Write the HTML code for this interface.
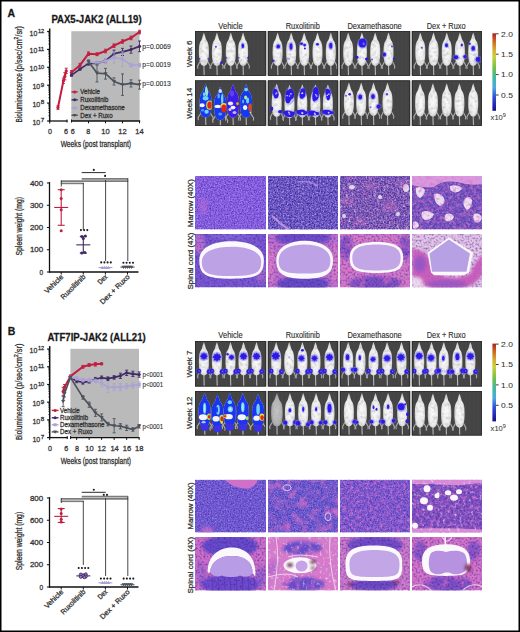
<!DOCTYPE html>
<html><head><meta charset="utf-8"><style>
html,body{margin:0;padding:0;background:#fff;}
svg{display:block;}
text{font-family:"Liberation Sans",sans-serif;stroke:#333;stroke-width:0.28px;}
</style></head><body>
<svg xmlns="http://www.w3.org/2000/svg" width="520" height="632" viewBox="0 0 520 632">
<defs><linearGradient id="cbar" x1="0" y1="0" x2="0" y2="1"><stop offset="0" stop-color="#a82020"/><stop offset="0.08" stop-color="#c85a20"/><stop offset="0.22" stop-color="#d8b030"/><stop offset="0.3" stop-color="#c8d038"/><stop offset="0.45" stop-color="#70c048"/><stop offset="0.58" stop-color="#40b8a8"/><stop offset="0.7" stop-color="#50a8e0"/><stop offset="0.82" stop-color="#3050d8"/><stop offset="1" stop-color="#180c90"/></linearGradient>
<radialGradient id="mg" cx="0.5" cy="0.55" r="0.62"><stop offset="0" stop-color="#fbfbfb"/><stop offset="0.6" stop-color="#ececec"/><stop offset="1" stop-color="#b4b4b4"/></radialGradient>
<radialGradient id="mg2" cx="0.5" cy="0.55" r="0.6"><stop offset="0" stop-color="#c4c4c4"/><stop offset="0.6" stop-color="#b4b4b4"/><stop offset="1" stop-color="#888"/></radialGradient>
<linearGradient id="vstripe" x1="0" y1="0" x2="4" y2="0" spreadMethod="repeat" gradientUnits="userSpaceOnUse"><stop offset="0" stop-color="#3c3c3c"/><stop offset="0.5" stop-color="#4c4c4c"/><stop offset="1" stop-color="#3c3c3c"/></linearGradient>
<filter id="mtex" x="-20%" y="-10%" width="140%" height="120%" color-interpolation-filters="sRGB"><feTurbulence type="fractalNoise" baseFrequency="0.3" numOctaves="2" seed="5" result="n"/><feColorMatrix in="n" type="matrix" values="0 0 0 0 0.66  0 0 0 0 0.66  0 0 0 0 0.67  1.3 0 0 0 -0.6" result="dn"/><feComposite in="dn" in2="SourceGraphic" operator="in" result="dm"/><feMerge result="m"><feMergeNode in="SourceGraphic"/><feMergeNode in="dm"/></feMerge><feGaussianBlur in="m" stdDeviation="0.35"/></filter>
<filter id="bl" x="-50%" y="-50%" width="200%" height="200%"><feGaussianBlur stdDeviation="0.45"/></filter>
<filter id="bl1" x="-20%" y="-20%" width="140%" height="140%"><feGaussianBlur stdDeviation="0.5"/></filter>
<filter id="bl2" x="-50%" y="-50%" width="200%" height="200%"><feGaussianBlur stdDeviation="1.5"/></filter>
<filter id="dk1" x="0" y="0" width="1" height="1" filterUnits="objectBoundingBox" color-interpolation-filters="sRGB"><feTurbulence type="fractalNoise" baseFrequency="0.7" numOctaves="2" seed="3"/><feColorMatrix type="matrix" values="0 0 0 0 0.227 0 0 0 0 0.133 0 0 0 0 0.565 1.5 0 0 0 -0.55"/></filter><filter id="lt1" x="0" y="0" width="1" height="1" filterUnits="objectBoundingBox" color-interpolation-filters="sRGB"><feTurbulence type="fractalNoise" baseFrequency="0.65" numOctaves="2" seed="11"/><feColorMatrix type="matrix" values="0 0 0 0 0.847 0 0 0 0 0.800 0 0 0 0 1.000 1.4 0 0 0 -0.8"/></filter><filter id="dk2" x="0" y="0" width="1" height="1" filterUnits="objectBoundingBox" color-interpolation-filters="sRGB"><feTurbulence type="fractalNoise" baseFrequency="0.65" numOctaves="2" seed="5"/><feColorMatrix type="matrix" values="0 0 0 0 0.173 0 0 0 0 0.094 0 0 0 0 0.471 1.7 0 0 0 -0.55"/></filter><filter id="lt2" x="0" y="0" width="1" height="1" filterUnits="objectBoundingBox" color-interpolation-filters="sRGB"><feTurbulence type="fractalNoise" baseFrequency="0.6" numOctaves="2" seed="17"/><feColorMatrix type="matrix" values="0 0 0 0 0.863 0 0 0 0 0.816 0 0 0 0 1.000 1.7 0 0 0 -0.9"/></filter><filter id="pk1" x="0" y="0" width="1" height="1" filterUnits="objectBoundingBox" color-interpolation-filters="sRGB"><feTurbulence type="fractalNoise" baseFrequency="0.3" numOctaves="2" seed="21"/><feColorMatrix type="matrix" values="0 0 0 0 0.878 0 0 0 0 0.439 0 0 0 0 0.784 2.0 0 0 0 -0.9"/></filter><filter id="pk2" x="0" y="0" width="1" height="1" filterUnits="objectBoundingBox" color-interpolation-filters="sRGB"><feTurbulence type="fractalNoise" baseFrequency="0.12" numOctaves="2" seed="29"/><feColorMatrix type="matrix" values="0 0 0 0 0.878 0 0 0 0 0.439 0 0 0 0 0.784 2.0 0 0 0 -0.9"/></filter><filter id="dk3" x="0" y="0" width="1" height="1" filterUnits="objectBoundingBox" color-interpolation-filters="sRGB"><feTurbulence type="fractalNoise" baseFrequency="0.5" numOctaves="2" seed="37"/><feColorMatrix type="matrix" values="0 0 0 0 0.227 0 0 0 0 0.125 0 0 0 0 0.533 1.4 0 0 0 -0.6"/></filter><filter id="lt3" x="0" y="0" width="1" height="1" filterUnits="objectBoundingBox" color-interpolation-filters="sRGB"><feTurbulence type="fractalNoise" baseFrequency="0.35" numOctaves="2" seed="41"/><feColorMatrix type="matrix" values="0 0 0 0 1.000 0 0 0 0 1.000 0 0 0 0 1.000 1.8 0 0 0 -1.05"/></filter></defs>
<rect x="0" y="0" width="520" height="632" fill="#fff"/>
<text x="7.40" y="16.80" font-size="10.5" text-anchor="start" font-weight="bold" fill="#111" >A</text>
<text x="7.80" y="334.80" font-size="10.5" text-anchor="start" font-weight="bold" fill="#111" >B</text>
<text x="51.40" y="22.90" font-size="10.1" text-anchor="start" font-weight="bold" fill="#111" textLength="90.2" lengthAdjust="spacingAndGlyphs" >PAX5-JAK2 (ALL19)</text>
<text x="47.40" y="341.00" font-size="10.1" text-anchor="start" font-weight="bold" fill="#111" textLength="98.3" lengthAdjust="spacingAndGlyphs" >ATF7IP-JAK2 (ALL21)</text>
<rect x="71.3" y="31.20" width="68.30" height="89.80" fill="#bababa"/>
<line x1="49.7" y1="28.50" x2="49.7" y2="121.70" stroke="#111" stroke-width="1.5"/>
<line x1="47.1" y1="121.00" x2="49.7" y2="121.00" stroke="#111" stroke-width="1.2"/>
<line x1="48.2" y1="115.61" x2="49.7" y2="115.61" stroke="#111" stroke-width="0.55"/>
<line x1="48.2" y1="112.46" x2="49.7" y2="112.46" stroke="#111" stroke-width="0.55"/>
<line x1="48.2" y1="110.22" x2="49.7" y2="110.22" stroke="#111" stroke-width="0.55"/>
<line x1="48.2" y1="108.49" x2="49.7" y2="108.49" stroke="#111" stroke-width="0.55"/>
<line x1="48.2" y1="107.07" x2="49.7" y2="107.07" stroke="#111" stroke-width="0.55"/>
<line x1="48.2" y1="105.87" x2="49.7" y2="105.87" stroke="#111" stroke-width="0.55"/>
<line x1="48.2" y1="104.83" x2="49.7" y2="104.83" stroke="#111" stroke-width="0.55"/>
<line x1="48.2" y1="103.92" x2="49.7" y2="103.92" stroke="#111" stroke-width="0.55"/>
<text x="40.70" y="122.30" font-size="5.6" text-anchor="start" font-weight="normal" fill="#3a3a3a" textLength="3.5" lengthAdjust="spacingAndGlyphs" >7</text>
<text x="40.20" y="125.00" font-size="7.6" text-anchor="end" font-weight="normal" fill="#3a3a3a" textLength="7.8" lengthAdjust="spacingAndGlyphs" >10</text>
<line x1="47.1" y1="103.10" x2="49.7" y2="103.10" stroke="#111" stroke-width="1.2"/>
<line x1="48.2" y1="97.71" x2="49.7" y2="97.71" stroke="#111" stroke-width="0.55"/>
<line x1="48.2" y1="94.56" x2="49.7" y2="94.56" stroke="#111" stroke-width="0.55"/>
<line x1="48.2" y1="92.32" x2="49.7" y2="92.32" stroke="#111" stroke-width="0.55"/>
<line x1="48.2" y1="90.59" x2="49.7" y2="90.59" stroke="#111" stroke-width="0.55"/>
<line x1="48.2" y1="89.17" x2="49.7" y2="89.17" stroke="#111" stroke-width="0.55"/>
<line x1="48.2" y1="87.97" x2="49.7" y2="87.97" stroke="#111" stroke-width="0.55"/>
<line x1="48.2" y1="86.93" x2="49.7" y2="86.93" stroke="#111" stroke-width="0.55"/>
<line x1="48.2" y1="86.02" x2="49.7" y2="86.02" stroke="#111" stroke-width="0.55"/>
<text x="40.70" y="104.40" font-size="5.6" text-anchor="start" font-weight="normal" fill="#3a3a3a" textLength="3.5" lengthAdjust="spacingAndGlyphs" >8</text>
<text x="40.20" y="107.10" font-size="7.6" text-anchor="end" font-weight="normal" fill="#3a3a3a" textLength="7.8" lengthAdjust="spacingAndGlyphs" >10</text>
<line x1="47.1" y1="85.20" x2="49.7" y2="85.20" stroke="#111" stroke-width="1.2"/>
<line x1="48.2" y1="79.81" x2="49.7" y2="79.81" stroke="#111" stroke-width="0.55"/>
<line x1="48.2" y1="76.66" x2="49.7" y2="76.66" stroke="#111" stroke-width="0.55"/>
<line x1="48.2" y1="74.42" x2="49.7" y2="74.42" stroke="#111" stroke-width="0.55"/>
<line x1="48.2" y1="72.69" x2="49.7" y2="72.69" stroke="#111" stroke-width="0.55"/>
<line x1="48.2" y1="71.27" x2="49.7" y2="71.27" stroke="#111" stroke-width="0.55"/>
<line x1="48.2" y1="70.07" x2="49.7" y2="70.07" stroke="#111" stroke-width="0.55"/>
<line x1="48.2" y1="69.03" x2="49.7" y2="69.03" stroke="#111" stroke-width="0.55"/>
<line x1="48.2" y1="68.12" x2="49.7" y2="68.12" stroke="#111" stroke-width="0.55"/>
<text x="40.70" y="86.50" font-size="5.6" text-anchor="start" font-weight="normal" fill="#3a3a3a" textLength="3.5" lengthAdjust="spacingAndGlyphs" >9</text>
<text x="40.20" y="89.20" font-size="7.6" text-anchor="end" font-weight="normal" fill="#3a3a3a" textLength="7.8" lengthAdjust="spacingAndGlyphs" >10</text>
<line x1="47.1" y1="67.30" x2="49.7" y2="67.30" stroke="#111" stroke-width="1.2"/>
<line x1="48.2" y1="61.91" x2="49.7" y2="61.91" stroke="#111" stroke-width="0.55"/>
<line x1="48.2" y1="58.76" x2="49.7" y2="58.76" stroke="#111" stroke-width="0.55"/>
<line x1="48.2" y1="56.52" x2="49.7" y2="56.52" stroke="#111" stroke-width="0.55"/>
<line x1="48.2" y1="54.79" x2="49.7" y2="54.79" stroke="#111" stroke-width="0.55"/>
<line x1="48.2" y1="53.37" x2="49.7" y2="53.37" stroke="#111" stroke-width="0.55"/>
<line x1="48.2" y1="52.17" x2="49.7" y2="52.17" stroke="#111" stroke-width="0.55"/>
<line x1="48.2" y1="51.13" x2="49.7" y2="51.13" stroke="#111" stroke-width="0.55"/>
<line x1="48.2" y1="50.22" x2="49.7" y2="50.22" stroke="#111" stroke-width="0.55"/>
<text x="37.90" y="68.60" font-size="5.6" text-anchor="start" font-weight="normal" fill="#3a3a3a" textLength="6.3" lengthAdjust="spacingAndGlyphs" >10</text>
<text x="37.40" y="71.30" font-size="7.6" text-anchor="end" font-weight="normal" fill="#3a3a3a" textLength="7.8" lengthAdjust="spacingAndGlyphs" >10</text>
<line x1="47.1" y1="49.40" x2="49.7" y2="49.40" stroke="#111" stroke-width="1.2"/>
<line x1="48.2" y1="44.01" x2="49.7" y2="44.01" stroke="#111" stroke-width="0.55"/>
<line x1="48.2" y1="40.86" x2="49.7" y2="40.86" stroke="#111" stroke-width="0.55"/>
<line x1="48.2" y1="38.62" x2="49.7" y2="38.62" stroke="#111" stroke-width="0.55"/>
<line x1="48.2" y1="36.89" x2="49.7" y2="36.89" stroke="#111" stroke-width="0.55"/>
<line x1="48.2" y1="35.47" x2="49.7" y2="35.47" stroke="#111" stroke-width="0.55"/>
<line x1="48.2" y1="34.27" x2="49.7" y2="34.27" stroke="#111" stroke-width="0.55"/>
<line x1="48.2" y1="33.23" x2="49.7" y2="33.23" stroke="#111" stroke-width="0.55"/>
<line x1="48.2" y1="32.32" x2="49.7" y2="32.32" stroke="#111" stroke-width="0.55"/>
<text x="37.90" y="50.70" font-size="5.6" text-anchor="start" font-weight="normal" fill="#3a3a3a" textLength="6.3" lengthAdjust="spacingAndGlyphs" >11</text>
<text x="37.40" y="53.40" font-size="7.6" text-anchor="end" font-weight="normal" fill="#3a3a3a" textLength="7.8" lengthAdjust="spacingAndGlyphs" >10</text>
<line x1="47.1" y1="31.50" x2="49.7" y2="31.50" stroke="#111" stroke-width="1.2"/>
<text x="37.90" y="32.80" font-size="5.6" text-anchor="start" font-weight="normal" fill="#3a3a3a" textLength="6.3" lengthAdjust="spacingAndGlyphs" >12</text>
<text x="37.40" y="35.50" font-size="7.6" text-anchor="end" font-weight="normal" fill="#3a3a3a" textLength="7.8" lengthAdjust="spacingAndGlyphs" >10</text>
<line x1="49.0" y1="121.00" x2="67.5" y2="121.00" stroke="#111" stroke-width="1.3"/>
<line x1="71.1" y1="121.00" x2="140.2" y2="121.00" stroke="#111" stroke-width="1.3"/>
<line x1="49.7" y1="121.00" x2="49.7" y2="123.50" stroke="#111" stroke-width="1"/>
<line x1="67" y1="119.50" x2="67" y2="122.50" stroke="#111" stroke-width="1"/>
<line x1="71.5" y1="119.50" x2="71.5" y2="122.50" stroke="#111" stroke-width="1"/>
<line x1="88.50" y1="121.00" x2="88.50" y2="123.30" stroke="#111" stroke-width="1"/>
<line x1="105.50" y1="121.00" x2="105.50" y2="123.30" stroke="#111" stroke-width="1"/>
<line x1="122.50" y1="121.00" x2="122.50" y2="123.30" stroke="#111" stroke-width="1"/>
<line x1="139.50" y1="121.00" x2="139.50" y2="123.30" stroke="#111" stroke-width="1"/>
<text x="49.90" y="134.10" font-size="7.6" text-anchor="middle" font-weight="normal" fill="#3a3a3a" textLength="4.0" lengthAdjust="spacingAndGlyphs" >0</text>
<text x="66.10" y="134.10" font-size="7.6" text-anchor="middle" font-weight="normal" fill="#3a3a3a" textLength="4.0" lengthAdjust="spacingAndGlyphs" >6</text>
<text x="72.80" y="134.10" font-size="7.6" text-anchor="middle" font-weight="normal" fill="#3a3a3a" textLength="4.0" lengthAdjust="spacingAndGlyphs" >6</text>
<text x="88.30" y="134.10" font-size="7.6" text-anchor="middle" font-weight="normal" fill="#3a3a3a" textLength="4.0" lengthAdjust="spacingAndGlyphs" >8</text>
<text x="105.50" y="134.10" font-size="7.6" text-anchor="middle" font-weight="normal" fill="#3a3a3a" textLength="8.4" lengthAdjust="spacingAndGlyphs" >10</text>
<text x="122.50" y="134.10" font-size="7.6" text-anchor="middle" font-weight="normal" fill="#3a3a3a" textLength="8.4" lengthAdjust="spacingAndGlyphs" >12</text>
<text x="139.40" y="134.10" font-size="7.6" text-anchor="middle" font-weight="normal" fill="#3a3a3a" textLength="8.4" lengthAdjust="spacingAndGlyphs" >14</text>
<text x="95.90" y="146.90" font-size="8.9" text-anchor="middle" font-weight="normal" fill="#2a2a2a" textLength="70.4" lengthAdjust="spacingAndGlyphs" >Weeks (post transplant)</text>
<text x="0" y="0" font-size="8.4" text-anchor="start" fill="#2a2a2a" textLength="49.5" lengthAdjust="spacingAndGlyphs" transform="translate(21.60,122.50) rotate(-90)">Bioluminescence</text>
<text x="0" y="0" font-size="8.4" text-anchor="start" fill="#2a2a2a" textLength="45.8" lengthAdjust="spacingAndGlyphs" transform="translate(21.60,71.70) rotate(-90)">(p/sec/cm<tspan font-size="5.5" dy="-3.2">2</tspan><tspan dy="3.2">/sr)</tspan></text>
<polyline points="57.95,107.57 63.45,80.72 64.83,76.25 66.20,70.88" fill="none" stroke="#c21f40" stroke-width="2.0" stroke-linejoin="round"/>
<polyline points="71.51,72.31 80.00,65.15 88.50,53.70 97.00,54.23 105.50,51.01 114.00,45.64 122.50,41.52 131.00,37.94 139.50,32.04" fill="none" stroke="#c21f40" stroke-width="2.0" stroke-linejoin="round"/>
<line x1="57.95" y1="105.78" x2="57.95" y2="109.36" stroke="#c21f40" stroke-width="0.9"/>
<line x1="56.45" y1="105.78" x2="59.45" y2="105.78" stroke="#c21f40" stroke-width="0.9"/>
<line x1="56.45" y1="109.36" x2="59.45" y2="109.36" stroke="#c21f40" stroke-width="0.9"/>
<circle cx="57.95" cy="107.57" r="1.6" fill="#c21f40"/>
<line x1="63.45" y1="78.04" x2="63.45" y2="83.41" stroke="#c21f40" stroke-width="0.9"/>
<line x1="61.95" y1="78.04" x2="64.95" y2="78.04" stroke="#c21f40" stroke-width="0.9"/>
<line x1="61.95" y1="83.41" x2="64.95" y2="83.41" stroke="#c21f40" stroke-width="0.9"/>
<circle cx="63.45" cy="80.72" r="1.6" fill="#c21f40"/>
<line x1="64.83" y1="72.67" x2="64.83" y2="79.83" stroke="#c21f40" stroke-width="0.9"/>
<line x1="63.33" y1="72.67" x2="66.33" y2="72.67" stroke="#c21f40" stroke-width="0.9"/>
<line x1="63.33" y1="79.83" x2="66.33" y2="79.83" stroke="#c21f40" stroke-width="0.9"/>
<circle cx="64.83" cy="76.25" r="1.6" fill="#c21f40"/>
<line x1="66.20" y1="68.19" x2="66.20" y2="73.56" stroke="#c21f40" stroke-width="0.9"/>
<line x1="64.70" y1="68.19" x2="67.70" y2="68.19" stroke="#c21f40" stroke-width="0.9"/>
<line x1="64.70" y1="73.56" x2="67.70" y2="73.56" stroke="#c21f40" stroke-width="0.9"/>
<circle cx="66.20" cy="70.88" r="1.6" fill="#c21f40"/>
<line x1="71.51" y1="70.52" x2="71.51" y2="74.10" stroke="#c21f40" stroke-width="0.9"/>
<line x1="70.01" y1="70.52" x2="73.01" y2="70.52" stroke="#c21f40" stroke-width="0.9"/>
<line x1="70.01" y1="74.10" x2="73.01" y2="74.10" stroke="#c21f40" stroke-width="0.9"/>
<circle cx="71.51" cy="72.31" r="1.6" fill="#c21f40"/>
<line x1="80.00" y1="63.36" x2="80.00" y2="66.94" stroke="#c21f40" stroke-width="0.9"/>
<line x1="78.50" y1="63.36" x2="81.50" y2="63.36" stroke="#c21f40" stroke-width="0.9"/>
<line x1="78.50" y1="66.94" x2="81.50" y2="66.94" stroke="#c21f40" stroke-width="0.9"/>
<circle cx="80.00" cy="65.15" r="1.6" fill="#c21f40"/>
<line x1="88.50" y1="51.91" x2="88.50" y2="55.49" stroke="#c21f40" stroke-width="0.9"/>
<line x1="87.00" y1="51.91" x2="90.00" y2="51.91" stroke="#c21f40" stroke-width="0.9"/>
<line x1="87.00" y1="55.49" x2="90.00" y2="55.49" stroke="#c21f40" stroke-width="0.9"/>
<circle cx="88.50" cy="53.70" r="1.6" fill="#c21f40"/>
<line x1="97.00" y1="52.80" x2="97.00" y2="55.66" stroke="#c21f40" stroke-width="0.9"/>
<line x1="95.50" y1="52.80" x2="98.50" y2="52.80" stroke="#c21f40" stroke-width="0.9"/>
<line x1="95.50" y1="55.66" x2="98.50" y2="55.66" stroke="#c21f40" stroke-width="0.9"/>
<circle cx="97.00" cy="54.23" r="1.6" fill="#c21f40"/>
<line x1="105.50" y1="49.22" x2="105.50" y2="52.80" stroke="#c21f40" stroke-width="0.9"/>
<line x1="104.00" y1="49.22" x2="107.00" y2="49.22" stroke="#c21f40" stroke-width="0.9"/>
<line x1="104.00" y1="52.80" x2="107.00" y2="52.80" stroke="#c21f40" stroke-width="0.9"/>
<circle cx="105.50" cy="51.01" r="1.6" fill="#c21f40"/>
<line x1="114.00" y1="43.85" x2="114.00" y2="47.43" stroke="#c21f40" stroke-width="0.9"/>
<line x1="112.50" y1="43.85" x2="115.50" y2="43.85" stroke="#c21f40" stroke-width="0.9"/>
<line x1="112.50" y1="47.43" x2="115.50" y2="47.43" stroke="#c21f40" stroke-width="0.9"/>
<circle cx="114.00" cy="45.64" r="1.6" fill="#c21f40"/>
<line x1="122.50" y1="39.73" x2="122.50" y2="43.31" stroke="#c21f40" stroke-width="0.9"/>
<line x1="121.00" y1="39.73" x2="124.00" y2="39.73" stroke="#c21f40" stroke-width="0.9"/>
<line x1="121.00" y1="43.31" x2="124.00" y2="43.31" stroke="#c21f40" stroke-width="0.9"/>
<circle cx="122.50" cy="41.52" r="1.6" fill="#c21f40"/>
<line x1="131.00" y1="36.15" x2="131.00" y2="39.73" stroke="#c21f40" stroke-width="0.9"/>
<line x1="129.50" y1="36.15" x2="132.50" y2="36.15" stroke="#c21f40" stroke-width="0.9"/>
<line x1="129.50" y1="39.73" x2="132.50" y2="39.73" stroke="#c21f40" stroke-width="0.9"/>
<circle cx="131.00" cy="37.94" r="1.6" fill="#c21f40"/>
<line x1="139.50" y1="30.25" x2="139.50" y2="33.83" stroke="#c21f40" stroke-width="0.9"/>
<line x1="138.00" y1="30.25" x2="141.00" y2="30.25" stroke="#c21f40" stroke-width="0.9"/>
<line x1="138.00" y1="33.83" x2="141.00" y2="33.83" stroke="#c21f40" stroke-width="0.9"/>
<circle cx="139.50" cy="32.04" r="1.6" fill="#c21f40"/>
<polyline points="71.51,75.18 80.00,69.09 88.50,63.36 97.00,63.36 105.50,60.86 114.00,53.70 122.50,51.91 131.00,49.58 139.50,46.36" fill="none" stroke="#3f2a66" stroke-width="1.7" stroke-linejoin="round"/>
<line x1="71.51" y1="74.28" x2="71.51" y2="76.07" stroke="#3f2a66" stroke-width="0.9"/>
<line x1="70.01" y1="74.28" x2="73.01" y2="74.28" stroke="#3f2a66" stroke-width="0.9"/>
<line x1="70.01" y1="76.07" x2="73.01" y2="76.07" stroke="#3f2a66" stroke-width="0.9"/>
<circle cx="71.51" cy="75.18" r="1.6" fill="#3f2a66"/>
<line x1="80.00" y1="68.19" x2="80.00" y2="69.98" stroke="#3f2a66" stroke-width="0.9"/>
<line x1="78.50" y1="68.19" x2="81.50" y2="68.19" stroke="#3f2a66" stroke-width="0.9"/>
<line x1="78.50" y1="69.98" x2="81.50" y2="69.98" stroke="#3f2a66" stroke-width="0.9"/>
<circle cx="80.00" cy="69.09" r="1.6" fill="#3f2a66"/>
<line x1="88.50" y1="61.57" x2="88.50" y2="65.15" stroke="#3f2a66" stroke-width="0.9"/>
<line x1="87.00" y1="61.57" x2="90.00" y2="61.57" stroke="#3f2a66" stroke-width="0.9"/>
<line x1="87.00" y1="65.15" x2="90.00" y2="65.15" stroke="#3f2a66" stroke-width="0.9"/>
<circle cx="88.50" cy="63.36" r="1.6" fill="#3f2a66"/>
<line x1="97.00" y1="61.57" x2="97.00" y2="65.15" stroke="#3f2a66" stroke-width="0.9"/>
<line x1="95.50" y1="61.57" x2="98.50" y2="61.57" stroke="#3f2a66" stroke-width="0.9"/>
<line x1="95.50" y1="65.15" x2="98.50" y2="65.15" stroke="#3f2a66" stroke-width="0.9"/>
<circle cx="97.00" cy="63.36" r="1.6" fill="#3f2a66"/>
<line x1="105.50" y1="59.07" x2="105.50" y2="62.65" stroke="#3f2a66" stroke-width="0.9"/>
<line x1="104.00" y1="59.07" x2="107.00" y2="59.07" stroke="#3f2a66" stroke-width="0.9"/>
<line x1="104.00" y1="62.65" x2="107.00" y2="62.65" stroke="#3f2a66" stroke-width="0.9"/>
<circle cx="105.50" cy="60.86" r="1.6" fill="#3f2a66"/>
<line x1="114.00" y1="50.12" x2="114.00" y2="57.28" stroke="#3f2a66" stroke-width="0.9"/>
<line x1="112.50" y1="50.12" x2="115.50" y2="50.12" stroke="#3f2a66" stroke-width="0.9"/>
<line x1="112.50" y1="57.28" x2="115.50" y2="57.28" stroke="#3f2a66" stroke-width="0.9"/>
<circle cx="114.00" cy="53.70" r="1.6" fill="#3f2a66"/>
<line x1="122.50" y1="48.33" x2="122.50" y2="55.49" stroke="#3f2a66" stroke-width="0.9"/>
<line x1="121.00" y1="48.33" x2="124.00" y2="48.33" stroke="#3f2a66" stroke-width="0.9"/>
<line x1="121.00" y1="55.49" x2="124.00" y2="55.49" stroke="#3f2a66" stroke-width="0.9"/>
<circle cx="122.50" cy="51.91" r="1.6" fill="#3f2a66"/>
<line x1="131.00" y1="46.00" x2="131.00" y2="53.16" stroke="#3f2a66" stroke-width="0.9"/>
<line x1="129.50" y1="46.00" x2="132.50" y2="46.00" stroke="#3f2a66" stroke-width="0.9"/>
<line x1="129.50" y1="53.16" x2="132.50" y2="53.16" stroke="#3f2a66" stroke-width="0.9"/>
<circle cx="131.00" cy="49.58" r="1.6" fill="#3f2a66"/>
<line x1="139.50" y1="40.99" x2="139.50" y2="51.73" stroke="#3f2a66" stroke-width="0.9"/>
<line x1="138.00" y1="40.99" x2="141.00" y2="40.99" stroke="#3f2a66" stroke-width="0.9"/>
<line x1="138.00" y1="51.73" x2="141.00" y2="51.73" stroke="#3f2a66" stroke-width="0.9"/>
<circle cx="139.50" cy="46.36" r="1.6" fill="#3f2a66"/>
<polyline points="88.50,61.75 97.00,63.18 105.50,61.04 114.00,57.63 122.50,59.07 131.00,65.15 139.50,65.15" fill="none" stroke="#aaa3d4" stroke-width="1.7" stroke-linejoin="round"/>
<line x1="88.50" y1="59.96" x2="88.50" y2="63.54" stroke="#aaa3d4" stroke-width="0.9"/>
<line x1="87.00" y1="59.96" x2="90.00" y2="59.96" stroke="#aaa3d4" stroke-width="0.9"/>
<line x1="87.00" y1="63.54" x2="90.00" y2="63.54" stroke="#aaa3d4" stroke-width="0.9"/>
<rect x="86.90" y="60.15" width="3.2" height="3.2" fill="#aaa3d4"/>
<line x1="97.00" y1="61.39" x2="97.00" y2="64.97" stroke="#aaa3d4" stroke-width="0.9"/>
<line x1="95.50" y1="61.39" x2="98.50" y2="61.39" stroke="#aaa3d4" stroke-width="0.9"/>
<line x1="95.50" y1="64.97" x2="98.50" y2="64.97" stroke="#aaa3d4" stroke-width="0.9"/>
<rect x="95.40" y="61.58" width="3.2" height="3.2" fill="#aaa3d4"/>
<line x1="105.50" y1="58.35" x2="105.50" y2="63.72" stroke="#aaa3d4" stroke-width="0.9"/>
<line x1="104.00" y1="58.35" x2="107.00" y2="58.35" stroke="#aaa3d4" stroke-width="0.9"/>
<line x1="104.00" y1="63.72" x2="107.00" y2="63.72" stroke="#aaa3d4" stroke-width="0.9"/>
<rect x="103.90" y="59.44" width="3.2" height="3.2" fill="#aaa3d4"/>
<line x1="114.00" y1="52.26" x2="114.00" y2="63.00" stroke="#aaa3d4" stroke-width="0.9"/>
<line x1="112.50" y1="52.26" x2="115.50" y2="52.26" stroke="#aaa3d4" stroke-width="0.9"/>
<line x1="112.50" y1="63.00" x2="115.50" y2="63.00" stroke="#aaa3d4" stroke-width="0.9"/>
<rect x="112.40" y="56.03" width="3.2" height="3.2" fill="#aaa3d4"/>
<line x1="122.50" y1="51.91" x2="122.50" y2="66.23" stroke="#aaa3d4" stroke-width="0.9"/>
<line x1="121.00" y1="51.91" x2="124.00" y2="51.91" stroke="#aaa3d4" stroke-width="0.9"/>
<line x1="121.00" y1="66.23" x2="124.00" y2="66.23" stroke="#aaa3d4" stroke-width="0.9"/>
<rect x="120.90" y="57.47" width="3.2" height="3.2" fill="#aaa3d4"/>
<line x1="131.00" y1="63.36" x2="131.00" y2="66.94" stroke="#aaa3d4" stroke-width="0.9"/>
<line x1="129.50" y1="63.36" x2="132.50" y2="63.36" stroke="#aaa3d4" stroke-width="0.9"/>
<line x1="129.50" y1="66.94" x2="132.50" y2="66.94" stroke="#aaa3d4" stroke-width="0.9"/>
<rect x="129.40" y="63.55" width="3.2" height="3.2" fill="#aaa3d4"/>
<line x1="139.50" y1="63.36" x2="139.50" y2="66.94" stroke="#aaa3d4" stroke-width="0.9"/>
<line x1="138.00" y1="63.36" x2="141.00" y2="63.36" stroke="#aaa3d4" stroke-width="0.9"/>
<line x1="138.00" y1="66.94" x2="141.00" y2="66.94" stroke="#aaa3d4" stroke-width="0.9"/>
<rect x="137.90" y="63.55" width="3.2" height="3.2" fill="#aaa3d4"/>
<polyline points="88.50,61.75 97.00,73.03 105.50,73.74 114.00,81.44 122.50,84.66 131.00,83.41 139.50,84.66" fill="none" stroke="#4d535c" stroke-width="1.7" stroke-linejoin="round"/>
<line x1="88.50" y1="59.96" x2="88.50" y2="63.54" stroke="#4d535c" stroke-width="0.9"/>
<line x1="87.00" y1="59.96" x2="90.00" y2="59.96" stroke="#4d535c" stroke-width="0.9"/>
<line x1="87.00" y1="63.54" x2="90.00" y2="63.54" stroke="#4d535c" stroke-width="0.9"/>
<polygon points="86.42,60.31 90.58,60.31 88.50,63.67" fill="#4d535c"/>
<line x1="97.00" y1="64.08" x2="97.00" y2="81.98" stroke="#4d535c" stroke-width="0.9"/>
<line x1="95.50" y1="64.08" x2="98.50" y2="64.08" stroke="#4d535c" stroke-width="0.9"/>
<line x1="95.50" y1="81.98" x2="98.50" y2="81.98" stroke="#4d535c" stroke-width="0.9"/>
<polygon points="94.92,71.59 99.08,71.59 97.00,74.95" fill="#4d535c"/>
<line x1="105.50" y1="68.37" x2="105.50" y2="79.11" stroke="#4d535c" stroke-width="0.9"/>
<line x1="104.00" y1="68.37" x2="107.00" y2="68.37" stroke="#4d535c" stroke-width="0.9"/>
<line x1="104.00" y1="79.11" x2="107.00" y2="79.11" stroke="#4d535c" stroke-width="0.9"/>
<polygon points="103.42,72.30 107.58,72.30 105.50,75.66" fill="#4d535c"/>
<line x1="114.00" y1="77.86" x2="114.00" y2="85.02" stroke="#4d535c" stroke-width="0.9"/>
<line x1="112.50" y1="77.86" x2="115.50" y2="77.86" stroke="#4d535c" stroke-width="0.9"/>
<line x1="112.50" y1="85.02" x2="115.50" y2="85.02" stroke="#4d535c" stroke-width="0.9"/>
<polygon points="111.92,80.00 116.08,80.00 114.00,83.36" fill="#4d535c"/>
<line x1="122.50" y1="73.92" x2="122.50" y2="95.40" stroke="#4d535c" stroke-width="0.9"/>
<line x1="121.00" y1="73.92" x2="124.00" y2="73.92" stroke="#4d535c" stroke-width="0.9"/>
<line x1="121.00" y1="95.40" x2="124.00" y2="95.40" stroke="#4d535c" stroke-width="0.9"/>
<polygon points="120.42,83.22 124.58,83.22 122.50,86.58" fill="#4d535c"/>
<line x1="131.00" y1="79.83" x2="131.00" y2="86.99" stroke="#4d535c" stroke-width="0.9"/>
<line x1="129.50" y1="79.83" x2="132.50" y2="79.83" stroke="#4d535c" stroke-width="0.9"/>
<line x1="129.50" y1="86.99" x2="132.50" y2="86.99" stroke="#4d535c" stroke-width="0.9"/>
<polygon points="128.92,81.97 133.08,81.97 131.00,85.33" fill="#4d535c"/>
<line x1="139.50" y1="80.19" x2="139.50" y2="89.14" stroke="#4d535c" stroke-width="0.9"/>
<line x1="138.00" y1="80.19" x2="141.00" y2="80.19" stroke="#4d535c" stroke-width="0.9"/>
<line x1="138.00" y1="89.14" x2="141.00" y2="89.14" stroke="#4d535c" stroke-width="0.9"/>
<polygon points="137.42,83.22 141.58,83.22 139.50,86.58" fill="#4d535c"/>
<line x1="71.5" y1="91.90" x2="77.7" y2="91.90" stroke="#c21f40" stroke-width="1.4"/>
<circle cx="74.60" cy="91.90" r="1.5" fill="#c21f40"/>
<text x="80.30" y="94.30" font-size="6.7" text-anchor="start" font-weight="normal" fill="#2a2a2a" textLength="19.6" lengthAdjust="spacingAndGlyphs" >Vehicle</text>
<line x1="71.5" y1="99.80" x2="77.7" y2="99.80" stroke="#3f2a66" stroke-width="1.4"/>
<circle cx="74.60" cy="99.80" r="1.5" fill="#3f2a66"/>
<text x="80.30" y="102.20" font-size="6.7" text-anchor="start" font-weight="normal" fill="#2a2a2a" textLength="28" lengthAdjust="spacingAndGlyphs" >Ruxolitinib</text>
<line x1="71.5" y1="107.90" x2="77.7" y2="107.90" stroke="#aaa3d4" stroke-width="1.4"/>
<rect x="73.10" y="106.40" width="3.0" height="3.0" fill="#aaa3d4"/>
<text x="80.30" y="110.30" font-size="6.7" text-anchor="start" font-weight="normal" fill="#2a2a2a" textLength="44.4" lengthAdjust="spacingAndGlyphs" >Dexamethasone</text>
<line x1="71.5" y1="115.30" x2="77.7" y2="115.30" stroke="#4d535c" stroke-width="1.4"/>
<polygon points="72.65,113.95 76.55,113.95 74.60,117.10" fill="#4d535c"/>
<text x="80.30" y="117.70" font-size="6.7" text-anchor="start" font-weight="normal" fill="#2a2a2a" textLength="32.3" lengthAdjust="spacingAndGlyphs" >Dex + Ruxo</text>
<text x="142.30" y="48.70" font-size="6.9" text-anchor="start" font-weight="normal" fill="#2a2a2a" textLength="28.5" lengthAdjust="spacingAndGlyphs" style="stroke-width:0.1px">p=0.0069</text>
<text x="142.30" y="67.30" font-size="6.9" text-anchor="start" font-weight="normal" fill="#2a2a2a" textLength="28.5" lengthAdjust="spacingAndGlyphs" style="stroke-width:0.1px">p=0.0019</text>
<text x="142.30" y="86.20" font-size="6.9" text-anchor="start" font-weight="normal" fill="#2a2a2a" textLength="28.5" lengthAdjust="spacingAndGlyphs" style="stroke-width:0.1px">p=0.0013</text>
<rect x="70.4" y="348.80" width="68.60" height="88.80" fill="#bababa"/>
<line x1="49.7" y1="346.10" x2="49.7" y2="438.30" stroke="#111" stroke-width="1.5"/>
<line x1="47.1" y1="437.60" x2="49.7" y2="437.60" stroke="#111" stroke-width="1.2"/>
<line x1="48.2" y1="432.27" x2="49.7" y2="432.27" stroke="#111" stroke-width="0.55"/>
<line x1="48.2" y1="429.15" x2="49.7" y2="429.15" stroke="#111" stroke-width="0.55"/>
<line x1="48.2" y1="426.94" x2="49.7" y2="426.94" stroke="#111" stroke-width="0.55"/>
<line x1="48.2" y1="425.23" x2="49.7" y2="425.23" stroke="#111" stroke-width="0.55"/>
<line x1="48.2" y1="423.83" x2="49.7" y2="423.83" stroke="#111" stroke-width="0.55"/>
<line x1="48.2" y1="422.64" x2="49.7" y2="422.64" stroke="#111" stroke-width="0.55"/>
<line x1="48.2" y1="421.62" x2="49.7" y2="421.62" stroke="#111" stroke-width="0.55"/>
<line x1="48.2" y1="420.71" x2="49.7" y2="420.71" stroke="#111" stroke-width="0.55"/>
<text x="40.70" y="438.90" font-size="5.6" text-anchor="start" font-weight="normal" fill="#3a3a3a" textLength="3.5" lengthAdjust="spacingAndGlyphs" >7</text>
<text x="40.20" y="441.60" font-size="7.6" text-anchor="end" font-weight="normal" fill="#3a3a3a" textLength="7.8" lengthAdjust="spacingAndGlyphs" >10</text>
<line x1="47.1" y1="419.90" x2="49.7" y2="419.90" stroke="#111" stroke-width="1.2"/>
<line x1="48.2" y1="414.57" x2="49.7" y2="414.57" stroke="#111" stroke-width="0.55"/>
<line x1="48.2" y1="411.45" x2="49.7" y2="411.45" stroke="#111" stroke-width="0.55"/>
<line x1="48.2" y1="409.24" x2="49.7" y2="409.24" stroke="#111" stroke-width="0.55"/>
<line x1="48.2" y1="407.53" x2="49.7" y2="407.53" stroke="#111" stroke-width="0.55"/>
<line x1="48.2" y1="406.13" x2="49.7" y2="406.13" stroke="#111" stroke-width="0.55"/>
<line x1="48.2" y1="404.94" x2="49.7" y2="404.94" stroke="#111" stroke-width="0.55"/>
<line x1="48.2" y1="403.92" x2="49.7" y2="403.92" stroke="#111" stroke-width="0.55"/>
<line x1="48.2" y1="403.01" x2="49.7" y2="403.01" stroke="#111" stroke-width="0.55"/>
<text x="40.70" y="421.20" font-size="5.6" text-anchor="start" font-weight="normal" fill="#3a3a3a" textLength="3.5" lengthAdjust="spacingAndGlyphs" >8</text>
<text x="40.20" y="423.90" font-size="7.6" text-anchor="end" font-weight="normal" fill="#3a3a3a" textLength="7.8" lengthAdjust="spacingAndGlyphs" >10</text>
<line x1="47.1" y1="402.20" x2="49.7" y2="402.20" stroke="#111" stroke-width="1.2"/>
<line x1="48.2" y1="396.87" x2="49.7" y2="396.87" stroke="#111" stroke-width="0.55"/>
<line x1="48.2" y1="393.75" x2="49.7" y2="393.75" stroke="#111" stroke-width="0.55"/>
<line x1="48.2" y1="391.54" x2="49.7" y2="391.54" stroke="#111" stroke-width="0.55"/>
<line x1="48.2" y1="389.83" x2="49.7" y2="389.83" stroke="#111" stroke-width="0.55"/>
<line x1="48.2" y1="388.43" x2="49.7" y2="388.43" stroke="#111" stroke-width="0.55"/>
<line x1="48.2" y1="387.24" x2="49.7" y2="387.24" stroke="#111" stroke-width="0.55"/>
<line x1="48.2" y1="386.22" x2="49.7" y2="386.22" stroke="#111" stroke-width="0.55"/>
<line x1="48.2" y1="385.31" x2="49.7" y2="385.31" stroke="#111" stroke-width="0.55"/>
<text x="40.70" y="403.50" font-size="5.6" text-anchor="start" font-weight="normal" fill="#3a3a3a" textLength="3.5" lengthAdjust="spacingAndGlyphs" >9</text>
<text x="40.20" y="406.20" font-size="7.6" text-anchor="end" font-weight="normal" fill="#3a3a3a" textLength="7.8" lengthAdjust="spacingAndGlyphs" >10</text>
<line x1="47.1" y1="384.50" x2="49.7" y2="384.50" stroke="#111" stroke-width="1.2"/>
<line x1="48.2" y1="379.17" x2="49.7" y2="379.17" stroke="#111" stroke-width="0.55"/>
<line x1="48.2" y1="376.05" x2="49.7" y2="376.05" stroke="#111" stroke-width="0.55"/>
<line x1="48.2" y1="373.84" x2="49.7" y2="373.84" stroke="#111" stroke-width="0.55"/>
<line x1="48.2" y1="372.13" x2="49.7" y2="372.13" stroke="#111" stroke-width="0.55"/>
<line x1="48.2" y1="370.73" x2="49.7" y2="370.73" stroke="#111" stroke-width="0.55"/>
<line x1="48.2" y1="369.54" x2="49.7" y2="369.54" stroke="#111" stroke-width="0.55"/>
<line x1="48.2" y1="368.52" x2="49.7" y2="368.52" stroke="#111" stroke-width="0.55"/>
<line x1="48.2" y1="367.61" x2="49.7" y2="367.61" stroke="#111" stroke-width="0.55"/>
<text x="37.90" y="385.80" font-size="5.6" text-anchor="start" font-weight="normal" fill="#3a3a3a" textLength="6.3" lengthAdjust="spacingAndGlyphs" >10</text>
<text x="37.40" y="388.50" font-size="7.6" text-anchor="end" font-weight="normal" fill="#3a3a3a" textLength="7.8" lengthAdjust="spacingAndGlyphs" >10</text>
<line x1="47.1" y1="366.80" x2="49.7" y2="366.80" stroke="#111" stroke-width="1.2"/>
<line x1="48.2" y1="361.47" x2="49.7" y2="361.47" stroke="#111" stroke-width="0.55"/>
<line x1="48.2" y1="358.35" x2="49.7" y2="358.35" stroke="#111" stroke-width="0.55"/>
<line x1="48.2" y1="356.14" x2="49.7" y2="356.14" stroke="#111" stroke-width="0.55"/>
<line x1="48.2" y1="354.43" x2="49.7" y2="354.43" stroke="#111" stroke-width="0.55"/>
<line x1="48.2" y1="353.03" x2="49.7" y2="353.03" stroke="#111" stroke-width="0.55"/>
<line x1="48.2" y1="351.84" x2="49.7" y2="351.84" stroke="#111" stroke-width="0.55"/>
<line x1="48.2" y1="350.82" x2="49.7" y2="350.82" stroke="#111" stroke-width="0.55"/>
<line x1="48.2" y1="349.91" x2="49.7" y2="349.91" stroke="#111" stroke-width="0.55"/>
<text x="37.90" y="368.10" font-size="5.6" text-anchor="start" font-weight="normal" fill="#3a3a3a" textLength="6.3" lengthAdjust="spacingAndGlyphs" >11</text>
<text x="37.40" y="370.80" font-size="7.6" text-anchor="end" font-weight="normal" fill="#3a3a3a" textLength="7.8" lengthAdjust="spacingAndGlyphs" >10</text>
<line x1="47.1" y1="349.10" x2="49.7" y2="349.10" stroke="#111" stroke-width="1.2"/>
<text x="37.90" y="350.40" font-size="5.6" text-anchor="start" font-weight="normal" fill="#3a3a3a" textLength="6.3" lengthAdjust="spacingAndGlyphs" >12</text>
<text x="37.40" y="353.10" font-size="7.6" text-anchor="end" font-weight="normal" fill="#3a3a3a" textLength="7.8" lengthAdjust="spacingAndGlyphs" >10</text>
<line x1="49.0" y1="437.60" x2="67.7" y2="437.60" stroke="#111" stroke-width="1.3"/>
<line x1="70.2" y1="437.60" x2="139.6" y2="437.60" stroke="#111" stroke-width="1.3"/>
<line x1="49.7" y1="437.60" x2="49.7" y2="440.10" stroke="#111" stroke-width="1"/>
<line x1="67.2" y1="436.10" x2="67.2" y2="439.10" stroke="#111" stroke-width="1"/>
<line x1="70.60000000000001" y1="436.10" x2="70.60000000000001" y2="439.10" stroke="#111" stroke-width="1"/>
<line x1="76.65" y1="437.60" x2="76.65" y2="439.90" stroke="#111" stroke-width="1"/>
<line x1="89.15" y1="437.60" x2="89.15" y2="439.90" stroke="#111" stroke-width="1"/>
<line x1="101.65" y1="437.60" x2="101.65" y2="439.90" stroke="#111" stroke-width="1"/>
<line x1="114.15" y1="437.60" x2="114.15" y2="439.90" stroke="#111" stroke-width="1"/>
<line x1="126.65" y1="437.60" x2="126.65" y2="439.90" stroke="#111" stroke-width="1"/>
<line x1="139.15" y1="437.60" x2="139.15" y2="439.90" stroke="#111" stroke-width="1"/>
<text x="50.10" y="450.70" font-size="7.6" text-anchor="middle" font-weight="normal" fill="#3a3a3a" textLength="4.0" lengthAdjust="spacingAndGlyphs" >0</text>
<text x="66.30" y="450.70" font-size="7.6" text-anchor="middle" font-weight="normal" fill="#3a3a3a" textLength="4.0" lengthAdjust="spacingAndGlyphs" >6</text>
<text x="76.90" y="450.70" font-size="7.6" text-anchor="middle" font-weight="normal" fill="#3a3a3a" textLength="4.0" lengthAdjust="spacingAndGlyphs" >8</text>
<text x="89.40" y="450.70" font-size="7.6" text-anchor="middle" font-weight="normal" fill="#3a3a3a" textLength="8.4" lengthAdjust="spacingAndGlyphs" >10</text>
<text x="101.80" y="450.70" font-size="7.6" text-anchor="middle" font-weight="normal" fill="#3a3a3a" textLength="8.4" lengthAdjust="spacingAndGlyphs" >12</text>
<text x="114.60" y="450.70" font-size="7.6" text-anchor="middle" font-weight="normal" fill="#3a3a3a" textLength="8.4" lengthAdjust="spacingAndGlyphs" >14</text>
<text x="127.00" y="450.70" font-size="7.6" text-anchor="middle" font-weight="normal" fill="#3a3a3a" textLength="8.4" lengthAdjust="spacingAndGlyphs" >16</text>
<text x="139.30" y="450.70" font-size="7.6" text-anchor="middle" font-weight="normal" fill="#3a3a3a" textLength="8.4" lengthAdjust="spacingAndGlyphs" >18</text>
<text x="95.90" y="463.50" font-size="8.9" text-anchor="middle" font-weight="normal" fill="#2a2a2a" textLength="70.4" lengthAdjust="spacingAndGlyphs" >Weeks (post transplant)</text>
<text x="0" y="0" font-size="8.4" text-anchor="start" fill="#2a2a2a" textLength="49.5" lengthAdjust="spacingAndGlyphs" transform="translate(21.60,440.10) rotate(-90)">Bioluminescence</text>
<text x="0" y="0" font-size="8.4" text-anchor="start" fill="#2a2a2a" textLength="45.8" lengthAdjust="spacingAndGlyphs" transform="translate(21.60,389.30) rotate(-90)">(p/sec/cm<tspan font-size="5.5" dy="-3.2">2</tspan><tspan dy="3.2">/sr)</tspan></text>
<polyline points="63.14,391.58 64.54,387.16 70.40,376.36 82.90,366.80 89.15,365.03 95.40,364.32 101.65,363.79" fill="none" stroke="#c21f40" stroke-width="2.0" stroke-linejoin="round"/>
<line x1="63.14" y1="387.16" x2="63.14" y2="396.01" stroke="#c21f40" stroke-width="0.9"/>
<line x1="61.64" y1="387.16" x2="64.64" y2="387.16" stroke="#c21f40" stroke-width="0.9"/>
<line x1="61.64" y1="396.01" x2="64.64" y2="396.01" stroke="#c21f40" stroke-width="0.9"/>
<circle cx="63.14" cy="391.58" r="1.6" fill="#c21f40"/>
<line x1="64.54" y1="384.50" x2="64.54" y2="389.81" stroke="#c21f40" stroke-width="0.9"/>
<line x1="63.04" y1="384.50" x2="66.04" y2="384.50" stroke="#c21f40" stroke-width="0.9"/>
<line x1="63.04" y1="389.81" x2="66.04" y2="389.81" stroke="#c21f40" stroke-width="0.9"/>
<circle cx="64.54" cy="387.16" r="1.6" fill="#c21f40"/>
<line x1="70.40" y1="374.94" x2="70.40" y2="377.77" stroke="#c21f40" stroke-width="0.9"/>
<line x1="68.90" y1="374.94" x2="71.90" y2="374.94" stroke="#c21f40" stroke-width="0.9"/>
<line x1="68.90" y1="377.77" x2="71.90" y2="377.77" stroke="#c21f40" stroke-width="0.9"/>
<circle cx="70.40" cy="376.36" r="1.6" fill="#c21f40"/>
<line x1="82.90" y1="365.38" x2="82.90" y2="368.22" stroke="#c21f40" stroke-width="0.9"/>
<line x1="81.40" y1="365.38" x2="84.40" y2="365.38" stroke="#c21f40" stroke-width="0.9"/>
<line x1="81.40" y1="368.22" x2="84.40" y2="368.22" stroke="#c21f40" stroke-width="0.9"/>
<circle cx="82.90" cy="366.80" r="1.6" fill="#c21f40"/>
<line x1="89.15" y1="363.61" x2="89.15" y2="366.45" stroke="#c21f40" stroke-width="0.9"/>
<line x1="87.65" y1="363.61" x2="90.65" y2="363.61" stroke="#c21f40" stroke-width="0.9"/>
<line x1="87.65" y1="366.45" x2="90.65" y2="366.45" stroke="#c21f40" stroke-width="0.9"/>
<circle cx="89.15" cy="365.03" r="1.6" fill="#c21f40"/>
<line x1="95.40" y1="362.55" x2="95.40" y2="366.09" stroke="#c21f40" stroke-width="0.9"/>
<line x1="93.90" y1="362.55" x2="96.90" y2="362.55" stroke="#c21f40" stroke-width="0.9"/>
<line x1="93.90" y1="366.09" x2="96.90" y2="366.09" stroke="#c21f40" stroke-width="0.9"/>
<circle cx="95.40" cy="364.32" r="1.6" fill="#c21f40"/>
<line x1="101.65" y1="362.91" x2="101.65" y2="364.68" stroke="#c21f40" stroke-width="0.9"/>
<line x1="100.15" y1="362.91" x2="103.15" y2="362.91" stroke="#c21f40" stroke-width="0.9"/>
<line x1="100.15" y1="364.68" x2="103.15" y2="364.68" stroke="#c21f40" stroke-width="0.9"/>
<circle cx="101.65" cy="363.79" r="1.6" fill="#c21f40"/>
<polyline points="70.40,377.42 76.65,380.96 82.90,382.38 89.15,381.31 95.40,379.19 101.65,377.77 107.90,378.66 114.15,377.42 120.40,375.83 126.65,372.82 132.90,373.88 139.15,374.59" fill="none" stroke="#3f2a66" stroke-width="1.7" stroke-linejoin="round"/>
<line x1="70.40" y1="376.54" x2="70.40" y2="378.31" stroke="#3f2a66" stroke-width="0.9"/>
<line x1="68.90" y1="376.54" x2="71.90" y2="376.54" stroke="#3f2a66" stroke-width="0.9"/>
<line x1="68.90" y1="378.31" x2="71.90" y2="378.31" stroke="#3f2a66" stroke-width="0.9"/>
<circle cx="70.40" cy="377.42" r="1.6" fill="#3f2a66"/>
<line x1="76.65" y1="379.19" x2="76.65" y2="382.73" stroke="#3f2a66" stroke-width="0.9"/>
<line x1="75.15" y1="379.19" x2="78.15" y2="379.19" stroke="#3f2a66" stroke-width="0.9"/>
<line x1="75.15" y1="382.73" x2="78.15" y2="382.73" stroke="#3f2a66" stroke-width="0.9"/>
<circle cx="76.65" cy="380.96" r="1.6" fill="#3f2a66"/>
<line x1="82.90" y1="380.61" x2="82.90" y2="384.15" stroke="#3f2a66" stroke-width="0.9"/>
<line x1="81.40" y1="380.61" x2="84.40" y2="380.61" stroke="#3f2a66" stroke-width="0.9"/>
<line x1="81.40" y1="384.15" x2="84.40" y2="384.15" stroke="#3f2a66" stroke-width="0.9"/>
<circle cx="82.90" cy="382.38" r="1.6" fill="#3f2a66"/>
<line x1="89.15" y1="379.54" x2="89.15" y2="383.08" stroke="#3f2a66" stroke-width="0.9"/>
<line x1="87.65" y1="379.54" x2="90.65" y2="379.54" stroke="#3f2a66" stroke-width="0.9"/>
<line x1="87.65" y1="383.08" x2="90.65" y2="383.08" stroke="#3f2a66" stroke-width="0.9"/>
<circle cx="89.15" cy="381.31" r="1.6" fill="#3f2a66"/>
<line x1="95.40" y1="377.42" x2="95.40" y2="380.96" stroke="#3f2a66" stroke-width="0.9"/>
<line x1="93.90" y1="377.42" x2="96.90" y2="377.42" stroke="#3f2a66" stroke-width="0.9"/>
<line x1="93.90" y1="380.96" x2="96.90" y2="380.96" stroke="#3f2a66" stroke-width="0.9"/>
<circle cx="95.40" cy="379.19" r="1.6" fill="#3f2a66"/>
<line x1="101.65" y1="376.00" x2="101.65" y2="379.54" stroke="#3f2a66" stroke-width="0.9"/>
<line x1="100.15" y1="376.00" x2="103.15" y2="376.00" stroke="#3f2a66" stroke-width="0.9"/>
<line x1="100.15" y1="379.54" x2="103.15" y2="379.54" stroke="#3f2a66" stroke-width="0.9"/>
<circle cx="101.65" cy="377.77" r="1.6" fill="#3f2a66"/>
<line x1="107.90" y1="376.89" x2="107.90" y2="380.43" stroke="#3f2a66" stroke-width="0.9"/>
<line x1="106.40" y1="376.89" x2="109.40" y2="376.89" stroke="#3f2a66" stroke-width="0.9"/>
<line x1="106.40" y1="380.43" x2="109.40" y2="380.43" stroke="#3f2a66" stroke-width="0.9"/>
<circle cx="107.90" cy="378.66" r="1.6" fill="#3f2a66"/>
<line x1="114.15" y1="375.65" x2="114.15" y2="379.19" stroke="#3f2a66" stroke-width="0.9"/>
<line x1="112.65" y1="375.65" x2="115.65" y2="375.65" stroke="#3f2a66" stroke-width="0.9"/>
<line x1="112.65" y1="379.19" x2="115.65" y2="379.19" stroke="#3f2a66" stroke-width="0.9"/>
<circle cx="114.15" cy="377.42" r="1.6" fill="#3f2a66"/>
<line x1="120.40" y1="373.17" x2="120.40" y2="378.48" stroke="#3f2a66" stroke-width="0.9"/>
<line x1="118.90" y1="373.17" x2="121.90" y2="373.17" stroke="#3f2a66" stroke-width="0.9"/>
<line x1="118.90" y1="378.48" x2="121.90" y2="378.48" stroke="#3f2a66" stroke-width="0.9"/>
<circle cx="120.40" cy="375.83" r="1.6" fill="#3f2a66"/>
<line x1="126.65" y1="370.16" x2="126.65" y2="375.47" stroke="#3f2a66" stroke-width="0.9"/>
<line x1="125.15" y1="370.16" x2="128.15" y2="370.16" stroke="#3f2a66" stroke-width="0.9"/>
<line x1="125.15" y1="375.47" x2="128.15" y2="375.47" stroke="#3f2a66" stroke-width="0.9"/>
<circle cx="126.65" cy="372.82" r="1.6" fill="#3f2a66"/>
<line x1="132.90" y1="371.23" x2="132.90" y2="376.54" stroke="#3f2a66" stroke-width="0.9"/>
<line x1="131.40" y1="371.23" x2="134.40" y2="371.23" stroke="#3f2a66" stroke-width="0.9"/>
<line x1="131.40" y1="376.54" x2="134.40" y2="376.54" stroke="#3f2a66" stroke-width="0.9"/>
<circle cx="132.90" cy="373.88" r="1.6" fill="#3f2a66"/>
<line x1="139.15" y1="371.93" x2="139.15" y2="377.24" stroke="#3f2a66" stroke-width="0.9"/>
<line x1="137.65" y1="371.93" x2="140.65" y2="371.93" stroke="#3f2a66" stroke-width="0.9"/>
<line x1="137.65" y1="377.24" x2="140.65" y2="377.24" stroke="#3f2a66" stroke-width="0.9"/>
<circle cx="139.15" cy="374.59" r="1.6" fill="#3f2a66"/>
<polyline points="70.40,377.42 76.65,378.31 82.90,380.08 89.15,380.08 95.40,380.96 101.65,383.08 107.90,387.16 114.15,387.16 120.40,387.16 126.65,386.27 132.90,385.39 139.15,384.50" fill="none" stroke="#aaa3d4" stroke-width="1.7" stroke-linejoin="round"/>
<line x1="70.40" y1="376.54" x2="70.40" y2="378.31" stroke="#aaa3d4" stroke-width="0.9"/>
<line x1="68.90" y1="376.54" x2="71.90" y2="376.54" stroke="#aaa3d4" stroke-width="0.9"/>
<line x1="68.90" y1="378.31" x2="71.90" y2="378.31" stroke="#aaa3d4" stroke-width="0.9"/>
<rect x="68.80" y="375.82" width="3.2" height="3.2" fill="#aaa3d4"/>
<line x1="76.65" y1="376.54" x2="76.65" y2="380.07" stroke="#aaa3d4" stroke-width="0.9"/>
<line x1="75.15" y1="376.54" x2="78.15" y2="376.54" stroke="#aaa3d4" stroke-width="0.9"/>
<line x1="75.15" y1="380.07" x2="78.15" y2="380.07" stroke="#aaa3d4" stroke-width="0.9"/>
<rect x="75.05" y="376.70" width="3.2" height="3.2" fill="#aaa3d4"/>
<line x1="82.90" y1="378.31" x2="82.90" y2="381.85" stroke="#aaa3d4" stroke-width="0.9"/>
<line x1="81.40" y1="378.31" x2="84.40" y2="378.31" stroke="#aaa3d4" stroke-width="0.9"/>
<line x1="81.40" y1="381.85" x2="84.40" y2="381.85" stroke="#aaa3d4" stroke-width="0.9"/>
<rect x="81.30" y="378.48" width="3.2" height="3.2" fill="#aaa3d4"/>
<line x1="89.15" y1="378.31" x2="89.15" y2="381.85" stroke="#aaa3d4" stroke-width="0.9"/>
<line x1="87.65" y1="378.31" x2="90.65" y2="378.31" stroke="#aaa3d4" stroke-width="0.9"/>
<line x1="87.65" y1="381.85" x2="90.65" y2="381.85" stroke="#aaa3d4" stroke-width="0.9"/>
<rect x="87.55" y="378.48" width="3.2" height="3.2" fill="#aaa3d4"/>
<line x1="95.40" y1="379.19" x2="95.40" y2="382.73" stroke="#aaa3d4" stroke-width="0.9"/>
<line x1="93.90" y1="379.19" x2="96.90" y2="379.19" stroke="#aaa3d4" stroke-width="0.9"/>
<line x1="93.90" y1="382.73" x2="96.90" y2="382.73" stroke="#aaa3d4" stroke-width="0.9"/>
<rect x="93.80" y="379.36" width="3.2" height="3.2" fill="#aaa3d4"/>
<line x1="101.65" y1="379.54" x2="101.65" y2="386.62" stroke="#aaa3d4" stroke-width="0.9"/>
<line x1="100.15" y1="379.54" x2="103.15" y2="379.54" stroke="#aaa3d4" stroke-width="0.9"/>
<line x1="100.15" y1="386.62" x2="103.15" y2="386.62" stroke="#aaa3d4" stroke-width="0.9"/>
<rect x="100.05" y="381.48" width="3.2" height="3.2" fill="#aaa3d4"/>
<line x1="107.90" y1="381.85" x2="107.90" y2="392.47" stroke="#aaa3d4" stroke-width="0.9"/>
<line x1="106.40" y1="381.85" x2="109.40" y2="381.85" stroke="#aaa3d4" stroke-width="0.9"/>
<line x1="106.40" y1="392.47" x2="109.40" y2="392.47" stroke="#aaa3d4" stroke-width="0.9"/>
<rect x="106.30" y="385.56" width="3.2" height="3.2" fill="#aaa3d4"/>
<line x1="114.15" y1="383.62" x2="114.15" y2="390.70" stroke="#aaa3d4" stroke-width="0.9"/>
<line x1="112.65" y1="383.62" x2="115.65" y2="383.62" stroke="#aaa3d4" stroke-width="0.9"/>
<line x1="112.65" y1="390.70" x2="115.65" y2="390.70" stroke="#aaa3d4" stroke-width="0.9"/>
<rect x="112.55" y="385.56" width="3.2" height="3.2" fill="#aaa3d4"/>
<line x1="120.40" y1="383.62" x2="120.40" y2="390.70" stroke="#aaa3d4" stroke-width="0.9"/>
<line x1="118.90" y1="383.62" x2="121.90" y2="383.62" stroke="#aaa3d4" stroke-width="0.9"/>
<line x1="118.90" y1="390.70" x2="121.90" y2="390.70" stroke="#aaa3d4" stroke-width="0.9"/>
<rect x="118.80" y="385.56" width="3.2" height="3.2" fill="#aaa3d4"/>
<line x1="126.65" y1="383.62" x2="126.65" y2="388.93" stroke="#aaa3d4" stroke-width="0.9"/>
<line x1="125.15" y1="383.62" x2="128.15" y2="383.62" stroke="#aaa3d4" stroke-width="0.9"/>
<line x1="125.15" y1="388.93" x2="128.15" y2="388.93" stroke="#aaa3d4" stroke-width="0.9"/>
<rect x="125.05" y="384.67" width="3.2" height="3.2" fill="#aaa3d4"/>
<line x1="132.90" y1="382.73" x2="132.90" y2="388.04" stroke="#aaa3d4" stroke-width="0.9"/>
<line x1="131.40" y1="382.73" x2="134.40" y2="382.73" stroke="#aaa3d4" stroke-width="0.9"/>
<line x1="131.40" y1="388.04" x2="134.40" y2="388.04" stroke="#aaa3d4" stroke-width="0.9"/>
<rect x="131.30" y="383.79" width="3.2" height="3.2" fill="#aaa3d4"/>
<line x1="139.15" y1="381.85" x2="139.15" y2="387.15" stroke="#aaa3d4" stroke-width="0.9"/>
<line x1="137.65" y1="381.85" x2="140.65" y2="381.85" stroke="#aaa3d4" stroke-width="0.9"/>
<line x1="137.65" y1="387.15" x2="140.65" y2="387.15" stroke="#aaa3d4" stroke-width="0.9"/>
<rect x="137.55" y="382.90" width="3.2" height="3.2" fill="#aaa3d4"/>
<polyline points="63.14,401.31 64.54,393.35 70.40,377.42 82.90,397.42 89.15,404.68 95.40,412.82 101.65,417.42 107.90,424.15 114.15,425.74 120.40,426.27 126.65,427.87 132.90,429.46 139.15,426.27" fill="none" stroke="#4d535c" stroke-width="1.7" stroke-linejoin="round"/>
<line x1="63.14" y1="396.00" x2="63.14" y2="406.62" stroke="#4d535c" stroke-width="0.9"/>
<line x1="61.64" y1="396.00" x2="64.64" y2="396.00" stroke="#4d535c" stroke-width="0.9"/>
<line x1="61.64" y1="406.62" x2="64.64" y2="406.62" stroke="#4d535c" stroke-width="0.9"/>
<polygon points="61.06,399.88 65.22,399.88 63.14,403.24" fill="#4d535c"/>
<line x1="64.54" y1="389.81" x2="64.54" y2="396.89" stroke="#4d535c" stroke-width="0.9"/>
<line x1="63.04" y1="389.81" x2="66.04" y2="389.81" stroke="#4d535c" stroke-width="0.9"/>
<line x1="63.04" y1="396.89" x2="66.04" y2="396.89" stroke="#4d535c" stroke-width="0.9"/>
<polygon points="62.46,391.91 66.62,391.91 64.54,395.27" fill="#4d535c"/>
<line x1="70.40" y1="376.54" x2="70.40" y2="378.31" stroke="#4d535c" stroke-width="0.9"/>
<line x1="68.90" y1="376.54" x2="71.90" y2="376.54" stroke="#4d535c" stroke-width="0.9"/>
<line x1="68.90" y1="378.31" x2="71.90" y2="378.31" stroke="#4d535c" stroke-width="0.9"/>
<polygon points="68.32,375.98 72.48,375.98 70.40,379.34" fill="#4d535c"/>
<line x1="82.90" y1="395.65" x2="82.90" y2="399.19" stroke="#4d535c" stroke-width="0.9"/>
<line x1="81.40" y1="395.65" x2="84.40" y2="395.65" stroke="#4d535c" stroke-width="0.9"/>
<line x1="81.40" y1="399.19" x2="84.40" y2="399.19" stroke="#4d535c" stroke-width="0.9"/>
<polygon points="80.82,395.98 84.98,395.98 82.90,399.34" fill="#4d535c"/>
<line x1="89.15" y1="402.02" x2="89.15" y2="407.33" stroke="#4d535c" stroke-width="0.9"/>
<line x1="87.65" y1="402.02" x2="90.65" y2="402.02" stroke="#4d535c" stroke-width="0.9"/>
<line x1="87.65" y1="407.33" x2="90.65" y2="407.33" stroke="#4d535c" stroke-width="0.9"/>
<polygon points="87.07,403.24 91.23,403.24 89.15,406.60" fill="#4d535c"/>
<line x1="95.40" y1="409.28" x2="95.40" y2="416.36" stroke="#4d535c" stroke-width="0.9"/>
<line x1="93.90" y1="409.28" x2="96.90" y2="409.28" stroke="#4d535c" stroke-width="0.9"/>
<line x1="93.90" y1="416.36" x2="96.90" y2="416.36" stroke="#4d535c" stroke-width="0.9"/>
<polygon points="93.32,411.38 97.48,411.38 95.40,414.74" fill="#4d535c"/>
<line x1="101.65" y1="413.88" x2="101.65" y2="420.96" stroke="#4d535c" stroke-width="0.9"/>
<line x1="100.15" y1="413.88" x2="103.15" y2="413.88" stroke="#4d535c" stroke-width="0.9"/>
<line x1="100.15" y1="420.96" x2="103.15" y2="420.96" stroke="#4d535c" stroke-width="0.9"/>
<polygon points="99.57,415.98 103.73,415.98 101.65,419.34" fill="#4d535c"/>
<line x1="107.90" y1="422.38" x2="107.90" y2="425.92" stroke="#4d535c" stroke-width="0.9"/>
<line x1="106.40" y1="422.38" x2="109.40" y2="422.38" stroke="#4d535c" stroke-width="0.9"/>
<line x1="106.40" y1="425.92" x2="109.40" y2="425.92" stroke="#4d535c" stroke-width="0.9"/>
<polygon points="105.82,422.71 109.98,422.71 107.90,426.07" fill="#4d535c"/>
<line x1="114.15" y1="418.66" x2="114.15" y2="432.82" stroke="#4d535c" stroke-width="0.9"/>
<line x1="112.65" y1="418.66" x2="115.65" y2="418.66" stroke="#4d535c" stroke-width="0.9"/>
<line x1="112.65" y1="432.82" x2="115.65" y2="432.82" stroke="#4d535c" stroke-width="0.9"/>
<polygon points="112.07,424.30 116.23,424.30 114.15,427.66" fill="#4d535c"/>
<line x1="120.40" y1="423.62" x2="120.40" y2="428.93" stroke="#4d535c" stroke-width="0.9"/>
<line x1="118.90" y1="423.62" x2="121.90" y2="423.62" stroke="#4d535c" stroke-width="0.9"/>
<line x1="118.90" y1="428.93" x2="121.90" y2="428.93" stroke="#4d535c" stroke-width="0.9"/>
<polygon points="118.32,424.83 122.48,424.83 120.40,428.19" fill="#4d535c"/>
<line x1="126.65" y1="425.21" x2="126.65" y2="430.52" stroke="#4d535c" stroke-width="0.9"/>
<line x1="125.15" y1="425.21" x2="128.15" y2="425.21" stroke="#4d535c" stroke-width="0.9"/>
<line x1="125.15" y1="430.52" x2="128.15" y2="430.52" stroke="#4d535c" stroke-width="0.9"/>
<polygon points="124.57,426.43 128.73,426.43 126.65,429.79" fill="#4d535c"/>
<line x1="132.90" y1="427.69" x2="132.90" y2="431.23" stroke="#4d535c" stroke-width="0.9"/>
<line x1="131.40" y1="427.69" x2="134.40" y2="427.69" stroke="#4d535c" stroke-width="0.9"/>
<line x1="131.40" y1="431.23" x2="134.40" y2="431.23" stroke="#4d535c" stroke-width="0.9"/>
<polygon points="130.82,428.02 134.98,428.02 132.90,431.38" fill="#4d535c"/>
<line x1="139.15" y1="424.50" x2="139.15" y2="428.04" stroke="#4d535c" stroke-width="0.9"/>
<line x1="137.65" y1="424.50" x2="140.65" y2="424.50" stroke="#4d535c" stroke-width="0.9"/>
<line x1="137.65" y1="428.04" x2="140.65" y2="428.04" stroke="#4d535c" stroke-width="0.9"/>
<polygon points="137.07,424.83 141.23,424.83 139.15,428.19" fill="#4d535c"/>
<line x1="51.7" y1="410.40" x2="58.5" y2="410.40" stroke="#c21f40" stroke-width="1.4"/>
<circle cx="55.10" cy="410.40" r="1.5" fill="#c21f40"/>
<text x="60.10" y="412.80" font-size="6.7" text-anchor="start" font-weight="normal" fill="#2a2a2a" textLength="19.6" lengthAdjust="spacingAndGlyphs" >Vehicle</text>
<line x1="51.7" y1="417.80" x2="58.5" y2="417.80" stroke="#3f2a66" stroke-width="1.4"/>
<circle cx="55.10" cy="417.80" r="1.5" fill="#3f2a66"/>
<text x="60.10" y="420.20" font-size="6.7" text-anchor="start" font-weight="normal" fill="#2a2a2a" textLength="28" lengthAdjust="spacingAndGlyphs" >Ruxolitinib</text>
<line x1="51.7" y1="424.80" x2="58.5" y2="424.80" stroke="#aaa3d4" stroke-width="1.4"/>
<rect x="53.60" y="423.30" width="3.0" height="3.0" fill="#aaa3d4"/>
<text x="60.10" y="427.20" font-size="6.7" text-anchor="start" font-weight="normal" fill="#2a2a2a" textLength="44.4" lengthAdjust="spacingAndGlyphs" >Dexamethasone</text>
<line x1="51.7" y1="431.90" x2="58.5" y2="431.90" stroke="#4d535c" stroke-width="1.4"/>
<polygon points="53.15,430.55 57.05,430.55 55.10,433.70" fill="#4d535c"/>
<text x="60.10" y="434.30" font-size="6.7" text-anchor="start" font-weight="normal" fill="#2a2a2a" textLength="32.3" lengthAdjust="spacingAndGlyphs" >Dex + Ruxo</text>
<text x="142.60" y="376.60" font-size="6.9" text-anchor="start" font-weight="normal" fill="#2a2a2a" textLength="20.5" lengthAdjust="spacingAndGlyphs" style="stroke-width:0.1px">p&lt;0001</text>
<text x="142.60" y="386.60" font-size="6.9" text-anchor="start" font-weight="normal" fill="#2a2a2a" textLength="20.5" lengthAdjust="spacingAndGlyphs" style="stroke-width:0.1px">p&lt;0001</text>
<text x="142.60" y="428.70" font-size="6.9" text-anchor="start" font-weight="normal" fill="#2a2a2a" textLength="20.5" lengthAdjust="spacingAndGlyphs" style="stroke-width:0.1px">p&lt;0001</text>
<line x1="49.5" y1="182.00" x2="49.5" y2="272.60" stroke="#111" stroke-width="1.3"/>
<line x1="48.9" y1="272.00" x2="138.5" y2="272.00" stroke="#111" stroke-width="1.3"/>
<line x1="46.9" y1="272.00" x2="49.5" y2="272.00" stroke="#111" stroke-width="1"/>
<text x="43.20" y="274.50" font-size="7.4" text-anchor="end" font-weight="normal" fill="#3a3a3a" textLength="3.6" lengthAdjust="spacingAndGlyphs" >0</text>
<line x1="46.9" y1="249.75" x2="49.5" y2="249.75" stroke="#111" stroke-width="1"/>
<text x="43.20" y="252.25" font-size="7.4" text-anchor="end" font-weight="normal" fill="#3a3a3a" textLength="13.3" lengthAdjust="spacingAndGlyphs" >100</text>
<line x1="46.9" y1="227.50" x2="49.5" y2="227.50" stroke="#111" stroke-width="1"/>
<text x="43.20" y="230.00" font-size="7.4" text-anchor="end" font-weight="normal" fill="#3a3a3a" textLength="13.3" lengthAdjust="spacingAndGlyphs" >200</text>
<line x1="46.9" y1="205.25" x2="49.5" y2="205.25" stroke="#111" stroke-width="1"/>
<text x="43.20" y="207.75" font-size="7.4" text-anchor="end" font-weight="normal" fill="#3a3a3a" textLength="13.3" lengthAdjust="spacingAndGlyphs" >300</text>
<line x1="46.9" y1="183.00" x2="49.5" y2="183.00" stroke="#111" stroke-width="1"/>
<text x="43.20" y="185.50" font-size="7.4" text-anchor="end" font-weight="normal" fill="#3a3a3a" textLength="13.3" lengthAdjust="spacingAndGlyphs" >400</text>
<text x="0" y="0" font-size="8.2" text-anchor="middle" fill="#2a2a2a" textLength="58.5" lengthAdjust="spacingAndGlyphs" transform="translate(22.40,226.20) rotate(-90)">Spleen weight (mg)</text>
<line x1="61.2" y1="272.00" x2="61.2" y2="274.50" stroke="#111" stroke-width="1"/>
<text x="0" y="0" font-size="7.2" text-anchor="end" fill="#2a2a2a" textLength="23.5" lengthAdjust="spacingAndGlyphs" transform="translate(63.80,277.40) rotate(-45)">Vehicle</text>
<line x1="83.3" y1="272.00" x2="83.3" y2="274.50" stroke="#111" stroke-width="1"/>
<text x="0" y="0" font-size="7.2" text-anchor="end" fill="#2a2a2a" textLength="31.8" lengthAdjust="spacingAndGlyphs" transform="translate(85.90,277.40) rotate(-45)">Ruxolitinib</text>
<line x1="105.4" y1="272.00" x2="105.4" y2="274.50" stroke="#111" stroke-width="1"/>
<text x="0" y="0" font-size="7.2" text-anchor="end" fill="#2a2a2a" textLength="10.5" lengthAdjust="spacingAndGlyphs" transform="translate(108.00,277.40) rotate(-45)">Dex</text>
<line x1="127.5" y1="272.00" x2="127.5" y2="274.50" stroke="#111" stroke-width="1"/>
<text x="0" y="0" font-size="7.2" text-anchor="end" fill="#2a2a2a" textLength="38.6" lengthAdjust="spacingAndGlyphs" transform="translate(130.10,277.40) rotate(-45)">Dex + Ruxo</text>
<line x1="61.2" y1="189.68" x2="61.2" y2="225.28" stroke="#c21f40" stroke-width="1.1"/>
<line x1="57.7" y1="225.28" x2="64.7" y2="225.28" stroke="#c21f40" stroke-width="1.1"/>
<line x1="57.7" y1="189.68" x2="64.7" y2="189.68" stroke="#c21f40" stroke-width="1.1"/>
<line x1="54.2" y1="207.47" x2="68.2" y2="207.47" stroke="#c21f40" stroke-width="1.1"/>
<circle cx="61.20" cy="189.68" r="1.5" fill="#c21f40"/>
<circle cx="61.20" cy="198.57" r="1.5" fill="#c21f40"/>
<circle cx="61.20" cy="209.70" r="1.5" fill="#c21f40"/>
<circle cx="61.20" cy="230.84" r="1.5" fill="#c21f40"/>
<line x1="83.3" y1="236.40" x2="83.3" y2="253.09" stroke="#3f2a66" stroke-width="1.1"/>
<line x1="79.8" y1="253.09" x2="86.8" y2="253.09" stroke="#3f2a66" stroke-width="1.1"/>
<line x1="79.8" y1="236.40" x2="86.8" y2="236.40" stroke="#3f2a66" stroke-width="1.1"/>
<line x1="76.3" y1="244.85" x2="90.3" y2="244.85" stroke="#3f2a66" stroke-width="1.1"/>
<circle cx="81.80" cy="236.40" r="1.5" fill="#3f2a66"/>
<circle cx="85.30" cy="235.95" r="1.5" fill="#3f2a66"/>
<circle cx="83.30" cy="238.62" r="1.5" fill="#3f2a66"/>
<circle cx="81.80" cy="253.09" r="1.5" fill="#3f2a66"/>
<circle cx="84.80" cy="252.42" r="1.5" fill="#3f2a66"/>
<line x1="98.4" y1="267.55" x2="112.4" y2="267.55" stroke="#aaa3d4" stroke-width="1.1"/>
<polygon points="100.45,268.90 104.35,268.90 102.40,265.75" fill="#aaa3d4"/>
<polygon points="102.45,268.90 106.35,268.90 104.40,265.75" fill="#aaa3d4"/>
<polygon points="104.45,268.90 108.35,268.90 106.40,265.75" fill="#aaa3d4"/>
<polygon points="106.45,268.90 110.35,268.90 108.40,265.75" fill="#aaa3d4"/>
<line x1="120.5" y1="267.11" x2="134.5" y2="267.11" stroke="#4d535c" stroke-width="1.1"/>
<polygon points="121.55,265.75 125.45,265.75 123.50,268.91" fill="#4d535c"/>
<polygon points="123.55,265.75 127.45,265.75 125.50,268.91" fill="#4d535c"/>
<polygon points="125.55,265.75 129.45,265.75 127.50,268.91" fill="#4d535c"/>
<polygon points="127.55,265.75 131.45,265.75 129.50,268.91" fill="#4d535c"/>
<polygon points="129.55,265.75 133.45,265.75 131.50,268.91" fill="#4d535c"/>
<circle cx="80.90" cy="230.10" r="1.05" fill="#1a1a1a"/>
<circle cx="84.10" cy="230.10" r="1.05" fill="#1a1a1a"/>
<circle cx="87.30" cy="230.10" r="1.05" fill="#1a1a1a"/>
<circle cx="101.20" cy="262.40" r="1.05" fill="#1a1a1a"/>
<circle cx="104.40" cy="262.40" r="1.05" fill="#1a1a1a"/>
<circle cx="107.60" cy="262.40" r="1.05" fill="#1a1a1a"/>
<circle cx="110.80" cy="262.40" r="1.05" fill="#1a1a1a"/>
<circle cx="123.40" cy="262.80" r="1.05" fill="#1a1a1a"/>
<circle cx="126.60" cy="262.80" r="1.05" fill="#1a1a1a"/>
<circle cx="129.80" cy="262.80" r="1.05" fill="#1a1a1a"/>
<circle cx="133.00" cy="262.80" r="1.05" fill="#1a1a1a"/>
<circle cx="93.80" cy="169.90" r="1.05" fill="#1a1a1a"/>
<circle cx="105.10" cy="175.90" r="1.05" fill="#1a1a1a"/>
<line x1="81.7" y1="172.6" x2="105.7" y2="172.6" stroke="#2a2a2a" stroke-width="1"/>
<line x1="81.7" y1="178.9" x2="128.2" y2="178.9" stroke="#7c7c7c" stroke-width="1.8"/>
<line x1="60.8" y1="181.1" x2="128.2" y2="181.1" stroke="#7c7c7c" stroke-width="1.8"/>
<line x1="60.8" y1="183.4" x2="83.8" y2="183.4" stroke="#7c7c7c" stroke-width="1.6"/>
<line x1="61.3" y1="180.5" x2="61.3" y2="186.5" stroke="#333" stroke-width="0.9"/>
<line x1="83.3" y1="183" x2="83.3" y2="230" stroke="#333" stroke-width="0.9"/>
<line x1="105.6" y1="180" x2="105.6" y2="261" stroke="#333" stroke-width="0.9"/>
<line x1="127.8" y1="178.5" x2="127.8" y2="261" stroke="#333" stroke-width="0.9"/>
<line x1="49.5" y1="497.00" x2="49.5" y2="587.60" stroke="#111" stroke-width="1.3"/>
<line x1="48.9" y1="587.00" x2="138.5" y2="587.00" stroke="#111" stroke-width="1.3"/>
<line x1="46.9" y1="587.00" x2="49.5" y2="587.00" stroke="#111" stroke-width="1"/>
<text x="43.20" y="589.50" font-size="7.4" text-anchor="end" font-weight="normal" fill="#3a3a3a" textLength="3.6" lengthAdjust="spacingAndGlyphs" >0</text>
<line x1="46.9" y1="564.75" x2="49.5" y2="564.75" stroke="#111" stroke-width="1"/>
<text x="43.20" y="567.25" font-size="7.4" text-anchor="end" font-weight="normal" fill="#3a3a3a" textLength="13.3" lengthAdjust="spacingAndGlyphs" >200</text>
<line x1="46.9" y1="542.50" x2="49.5" y2="542.50" stroke="#111" stroke-width="1"/>
<text x="43.20" y="545.00" font-size="7.4" text-anchor="end" font-weight="normal" fill="#3a3a3a" textLength="13.3" lengthAdjust="spacingAndGlyphs" >400</text>
<line x1="46.9" y1="520.25" x2="49.5" y2="520.25" stroke="#111" stroke-width="1"/>
<text x="43.20" y="522.75" font-size="7.4" text-anchor="end" font-weight="normal" fill="#3a3a3a" textLength="13.3" lengthAdjust="spacingAndGlyphs" >600</text>
<line x1="46.9" y1="498.00" x2="49.5" y2="498.00" stroke="#111" stroke-width="1"/>
<text x="43.20" y="500.50" font-size="7.4" text-anchor="end" font-weight="normal" fill="#3a3a3a" textLength="13.3" lengthAdjust="spacingAndGlyphs" >800</text>
<text x="0" y="0" font-size="8.2" text-anchor="middle" fill="#2a2a2a" textLength="58.5" lengthAdjust="spacingAndGlyphs" transform="translate(22.40,541.10) rotate(-90)">Spleen weight (mg)</text>
<line x1="61.2" y1="587.00" x2="61.2" y2="589.50" stroke="#111" stroke-width="1"/>
<text x="0" y="0" font-size="7.2" text-anchor="end" fill="#2a2a2a" textLength="23.5" lengthAdjust="spacingAndGlyphs" transform="translate(63.80,592.40) rotate(-45)">Vehicle</text>
<line x1="83.3" y1="587.00" x2="83.3" y2="589.50" stroke="#111" stroke-width="1"/>
<text x="0" y="0" font-size="7.2" text-anchor="end" fill="#2a2a2a" textLength="31.8" lengthAdjust="spacingAndGlyphs" transform="translate(85.90,592.40) rotate(-45)">Ruxolitinib</text>
<line x1="105.4" y1="587.00" x2="105.4" y2="589.50" stroke="#111" stroke-width="1"/>
<text x="0" y="0" font-size="7.2" text-anchor="end" fill="#2a2a2a" textLength="10.5" lengthAdjust="spacingAndGlyphs" transform="translate(108.00,592.40) rotate(-45)">Dex</text>
<line x1="127.5" y1="587.00" x2="127.5" y2="589.50" stroke="#111" stroke-width="1"/>
<text x="0" y="0" font-size="7.2" text-anchor="end" fill="#2a2a2a" textLength="38.6" lengthAdjust="spacingAndGlyphs" transform="translate(130.10,592.40) rotate(-45)">Dex + Ruxo</text>
<line x1="61.2" y1="508.57" x2="61.2" y2="522.48" stroke="#c21f40" stroke-width="1.1"/>
<line x1="57.7" y1="522.48" x2="64.7" y2="522.48" stroke="#c21f40" stroke-width="1.1"/>
<line x1="57.7" y1="508.57" x2="64.7" y2="508.57" stroke="#c21f40" stroke-width="1.1"/>
<line x1="54.2" y1="516.36" x2="68.2" y2="516.36" stroke="#c21f40" stroke-width="1.1"/>
<circle cx="61.20" cy="509.12" r="1.5" fill="#c21f40"/>
<circle cx="61.20" cy="513.58" r="1.5" fill="#c21f40"/>
<circle cx="61.20" cy="519.14" r="1.5" fill="#c21f40"/>
<circle cx="61.20" cy="521.92" r="1.5" fill="#c21f40"/>
<line x1="83.3" y1="574.21" x2="83.3" y2="577.54" stroke="#3f2a66" stroke-width="1.1"/>
<line x1="79.8" y1="577.54" x2="86.8" y2="577.54" stroke="#3f2a66" stroke-width="1.1"/>
<line x1="79.8" y1="574.21" x2="86.8" y2="574.21" stroke="#3f2a66" stroke-width="1.1"/>
<line x1="76.3" y1="575.88" x2="90.3" y2="575.88" stroke="#3f2a66" stroke-width="1.1"/>
<circle cx="80.80" cy="574.54" r="1.5" fill="#9a80c0" stroke="#3f2a66" stroke-width="0.9"/>
<circle cx="85.80" cy="574.32" r="1.5" fill="#9a80c0" stroke="#3f2a66" stroke-width="0.9"/>
<circle cx="83.30" cy="575.65" r="1.5" fill="#9a80c0" stroke="#3f2a66" stroke-width="0.9"/>
<circle cx="80.80" cy="576.76" r="1.5" fill="#9a80c0" stroke="#3f2a66" stroke-width="0.9"/>
<circle cx="85.80" cy="576.43" r="1.5" fill="#9a80c0" stroke="#3f2a66" stroke-width="0.9"/>
<circle cx="84.30" cy="577.21" r="1.5" fill="#9a80c0" stroke="#3f2a66" stroke-width="0.9"/>
<line x1="98.4" y1="582.77" x2="112.4" y2="582.77" stroke="#aaa3d4" stroke-width="1.1"/>
<polygon points="100.45,583.90 104.35,583.90 102.40,580.75" fill="#aaa3d4"/>
<polygon points="102.45,583.90 106.35,583.90 104.40,580.75" fill="#aaa3d4"/>
<polygon points="104.45,583.90 108.35,583.90 106.40,580.75" fill="#aaa3d4"/>
<polygon points="106.45,583.90 110.35,583.90 108.40,580.75" fill="#aaa3d4"/>
<line x1="120.5" y1="584.77" x2="134.5" y2="584.77" stroke="#4d535c" stroke-width="1.1"/>
<polygon points="121.55,583.20 125.45,583.20 123.50,586.35" fill="#4d535c"/>
<polygon points="123.55,583.20 127.45,583.20 125.50,586.35" fill="#4d535c"/>
<polygon points="125.55,583.20 129.45,583.20 127.50,586.35" fill="#4d535c"/>
<polygon points="127.55,583.20 131.45,583.20 129.50,586.35" fill="#4d535c"/>
<polygon points="129.55,583.20 133.45,583.20 131.50,586.35" fill="#4d535c"/>
<circle cx="78.70" cy="568.00" r="1.05" fill="#1a1a1a"/>
<circle cx="81.90" cy="568.00" r="1.05" fill="#1a1a1a"/>
<circle cx="85.10" cy="568.00" r="1.05" fill="#1a1a1a"/>
<circle cx="88.30" cy="568.00" r="1.05" fill="#1a1a1a"/>
<circle cx="100.90" cy="578.60" r="1.05" fill="#1a1a1a"/>
<circle cx="104.10" cy="578.60" r="1.05" fill="#1a1a1a"/>
<circle cx="107.30" cy="578.60" r="1.05" fill="#1a1a1a"/>
<circle cx="110.50" cy="578.60" r="1.05" fill="#1a1a1a"/>
<circle cx="123.70" cy="578.60" r="1.05" fill="#1a1a1a"/>
<circle cx="126.90" cy="578.60" r="1.05" fill="#1a1a1a"/>
<circle cx="130.10" cy="578.60" r="1.05" fill="#1a1a1a"/>
<circle cx="133.30" cy="578.60" r="1.05" fill="#1a1a1a"/>
<circle cx="93.80" cy="489.70" r="1.05" fill="#1a1a1a"/>
<circle cx="103.80" cy="494.90" r="1.05" fill="#1a1a1a"/>
<circle cx="107.00" cy="494.90" r="1.05" fill="#1a1a1a"/>
<line x1="81.7" y1="492.3" x2="105.7" y2="492.3" stroke="#2a2a2a" stroke-width="1"/>
<line x1="81.7" y1="496.7" x2="128.2" y2="496.7" stroke="#7c7c7c" stroke-width="1.8"/>
<line x1="60.8" y1="498.9" x2="128.2" y2="498.9" stroke="#7c7c7c" stroke-width="1.8"/>
<line x1="60.8" y1="501.3" x2="83.8" y2="501.3" stroke="#7c7c7c" stroke-width="1.6"/>
<line x1="61.3" y1="498.3" x2="61.3" y2="503" stroke="#333" stroke-width="0.9"/>
<line x1="83.3" y1="501" x2="83.3" y2="565" stroke="#333" stroke-width="0.9"/>
<line x1="105.6" y1="498" x2="105.6" y2="576" stroke="#333" stroke-width="0.9"/>
<line x1="127.8" y1="496.5" x2="127.8" y2="576" stroke="#333" stroke-width="0.9"/>
<text x="230.50" y="29.40" font-size="8.2" text-anchor="middle" font-weight="normal" fill="#2a2a2a" textLength="24.4" lengthAdjust="spacingAndGlyphs" style="stroke-width:0.12px">Vehicle</text>
<rect x="195" y="31" width="71" height="44.8" fill="#454545"/>
<rect x="195" y="31" width="71" height="44.8" fill="url(#vstripe)" opacity="0.25"/>
<svg x="195" y="31" width="71" height="44.8" viewBox="195 31 71 44.8" overflow="hidden">
<line x1="203.90" y1="64.70" x2="204.20" y2="76.80" stroke="#b8b8b8" stroke-width="1.1"/>
<path d="M199.90,61.70 L197.60,66.20 L197.90,68.70" stroke="#aaa" stroke-width="1.1" fill="none"/>
<path d="M207.90,61.70 L210.20,66.20 L209.90,68.70" stroke="#aaa" stroke-width="1.1" fill="none"/>
<path d="M203.90,32.70 C204.17,32.70 204.47,34.03 204.70,34.70 C204.93,35.37 205.12,36.03 205.30,36.70 C205.48,37.37 205.60,38.12 205.80,38.70 C206.00,39.28 206.22,39.70 206.50,40.20 C206.78,40.70 207.22,41.12 207.50,41.70 C207.78,42.28 208.00,42.87 208.20,43.70 C208.40,44.53 208.58,45.53 208.70,46.70 C208.82,47.87 208.87,49.37 208.90,50.70 C208.93,52.03 208.95,53.37 208.90,54.70 C208.85,56.03 208.75,57.53 208.60,58.70 C208.45,59.87 208.28,60.78 208.00,61.70 C207.72,62.62 207.33,63.57 206.90,64.20 C206.47,64.83 205.90,65.22 205.40,65.50 C204.90,65.78 204.40,65.90 203.90,65.90 C203.40,65.90 202.90,65.78 202.40,65.50 C201.90,65.22 201.33,64.83 200.90,64.20 C200.47,63.57 200.08,62.62 199.80,61.70 C199.52,60.78 199.35,59.87 199.20,58.70 C199.05,57.53 198.95,56.03 198.90,54.70 C198.85,53.37 198.87,52.03 198.90,50.70 C198.93,49.37 198.98,47.87 199.10,46.70 C199.22,45.53 199.40,44.53 199.60,43.70 C199.80,42.87 200.02,42.28 200.30,41.70 C200.58,41.12 201.02,40.70 201.30,40.20 C201.58,39.70 201.80,39.28 202.00,38.70 C202.20,38.12 202.32,37.37 202.50,36.70 C202.68,36.03 202.87,35.37 203.10,34.70 C203.33,34.03 203.63,32.70 203.90,32.70 Z" fill="url(#mg)" filter="url(#mtex)"/>
<ellipse cx="199.40" cy="58.70" rx="1.00" ry="1.00" fill="#2a1ae6" opacity="0.7" filter="url(#bl)"/>
<ellipse cx="208.40" cy="58.70" rx="1.00" ry="1.00" fill="#2a1ae6" opacity="0.7" filter="url(#bl)"/>
<line x1="216.90" y1="64.70" x2="217.20" y2="76.80" stroke="#b8b8b8" stroke-width="1.1"/>
<path d="M212.90,61.70 L210.60,66.20 L210.90,68.70" stroke="#aaa" stroke-width="1.1" fill="none"/>
<path d="M220.90,61.70 L223.20,66.20 L222.90,68.70" stroke="#aaa" stroke-width="1.1" fill="none"/>
<path d="M216.90,32.70 C217.17,32.70 217.47,34.03 217.70,34.70 C217.93,35.37 218.12,36.03 218.30,36.70 C218.48,37.37 218.60,38.12 218.80,38.70 C219.00,39.28 219.22,39.70 219.50,40.20 C219.78,40.70 220.22,41.12 220.50,41.70 C220.78,42.28 221.00,42.87 221.20,43.70 C221.40,44.53 221.58,45.53 221.70,46.70 C221.82,47.87 221.87,49.37 221.90,50.70 C221.93,52.03 221.95,53.37 221.90,54.70 C221.85,56.03 221.75,57.53 221.60,58.70 C221.45,59.87 221.28,60.78 221.00,61.70 C220.72,62.62 220.33,63.57 219.90,64.20 C219.47,64.83 218.90,65.22 218.40,65.50 C217.90,65.78 217.40,65.90 216.90,65.90 C216.40,65.90 215.90,65.78 215.40,65.50 C214.90,65.22 214.33,64.83 213.90,64.20 C213.47,63.57 213.08,62.62 212.80,61.70 C212.52,60.78 212.35,59.87 212.20,58.70 C212.05,57.53 211.95,56.03 211.90,54.70 C211.85,53.37 211.87,52.03 211.90,50.70 C211.93,49.37 211.98,47.87 212.10,46.70 C212.22,45.53 212.40,44.53 212.60,43.70 C212.80,42.87 213.02,42.28 213.30,41.70 C213.58,41.12 214.02,40.70 214.30,40.20 C214.58,39.70 214.80,39.28 215.00,38.70 C215.20,38.12 215.32,37.37 215.50,36.70 C215.68,36.03 215.87,35.37 216.10,34.70 C216.33,34.03 216.63,32.70 216.90,32.70 Z" fill="url(#mg)" filter="url(#mtex)"/>
<ellipse cx="215.90" cy="46.70" rx="1.00" ry="1.00" fill="#2a1ae6" opacity="0.8" filter="url(#bl)"/>
<ellipse cx="221.40" cy="62.70" rx="1.30" ry="1.30" fill="#2a1ae6" opacity="1.0" filter="url(#bl)"/>
<line x1="230.80" y1="64.70" x2="231.10" y2="76.80" stroke="#b8b8b8" stroke-width="1.1"/>
<path d="M226.80,61.70 L224.50,66.20 L224.80,68.70" stroke="#aaa" stroke-width="1.1" fill="none"/>
<path d="M234.80,61.70 L237.10,66.20 L236.80,68.70" stroke="#aaa" stroke-width="1.1" fill="none"/>
<path d="M230.80,32.70 C231.07,32.70 231.37,34.03 231.60,34.70 C231.83,35.37 232.02,36.03 232.20,36.70 C232.38,37.37 232.50,38.12 232.70,38.70 C232.90,39.28 233.12,39.70 233.40,40.20 C233.68,40.70 234.12,41.12 234.40,41.70 C234.68,42.28 234.90,42.87 235.10,43.70 C235.30,44.53 235.48,45.53 235.60,46.70 C235.72,47.87 235.77,49.37 235.80,50.70 C235.83,52.03 235.85,53.37 235.80,54.70 C235.75,56.03 235.65,57.53 235.50,58.70 C235.35,59.87 235.18,60.78 234.90,61.70 C234.62,62.62 234.23,63.57 233.80,64.20 C233.37,64.83 232.80,65.22 232.30,65.50 C231.80,65.78 231.30,65.90 230.80,65.90 C230.30,65.90 229.80,65.78 229.30,65.50 C228.80,65.22 228.23,64.83 227.80,64.20 C227.37,63.57 226.98,62.62 226.70,61.70 C226.42,60.78 226.25,59.87 226.10,58.70 C225.95,57.53 225.85,56.03 225.80,54.70 C225.75,53.37 225.77,52.03 225.80,50.70 C225.83,49.37 225.88,47.87 226.00,46.70 C226.12,45.53 226.30,44.53 226.50,43.70 C226.70,42.87 226.92,42.28 227.20,41.70 C227.48,41.12 227.92,40.70 228.20,40.20 C228.48,39.70 228.70,39.28 228.90,38.70 C229.10,38.12 229.22,37.37 229.40,36.70 C229.58,36.03 229.77,35.37 230.00,34.70 C230.23,34.03 230.53,32.70 230.80,32.70 Z" fill="url(#mg)" filter="url(#mtex)"/>
<ellipse cx="226.30" cy="57.70" rx="1.00" ry="1.00" fill="#2a1ae6" opacity="0.7" filter="url(#bl)"/>
<line x1="243.10" y1="64.70" x2="243.40" y2="76.80" stroke="#b8b8b8" stroke-width="1.1"/>
<path d="M239.10,61.70 L236.80,66.20 L237.10,68.70" stroke="#aaa" stroke-width="1.1" fill="none"/>
<path d="M247.10,61.70 L249.40,66.20 L249.10,68.70" stroke="#aaa" stroke-width="1.1" fill="none"/>
<path d="M243.10,32.70 C243.37,32.70 243.67,34.03 243.90,34.70 C244.13,35.37 244.32,36.03 244.50,36.70 C244.68,37.37 244.80,38.12 245.00,38.70 C245.20,39.28 245.42,39.70 245.70,40.20 C245.98,40.70 246.42,41.12 246.70,41.70 C246.98,42.28 247.20,42.87 247.40,43.70 C247.60,44.53 247.78,45.53 247.90,46.70 C248.02,47.87 248.07,49.37 248.10,50.70 C248.13,52.03 248.15,53.37 248.10,54.70 C248.05,56.03 247.95,57.53 247.80,58.70 C247.65,59.87 247.48,60.78 247.20,61.70 C246.92,62.62 246.53,63.57 246.10,64.20 C245.67,64.83 245.10,65.22 244.60,65.50 C244.10,65.78 243.60,65.90 243.10,65.90 C242.60,65.90 242.10,65.78 241.60,65.50 C241.10,65.22 240.53,64.83 240.10,64.20 C239.67,63.57 239.28,62.62 239.00,61.70 C238.72,60.78 238.55,59.87 238.40,58.70 C238.25,57.53 238.15,56.03 238.10,54.70 C238.05,53.37 238.07,52.03 238.10,50.70 C238.13,49.37 238.18,47.87 238.30,46.70 C238.42,45.53 238.60,44.53 238.80,43.70 C239.00,42.87 239.22,42.28 239.50,41.70 C239.78,41.12 240.22,40.70 240.50,40.20 C240.78,39.70 241.00,39.28 241.20,38.70 C241.40,38.12 241.52,37.37 241.70,36.70 C241.88,36.03 242.07,35.37 242.30,34.70 C242.53,34.03 242.83,32.70 243.10,32.70 Z" fill="url(#mg)" filter="url(#mtex)"/>
<ellipse cx="242.80" cy="45.70" rx="2.08" ry="3.30" fill="#7c70f0" opacity="0.45" filter="url(#bl)"/>
<ellipse cx="242.80" cy="45.70" rx="1.30" ry="2.20" fill="#2a1ae6" opacity="1.0" filter="url(#bl)"/>
<ellipse cx="248.10" cy="57.70" rx="1.00" ry="1.00" fill="#2a1ae6" opacity="0.8" filter="url(#bl)"/>
<ellipse cx="238.60" cy="57.70" rx="1.00" ry="1.00" fill="#2a1ae6" opacity="0.6" filter="url(#bl)"/>
</svg>
<rect x="195.4" y="31.4" width="70.2" height="44.0" fill="none" stroke="#2c2c2c" stroke-width="0.8"/>
<rect x="266" y="31" width="2" height="44.8" fill="#bdbdbd"/>
<rect x="195" y="80.4" width="71" height="45.39999999999999" fill="#454545"/>
<rect x="195" y="80.4" width="71" height="45.39999999999999" fill="url(#vstripe)" opacity="0.25"/>
<svg x="195" y="80.4" width="71" height="45.39999999999999" viewBox="195 80.4 71 45.39999999999999" overflow="hidden">
<line x1="205.60" y1="116.20" x2="205.90" y2="126.80" stroke="#b8b8b8" stroke-width="1.1"/>
<path d="M200.80,113.20 L198.04,117.70 L198.40,120.20" stroke="#aaa" stroke-width="1.1" fill="none"/>
<path d="M210.40,113.20 L213.16,117.70 L212.80,120.20" stroke="#aaa" stroke-width="1.1" fill="none"/>
<path d="M205.60,84.20 C205.92,84.20 206.28,85.53 206.56,86.20 C206.84,86.87 207.06,87.53 207.28,88.20 C207.50,88.87 207.64,89.62 207.88,90.20 C208.12,90.78 208.38,91.20 208.72,91.70 C209.06,92.20 209.58,92.62 209.92,93.20 C210.26,93.78 210.52,94.37 210.76,95.20 C211.00,96.03 211.22,97.03 211.36,98.20 C211.50,99.37 211.56,100.87 211.60,102.20 C211.64,103.53 211.66,104.87 211.60,106.20 C211.54,107.53 211.42,109.03 211.24,110.20 C211.06,111.37 210.86,112.28 210.52,113.20 C210.18,114.12 209.72,115.07 209.20,115.70 C208.68,116.33 208.00,116.72 207.40,117.00 C206.80,117.28 206.20,117.40 205.60,117.40 C205.00,117.40 204.40,117.28 203.80,117.00 C203.20,116.72 202.52,116.33 202.00,115.70 C201.48,115.07 201.02,114.12 200.68,113.20 C200.34,112.28 200.14,111.37 199.96,110.20 C199.78,109.03 199.66,107.53 199.60,106.20 C199.54,104.87 199.56,103.53 199.60,102.20 C199.64,100.87 199.70,99.37 199.84,98.20 C199.98,97.03 200.20,96.03 200.44,95.20 C200.68,94.37 200.94,93.78 201.28,93.20 C201.62,92.62 202.14,92.20 202.48,91.70 C202.82,91.20 203.08,90.78 203.32,90.20 C203.56,89.62 203.70,88.87 203.92,88.20 C204.14,87.53 204.36,86.87 204.64,86.20 C204.92,85.53 205.28,84.20 205.60,84.20 Z" fill="url(#mg)" filter="url(#mtex)"/>
<clipPath id="c2056_842"><path d="M205.60,84.20 C205.92,84.20 206.28,85.53 206.56,86.20 C206.84,86.87 207.06,87.53 207.28,88.20 C207.50,88.87 207.64,89.62 207.88,90.20 C208.12,90.78 208.38,91.20 208.72,91.70 C209.06,92.20 209.58,92.62 209.92,93.20 C210.26,93.78 210.52,94.37 210.76,95.20 C211.00,96.03 211.22,97.03 211.36,98.20 C211.50,99.37 211.56,100.87 211.60,102.20 C211.64,103.53 211.66,104.87 211.60,106.20 C211.54,107.53 211.42,109.03 211.24,110.20 C211.06,111.37 210.86,112.28 210.52,113.20 C210.18,114.12 209.72,115.07 209.20,115.70 C208.68,116.33 208.00,116.72 207.40,117.00 C206.80,117.28 206.20,117.40 205.60,117.40 C205.00,117.40 204.40,117.28 203.80,117.00 C203.20,116.72 202.52,116.33 202.00,115.70 C201.48,115.07 201.02,114.12 200.68,113.20 C200.34,112.28 200.14,111.37 199.96,110.20 C199.78,109.03 199.66,107.53 199.60,106.20 C199.54,104.87 199.56,103.53 199.60,102.20 C199.64,100.87 199.70,99.37 199.84,98.20 C199.98,97.03 200.20,96.03 200.44,95.20 C200.68,94.37 200.94,93.78 201.28,93.20 C201.62,92.62 202.14,92.20 202.48,91.70 C202.82,91.20 203.08,90.78 203.32,90.20 C203.56,89.62 203.70,88.87 203.92,88.20 C204.14,87.53 204.36,86.87 204.64,86.20 C204.92,85.53 205.28,84.20 205.60,84.20 Z"/></clipPath>
<g clip-path="url(#c2056_842)">
<rect x="197.6" y="84.2" width="16" height="36.0" fill="#1838f0"/>
<ellipse cx="206.60" cy="91.20" rx="1.60" ry="5.00" fill="#98e4cc" opacity="1.0" filter="url(#bl)"/>
<ellipse cx="205.60" cy="98.20" rx="2.80" ry="2.20" fill="#6fd3f2" opacity="1.0" filter="url(#bl)"/>
<ellipse cx="204.10" cy="94.20" rx="1.20" ry="2.00" fill="#6fd3f2" opacity="1.0" filter="url(#bl)"/>
<ellipse cx="202.10" cy="105.20" rx="2.60" ry="2.00" fill="#f4f4ff" opacity="1.0" filter="url(#bl)"/>
<ellipse cx="209.60" cy="105.20" rx="3.40" ry="4.60" fill="#c8e848" opacity="1.0" filter="url(#bl)"/>
<ellipse cx="209.60" cy="105.20" rx="2.30" ry="3.60" fill="#e0281a" opacity="1.0" filter="url(#bl)"/>
<ellipse cx="206.60" cy="111.70" rx="2.20" ry="2.00" fill="#6fd3f2" opacity="1.0" filter="url(#bl)"/>
<ellipse cx="202.60" cy="110.20" rx="1.50" ry="1.20" fill="#4aa0f0" opacity="1.0" filter="url(#bl)"/>
</g>
<line x1="220.20" y1="118.90" x2="220.50" y2="126.80" stroke="#b8b8b8" stroke-width="1.1"/>
<path d="M215.40,115.90 L212.64,120.40 L213.00,122.90" stroke="#aaa" stroke-width="1.1" fill="none"/>
<path d="M225.00,115.90 L227.76,120.40 L227.40,122.90" stroke="#aaa" stroke-width="1.1" fill="none"/>
<path d="M220.20,86.90 C220.52,86.90 220.88,88.23 221.16,88.90 C221.44,89.57 221.66,90.23 221.88,90.90 C222.10,91.57 222.24,92.32 222.48,92.90 C222.72,93.48 222.98,93.90 223.32,94.40 C223.66,94.90 224.18,95.32 224.52,95.90 C224.86,96.48 225.12,97.07 225.36,97.90 C225.60,98.73 225.82,99.73 225.96,100.90 C226.10,102.07 226.16,103.57 226.20,104.90 C226.24,106.23 226.26,107.57 226.20,108.90 C226.14,110.23 226.02,111.73 225.84,112.90 C225.66,114.07 225.46,114.98 225.12,115.90 C224.78,116.82 224.32,117.77 223.80,118.40 C223.28,119.03 222.60,119.42 222.00,119.70 C221.40,119.98 220.80,120.10 220.20,120.10 C219.60,120.10 219.00,119.98 218.40,119.70 C217.80,119.42 217.12,119.03 216.60,118.40 C216.08,117.77 215.62,116.82 215.28,115.90 C214.94,114.98 214.74,114.07 214.56,112.90 C214.38,111.73 214.26,110.23 214.20,108.90 C214.14,107.57 214.16,106.23 214.20,104.90 C214.24,103.57 214.30,102.07 214.44,100.90 C214.58,99.73 214.80,98.73 215.04,97.90 C215.28,97.07 215.54,96.48 215.88,95.90 C216.22,95.32 216.74,94.90 217.08,94.40 C217.42,93.90 217.68,93.48 217.92,92.90 C218.16,92.32 218.30,91.57 218.52,90.90 C218.74,90.23 218.96,89.57 219.24,88.90 C219.52,88.23 219.88,86.90 220.20,86.90 Z" fill="url(#mg)" filter="url(#mtex)"/>
<clipPath id="c2202_869"><path d="M220.20,86.90 C220.52,86.90 220.88,88.23 221.16,88.90 C221.44,89.57 221.66,90.23 221.88,90.90 C222.10,91.57 222.24,92.32 222.48,92.90 C222.72,93.48 222.98,93.90 223.32,94.40 C223.66,94.90 224.18,95.32 224.52,95.90 C224.86,96.48 225.12,97.07 225.36,97.90 C225.60,98.73 225.82,99.73 225.96,100.90 C226.10,102.07 226.16,103.57 226.20,104.90 C226.24,106.23 226.26,107.57 226.20,108.90 C226.14,110.23 226.02,111.73 225.84,112.90 C225.66,114.07 225.46,114.98 225.12,115.90 C224.78,116.82 224.32,117.77 223.80,118.40 C223.28,119.03 222.60,119.42 222.00,119.70 C221.40,119.98 220.80,120.10 220.20,120.10 C219.60,120.10 219.00,119.98 218.40,119.70 C217.80,119.42 217.12,119.03 216.60,118.40 C216.08,117.77 215.62,116.82 215.28,115.90 C214.94,114.98 214.74,114.07 214.56,112.90 C214.38,111.73 214.26,110.23 214.20,108.90 C214.14,107.57 214.16,106.23 214.20,104.90 C214.24,103.57 214.30,102.07 214.44,100.90 C214.58,99.73 214.80,98.73 215.04,97.90 C215.28,97.07 215.54,96.48 215.88,95.90 C216.22,95.32 216.74,94.90 217.08,94.40 C217.42,93.90 217.68,93.48 217.92,92.90 C218.16,92.32 218.30,91.57 218.52,90.90 C218.74,90.23 218.96,89.57 219.24,88.90 C219.52,88.23 219.88,86.90 220.20,86.90 Z"/></clipPath>
<g clip-path="url(#c2202_869)">
<rect x="212.2" y="86.9" width="16" height="36.0" fill="#1838f0"/>
<ellipse cx="220.20" cy="90.90" rx="2.00" ry="2.00" fill="#c8e4ff" opacity="1.0" filter="url(#bl)"/>
<ellipse cx="222.20" cy="98.90" rx="1.20" ry="5.00" fill="#6fd3f2" opacity="1.0" filter="url(#bl)"/>
<ellipse cx="218.70" cy="95.90" rx="1.20" ry="2.50" fill="#60b0f0" opacity="1.0" filter="url(#bl)"/>
<ellipse cx="217.70" cy="106.40" rx="3.20" ry="1.60" fill="#f4f4ff" opacity="1.0" filter="url(#bl)"/>
<ellipse cx="223.70" cy="105.90" rx="3.20" ry="3.00" fill="#f0e030" opacity="1.0" filter="url(#bl)"/>
<ellipse cx="223.80" cy="108.40" rx="2.60" ry="4.00" fill="#e0281a" opacity="1.0" filter="url(#bl)"/>
<ellipse cx="220.20" cy="113.90" rx="2.00" ry="1.50" fill="#4aa0f0" opacity="1.0" filter="url(#bl)"/>
</g>
<line x1="233.00" y1="116.60" x2="233.30" y2="126.80" stroke="#b8b8b8" stroke-width="1.1"/>
<path d="M228.20,113.60 L225.44,118.10 L225.80,120.60" stroke="#aaa" stroke-width="1.1" fill="none"/>
<path d="M237.80,113.60 L240.56,118.10 L240.20,120.60" stroke="#aaa" stroke-width="1.1" fill="none"/>
<path d="M233.00,84.60 C233.32,84.60 233.68,85.93 233.96,86.60 C234.24,87.27 234.46,87.93 234.68,88.60 C234.90,89.27 235.04,90.02 235.28,90.60 C235.52,91.18 235.78,91.60 236.12,92.10 C236.46,92.60 236.98,93.02 237.32,93.60 C237.66,94.18 237.92,94.77 238.16,95.60 C238.40,96.43 238.62,97.43 238.76,98.60 C238.90,99.77 238.96,101.27 239.00,102.60 C239.04,103.93 239.06,105.27 239.00,106.60 C238.94,107.93 238.82,109.43 238.64,110.60 C238.46,111.77 238.26,112.68 237.92,113.60 C237.58,114.52 237.12,115.47 236.60,116.10 C236.08,116.73 235.40,117.12 234.80,117.40 C234.20,117.68 233.60,117.80 233.00,117.80 C232.40,117.80 231.80,117.68 231.20,117.40 C230.60,117.12 229.92,116.73 229.40,116.10 C228.88,115.47 228.42,114.52 228.08,113.60 C227.74,112.68 227.54,111.77 227.36,110.60 C227.18,109.43 227.06,107.93 227.00,106.60 C226.94,105.27 226.96,103.93 227.00,102.60 C227.04,101.27 227.10,99.77 227.24,98.60 C227.38,97.43 227.60,96.43 227.84,95.60 C228.08,94.77 228.34,94.18 228.68,93.60 C229.02,93.02 229.54,92.60 229.88,92.10 C230.22,91.60 230.48,91.18 230.72,90.60 C230.96,90.02 231.10,89.27 231.32,88.60 C231.54,87.93 231.76,87.27 232.04,86.60 C232.32,85.93 232.68,84.60 233.00,84.60 Z" fill="url(#mg)" filter="url(#mtex)"/>
<clipPath id="c2330_846"><path d="M233.00,84.60 C233.32,84.60 233.68,85.93 233.96,86.60 C234.24,87.27 234.46,87.93 234.68,88.60 C234.90,89.27 235.04,90.02 235.28,90.60 C235.52,91.18 235.78,91.60 236.12,92.10 C236.46,92.60 236.98,93.02 237.32,93.60 C237.66,94.18 237.92,94.77 238.16,95.60 C238.40,96.43 238.62,97.43 238.76,98.60 C238.90,99.77 238.96,101.27 239.00,102.60 C239.04,103.93 239.06,105.27 239.00,106.60 C238.94,107.93 238.82,109.43 238.64,110.60 C238.46,111.77 238.26,112.68 237.92,113.60 C237.58,114.52 237.12,115.47 236.60,116.10 C236.08,116.73 235.40,117.12 234.80,117.40 C234.20,117.68 233.60,117.80 233.00,117.80 C232.40,117.80 231.80,117.68 231.20,117.40 C230.60,117.12 229.92,116.73 229.40,116.10 C228.88,115.47 228.42,114.52 228.08,113.60 C227.74,112.68 227.54,111.77 227.36,110.60 C227.18,109.43 227.06,107.93 227.00,106.60 C226.94,105.27 226.96,103.93 227.00,102.60 C227.04,101.27 227.10,99.77 227.24,98.60 C227.38,97.43 227.60,96.43 227.84,95.60 C228.08,94.77 228.34,94.18 228.68,93.60 C229.02,93.02 229.54,92.60 229.88,92.10 C230.22,91.60 230.48,91.18 230.72,90.60 C230.96,90.02 231.10,89.27 231.32,88.60 C231.54,87.93 231.76,87.27 232.04,86.60 C232.32,85.93 232.68,84.60 233.00,84.60 Z"/></clipPath>
<g clip-path="url(#c2330_846)">
<rect x="225" y="84.60000000000001" width="16" height="36.0" fill="#3a1ee8"/>
<ellipse cx="232.00" cy="93.60" rx="2.00" ry="3.00" fill="#6040f0" opacity="1.0" filter="url(#bl)"/>
<ellipse cx="230.50" cy="103.60" rx="2.60" ry="2.00" fill="#f0e8ff" opacity="1.0" filter="url(#bl)"/>
<ellipse cx="233.00" cy="107.60" rx="2.50" ry="1.80" fill="#f4f4ff" opacity="1.0" filter="url(#bl)"/>
<ellipse cx="230.00" cy="109.60" rx="1.50" ry="1.50" fill="#d8d0ff" opacity="1.0" filter="url(#bl)"/>
<ellipse cx="237.50" cy="103.60" rx="1.40" ry="1.60" fill="#f0a020" opacity="1.0" filter="url(#bl)"/>
<ellipse cx="234.50" cy="112.60" rx="2.00" ry="1.50" fill="#e0d8ff" opacity="0.8" filter="url(#bl)"/>
</g>
<line x1="246.10" y1="116.60" x2="246.40" y2="126.80" stroke="#b8b8b8" stroke-width="1.1"/>
<path d="M241.30,113.60 L238.54,118.10 L238.90,120.60" stroke="#aaa" stroke-width="1.1" fill="none"/>
<path d="M250.90,113.60 L253.66,118.10 L253.30,120.60" stroke="#aaa" stroke-width="1.1" fill="none"/>
<path d="M246.10,84.60 C246.42,84.60 246.78,85.93 247.06,86.60 C247.34,87.27 247.56,87.93 247.78,88.60 C248.00,89.27 248.14,90.02 248.38,90.60 C248.62,91.18 248.88,91.60 249.22,92.10 C249.56,92.60 250.08,93.02 250.42,93.60 C250.76,94.18 251.02,94.77 251.26,95.60 C251.50,96.43 251.72,97.43 251.86,98.60 C252.00,99.77 252.06,101.27 252.10,102.60 C252.14,103.93 252.16,105.27 252.10,106.60 C252.04,107.93 251.92,109.43 251.74,110.60 C251.56,111.77 251.36,112.68 251.02,113.60 C250.68,114.52 250.22,115.47 249.70,116.10 C249.18,116.73 248.50,117.12 247.90,117.40 C247.30,117.68 246.70,117.80 246.10,117.80 C245.50,117.80 244.90,117.68 244.30,117.40 C243.70,117.12 243.02,116.73 242.50,116.10 C241.98,115.47 241.52,114.52 241.18,113.60 C240.84,112.68 240.64,111.77 240.46,110.60 C240.28,109.43 240.16,107.93 240.10,106.60 C240.04,105.27 240.06,103.93 240.10,102.60 C240.14,101.27 240.20,99.77 240.34,98.60 C240.48,97.43 240.70,96.43 240.94,95.60 C241.18,94.77 241.44,94.18 241.78,93.60 C242.12,93.02 242.64,92.60 242.98,92.10 C243.32,91.60 243.58,91.18 243.82,90.60 C244.06,90.02 244.20,89.27 244.42,88.60 C244.64,87.93 244.86,87.27 245.14,86.60 C245.42,85.93 245.78,84.60 246.10,84.60 Z" fill="url(#mg)" filter="url(#mtex)"/>
<clipPath id="c2461_846"><path d="M246.10,84.60 C246.42,84.60 246.78,85.93 247.06,86.60 C247.34,87.27 247.56,87.93 247.78,88.60 C248.00,89.27 248.14,90.02 248.38,90.60 C248.62,91.18 248.88,91.60 249.22,92.10 C249.56,92.60 250.08,93.02 250.42,93.60 C250.76,94.18 251.02,94.77 251.26,95.60 C251.50,96.43 251.72,97.43 251.86,98.60 C252.00,99.77 252.06,101.27 252.10,102.60 C252.14,103.93 252.16,105.27 252.10,106.60 C252.04,107.93 251.92,109.43 251.74,110.60 C251.56,111.77 251.36,112.68 251.02,113.60 C250.68,114.52 250.22,115.47 249.70,116.10 C249.18,116.73 248.50,117.12 247.90,117.40 C247.30,117.68 246.70,117.80 246.10,117.80 C245.50,117.80 244.90,117.68 244.30,117.40 C243.70,117.12 243.02,116.73 242.50,116.10 C241.98,115.47 241.52,114.52 241.18,113.60 C240.84,112.68 240.64,111.77 240.46,110.60 C240.28,109.43 240.16,107.93 240.10,106.60 C240.04,105.27 240.06,103.93 240.10,102.60 C240.14,101.27 240.20,99.77 240.34,98.60 C240.48,97.43 240.70,96.43 240.94,95.60 C241.18,94.77 241.44,94.18 241.78,93.60 C242.12,93.02 242.64,92.60 242.98,92.10 C243.32,91.60 243.58,91.18 243.82,90.60 C244.06,90.02 244.20,89.27 244.42,88.60 C244.64,87.93 244.86,87.27 245.14,86.60 C245.42,85.93 245.78,84.60 246.10,84.60 Z"/></clipPath>
<g clip-path="url(#c2461_846)">
<rect x="238.1" y="84.60000000000001" width="16" height="36.0" fill="#1838f0"/>
<ellipse cx="246.10" cy="89.60" rx="2.00" ry="1.80" fill="#6fd3f2" opacity="1.0" filter="url(#bl)"/>
<ellipse cx="245.60" cy="97.60" rx="1.50" ry="2.00" fill="#b8f070" opacity="1.0" filter="url(#bl)"/>
<ellipse cx="247.60" cy="100.60" rx="1.50" ry="3.00" fill="#6fd3f2" opacity="1.0" filter="url(#bl)"/>
<ellipse cx="245.10" cy="107.60" rx="2.20" ry="2.50" fill="#f4f4ff" opacity="1.0" filter="url(#bl)"/>
<ellipse cx="250.10" cy="107.60" rx="1.80" ry="4.00" fill="#e04818" opacity="1.0" filter="url(#bl)"/>
<ellipse cx="250.90" cy="112.60" rx="1.20" ry="1.20" fill="#f0e030" opacity="1.0" filter="url(#bl)"/>
<ellipse cx="243.10" cy="101.60" rx="1.00" ry="2.00" fill="#60b0f0" opacity="1.0" filter="url(#bl)"/>
</g>
</svg>
<rect x="195.4" y="80.80000000000001" width="70.2" height="44.599999999999994" fill="none" stroke="#2c2c2c" stroke-width="0.8"/>
<rect x="266" y="80.4" width="2" height="45.39999999999999" fill="#bdbdbd"/>
<text x="302.80" y="29.40" font-size="8.2" text-anchor="middle" font-weight="normal" fill="#2a2a2a" textLength="34" lengthAdjust="spacingAndGlyphs" style="stroke-width:0.12px">Ruxolitinib</text>
<rect x="268" y="31" width="70" height="44.8" fill="#454545"/>
<rect x="268" y="31" width="70" height="44.8" fill="url(#vstripe)" opacity="0.25"/>
<svg x="268" y="31" width="70" height="44.8" viewBox="268 31 70 44.8" overflow="hidden">
<line x1="277.60" y1="64.70" x2="277.90" y2="76.80" stroke="#b8b8b8" stroke-width="1.1"/>
<path d="M273.60,61.70 L271.30,66.20 L271.60,68.70" stroke="#aaa" stroke-width="1.1" fill="none"/>
<path d="M281.60,61.70 L283.90,66.20 L283.60,68.70" stroke="#aaa" stroke-width="1.1" fill="none"/>
<path d="M277.60,32.70 C277.87,32.70 278.17,34.03 278.40,34.70 C278.63,35.37 278.82,36.03 279.00,36.70 C279.18,37.37 279.30,38.12 279.50,38.70 C279.70,39.28 279.92,39.70 280.20,40.20 C280.48,40.70 280.92,41.12 281.20,41.70 C281.48,42.28 281.70,42.87 281.90,43.70 C282.10,44.53 282.28,45.53 282.40,46.70 C282.52,47.87 282.57,49.37 282.60,50.70 C282.63,52.03 282.65,53.37 282.60,54.70 C282.55,56.03 282.45,57.53 282.30,58.70 C282.15,59.87 281.98,60.78 281.70,61.70 C281.42,62.62 281.03,63.57 280.60,64.20 C280.17,64.83 279.60,65.22 279.10,65.50 C278.60,65.78 278.10,65.90 277.60,65.90 C277.10,65.90 276.60,65.78 276.10,65.50 C275.60,65.22 275.03,64.83 274.60,64.20 C274.17,63.57 273.78,62.62 273.50,61.70 C273.22,60.78 273.05,59.87 272.90,58.70 C272.75,57.53 272.65,56.03 272.60,54.70 C272.55,53.37 272.57,52.03 272.60,50.70 C272.63,49.37 272.68,47.87 272.80,46.70 C272.92,45.53 273.10,44.53 273.30,43.70 C273.50,42.87 273.72,42.28 274.00,41.70 C274.28,41.12 274.72,40.70 275.00,40.20 C275.28,39.70 275.50,39.28 275.70,38.70 C275.90,38.12 276.02,37.37 276.20,36.70 C276.38,36.03 276.57,35.37 276.80,34.70 C277.03,34.03 277.33,32.70 277.60,32.70 Z" fill="url(#mg)" filter="url(#mtex)"/>
<ellipse cx="278.20" cy="46.40" rx="2.88" ry="3.00" fill="#7c70f0" opacity="0.45" filter="url(#bl)"/>
<ellipse cx="278.20" cy="46.40" rx="1.80" ry="2.00" fill="#2a1ae6" opacity="1.0" filter="url(#bl)"/>
<ellipse cx="273.50" cy="60.70" rx="1.20" ry="1.20" fill="#2a1ae6" opacity="0.8" filter="url(#bl)"/>
<line x1="291.20" y1="64.70" x2="291.50" y2="76.80" stroke="#b8b8b8" stroke-width="1.1"/>
<path d="M287.20,61.70 L284.90,66.20 L285.20,68.70" stroke="#aaa" stroke-width="1.1" fill="none"/>
<path d="M295.20,61.70 L297.50,66.20 L297.20,68.70" stroke="#aaa" stroke-width="1.1" fill="none"/>
<path d="M291.20,32.70 C291.47,32.70 291.77,34.03 292.00,34.70 C292.23,35.37 292.42,36.03 292.60,36.70 C292.78,37.37 292.90,38.12 293.10,38.70 C293.30,39.28 293.52,39.70 293.80,40.20 C294.08,40.70 294.52,41.12 294.80,41.70 C295.08,42.28 295.30,42.87 295.50,43.70 C295.70,44.53 295.88,45.53 296.00,46.70 C296.12,47.87 296.17,49.37 296.20,50.70 C296.23,52.03 296.25,53.37 296.20,54.70 C296.15,56.03 296.05,57.53 295.90,58.70 C295.75,59.87 295.58,60.78 295.30,61.70 C295.02,62.62 294.63,63.57 294.20,64.20 C293.77,64.83 293.20,65.22 292.70,65.50 C292.20,65.78 291.70,65.90 291.20,65.90 C290.70,65.90 290.20,65.78 289.70,65.50 C289.20,65.22 288.63,64.83 288.20,64.20 C287.77,63.57 287.38,62.62 287.10,61.70 C286.82,60.78 286.65,59.87 286.50,58.70 C286.35,57.53 286.25,56.03 286.20,54.70 C286.15,53.37 286.17,52.03 286.20,50.70 C286.23,49.37 286.28,47.87 286.40,46.70 C286.52,45.53 286.70,44.53 286.90,43.70 C287.10,42.87 287.32,42.28 287.60,41.70 C287.88,41.12 288.32,40.70 288.60,40.20 C288.88,39.70 289.10,39.28 289.30,38.70 C289.50,38.12 289.62,37.37 289.80,36.70 C289.98,36.03 290.17,35.37 290.40,34.70 C290.63,34.03 290.93,32.70 291.20,32.70 Z" fill="url(#mg)" filter="url(#mtex)"/>
<ellipse cx="291.00" cy="46.40" rx="2.40" ry="4.80" fill="#7c70f0" opacity="0.45" filter="url(#bl)"/>
<ellipse cx="291.00" cy="46.40" rx="1.50" ry="3.20" fill="#2a1ae6" opacity="1.0" filter="url(#bl)"/>
<ellipse cx="288.20" cy="58.70" rx="2.00" ry="1.20" fill="#7c70f0" opacity="0.5" filter="url(#bl)"/>
<line x1="304.20" y1="64.70" x2="304.50" y2="76.80" stroke="#b8b8b8" stroke-width="1.1"/>
<path d="M300.20,61.70 L297.90,66.20 L298.20,68.70" stroke="#aaa" stroke-width="1.1" fill="none"/>
<path d="M308.20,61.70 L310.50,66.20 L310.20,68.70" stroke="#aaa" stroke-width="1.1" fill="none"/>
<path d="M304.20,32.70 C304.47,32.70 304.77,34.03 305.00,34.70 C305.23,35.37 305.42,36.03 305.60,36.70 C305.78,37.37 305.90,38.12 306.10,38.70 C306.30,39.28 306.52,39.70 306.80,40.20 C307.08,40.70 307.52,41.12 307.80,41.70 C308.08,42.28 308.30,42.87 308.50,43.70 C308.70,44.53 308.88,45.53 309.00,46.70 C309.12,47.87 309.17,49.37 309.20,50.70 C309.23,52.03 309.25,53.37 309.20,54.70 C309.15,56.03 309.05,57.53 308.90,58.70 C308.75,59.87 308.58,60.78 308.30,61.70 C308.02,62.62 307.63,63.57 307.20,64.20 C306.77,64.83 306.20,65.22 305.70,65.50 C305.20,65.78 304.70,65.90 304.20,65.90 C303.70,65.90 303.20,65.78 302.70,65.50 C302.20,65.22 301.63,64.83 301.20,64.20 C300.77,63.57 300.38,62.62 300.10,61.70 C299.82,60.78 299.65,59.87 299.50,58.70 C299.35,57.53 299.25,56.03 299.20,54.70 C299.15,53.37 299.17,52.03 299.20,50.70 C299.23,49.37 299.28,47.87 299.40,46.70 C299.52,45.53 299.70,44.53 299.90,43.70 C300.10,42.87 300.32,42.28 300.60,41.70 C300.88,41.12 301.32,40.70 301.60,40.20 C301.88,39.70 302.10,39.28 302.30,38.70 C302.50,38.12 302.62,37.37 302.80,36.70 C302.98,36.03 303.17,35.37 303.40,34.70 C303.63,34.03 303.93,32.70 304.20,32.70 Z" fill="url(#mg)" filter="url(#mtex)"/>
<ellipse cx="301.50" cy="43.70" rx="2.40" ry="1.95" fill="#7c70f0" opacity="0.45" filter="url(#bl)"/>
<ellipse cx="301.50" cy="43.70" rx="1.50" ry="1.30" fill="#2a1ae6" opacity="1.0" filter="url(#bl)"/>
<ellipse cx="304.60" cy="45.10" rx="2.08" ry="1.95" fill="#7c70f0" opacity="0.45" filter="url(#bl)"/>
<ellipse cx="304.60" cy="45.10" rx="1.30" ry="1.30" fill="#2a1ae6" opacity="1.0" filter="url(#bl)"/>
<ellipse cx="304.90" cy="48.40" rx="1.00" ry="1.00" fill="#2a1ae6" opacity="1.0" filter="url(#bl)"/>
<line x1="317.50" y1="64.70" x2="317.80" y2="76.80" stroke="#b8b8b8" stroke-width="1.1"/>
<path d="M313.50,61.70 L311.20,66.20 L311.50,68.70" stroke="#aaa" stroke-width="1.1" fill="none"/>
<path d="M321.50,61.70 L323.80,66.20 L323.50,68.70" stroke="#aaa" stroke-width="1.1" fill="none"/>
<path d="M317.50,32.70 C317.77,32.70 318.07,34.03 318.30,34.70 C318.53,35.37 318.72,36.03 318.90,36.70 C319.08,37.37 319.20,38.12 319.40,38.70 C319.60,39.28 319.82,39.70 320.10,40.20 C320.38,40.70 320.82,41.12 321.10,41.70 C321.38,42.28 321.60,42.87 321.80,43.70 C322.00,44.53 322.18,45.53 322.30,46.70 C322.42,47.87 322.47,49.37 322.50,50.70 C322.53,52.03 322.55,53.37 322.50,54.70 C322.45,56.03 322.35,57.53 322.20,58.70 C322.05,59.87 321.88,60.78 321.60,61.70 C321.32,62.62 320.93,63.57 320.50,64.20 C320.07,64.83 319.50,65.22 319.00,65.50 C318.50,65.78 318.00,65.90 317.50,65.90 C317.00,65.90 316.50,65.78 316.00,65.50 C315.50,65.22 314.93,64.83 314.50,64.20 C314.07,63.57 313.68,62.62 313.40,61.70 C313.12,60.78 312.95,59.87 312.80,58.70 C312.65,57.53 312.55,56.03 312.50,54.70 C312.45,53.37 312.47,52.03 312.50,50.70 C312.53,49.37 312.58,47.87 312.70,46.70 C312.82,45.53 313.00,44.53 313.20,43.70 C313.40,42.87 313.62,42.28 313.90,41.70 C314.18,41.12 314.62,40.70 314.90,40.20 C315.18,39.70 315.40,39.28 315.60,38.70 C315.80,38.12 315.92,37.37 316.10,36.70 C316.28,36.03 316.47,35.37 316.70,34.70 C316.93,34.03 317.23,32.70 317.50,32.70 Z" fill="url(#mg)" filter="url(#mtex)"/>
<ellipse cx="317.50" cy="44.30" rx="2.08" ry="1.80" fill="#7c70f0" opacity="0.45" filter="url(#bl)"/>
<ellipse cx="317.50" cy="44.30" rx="1.30" ry="1.20" fill="#2a1ae6" opacity="1.0" filter="url(#bl)"/>
<line x1="330.80" y1="64.70" x2="331.10" y2="76.80" stroke="#b8b8b8" stroke-width="1.1"/>
<path d="M326.80,61.70 L324.50,66.20 L324.80,68.70" stroke="#aaa" stroke-width="1.1" fill="none"/>
<path d="M334.80,61.70 L337.10,66.20 L336.80,68.70" stroke="#aaa" stroke-width="1.1" fill="none"/>
<path d="M330.80,32.70 C331.07,32.70 331.37,34.03 331.60,34.70 C331.83,35.37 332.02,36.03 332.20,36.70 C332.38,37.37 332.50,38.12 332.70,38.70 C332.90,39.28 333.12,39.70 333.40,40.20 C333.68,40.70 334.12,41.12 334.40,41.70 C334.68,42.28 334.90,42.87 335.10,43.70 C335.30,44.53 335.48,45.53 335.60,46.70 C335.72,47.87 335.77,49.37 335.80,50.70 C335.83,52.03 335.85,53.37 335.80,54.70 C335.75,56.03 335.65,57.53 335.50,58.70 C335.35,59.87 335.18,60.78 334.90,61.70 C334.62,62.62 334.23,63.57 333.80,64.20 C333.37,64.83 332.80,65.22 332.30,65.50 C331.80,65.78 331.30,65.90 330.80,65.90 C330.30,65.90 329.80,65.78 329.30,65.50 C328.80,65.22 328.23,64.83 327.80,64.20 C327.37,63.57 326.98,62.62 326.70,61.70 C326.42,60.78 326.25,59.87 326.10,58.70 C325.95,57.53 325.85,56.03 325.80,54.70 C325.75,53.37 325.77,52.03 325.80,50.70 C325.83,49.37 325.88,47.87 326.00,46.70 C326.12,45.53 326.30,44.53 326.50,43.70 C326.70,42.87 326.92,42.28 327.20,41.70 C327.48,41.12 327.92,40.70 328.20,40.20 C328.48,39.70 328.70,39.28 328.90,38.70 C329.10,38.12 329.22,37.37 329.40,36.70 C329.58,36.03 329.77,35.37 330.00,34.70 C330.23,34.03 330.53,32.70 330.80,32.70 Z" fill="url(#mg)" filter="url(#mtex)"/>
<ellipse cx="330.80" cy="45.70" rx="2.56" ry="4.50" fill="#7c70f0" opacity="0.45" filter="url(#bl)"/>
<ellipse cx="330.80" cy="45.70" rx="1.60" ry="3.00" fill="#2a1ae6" opacity="1.0" filter="url(#bl)"/>
</svg>
<rect x="268.4" y="31.4" width="69.2" height="44.0" fill="none" stroke="#2c2c2c" stroke-width="0.8"/>
<rect x="338" y="31" width="2" height="44.8" fill="#bdbdbd"/>
<rect x="268" y="80.4" width="70" height="45.39999999999999" fill="#454545"/>
<rect x="268" y="80.4" width="70" height="45.39999999999999" fill="url(#vstripe)" opacity="0.25"/>
<svg x="268" y="80.4" width="70" height="45.39999999999999" viewBox="268 80.4 70 45.39999999999999" overflow="hidden">
<line x1="276.70" y1="115.70" x2="277.00" y2="126.80" stroke="#b8b8b8" stroke-width="1.1"/>
<path d="M272.70,112.70 L270.40,117.20 L270.70,119.70" stroke="#aaa" stroke-width="1.1" fill="none"/>
<path d="M280.70,112.70 L283.00,117.20 L282.70,119.70" stroke="#aaa" stroke-width="1.1" fill="none"/>
<path d="M276.70,83.70 C276.97,83.70 277.27,85.03 277.50,85.70 C277.73,86.37 277.92,87.03 278.10,87.70 C278.28,88.37 278.40,89.12 278.60,89.70 C278.80,90.28 279.02,90.70 279.30,91.20 C279.58,91.70 280.02,92.12 280.30,92.70 C280.58,93.28 280.80,93.87 281.00,94.70 C281.20,95.53 281.38,96.53 281.50,97.70 C281.62,98.87 281.67,100.37 281.70,101.70 C281.73,103.03 281.75,104.37 281.70,105.70 C281.65,107.03 281.55,108.53 281.40,109.70 C281.25,110.87 281.08,111.78 280.80,112.70 C280.52,113.62 280.13,114.57 279.70,115.20 C279.27,115.83 278.70,116.22 278.20,116.50 C277.70,116.78 277.20,116.90 276.70,116.90 C276.20,116.90 275.70,116.78 275.20,116.50 C274.70,116.22 274.13,115.83 273.70,115.20 C273.27,114.57 272.88,113.62 272.60,112.70 C272.32,111.78 272.15,110.87 272.00,109.70 C271.85,108.53 271.75,107.03 271.70,105.70 C271.65,104.37 271.67,103.03 271.70,101.70 C271.73,100.37 271.78,98.87 271.90,97.70 C272.02,96.53 272.20,95.53 272.40,94.70 C272.60,93.87 272.82,93.28 273.10,92.70 C273.38,92.12 273.82,91.70 274.10,91.20 C274.38,90.70 274.60,90.28 274.80,89.70 C275.00,89.12 275.12,88.37 275.30,87.70 C275.48,87.03 275.67,86.37 275.90,85.70 C276.13,85.03 276.43,83.70 276.70,83.70 Z" fill="url(#mg)" filter="url(#mtex)"/>
<ellipse cx="275.70" cy="92.70" rx="3.58" ry="6.60" fill="#7c70f0" opacity="0.4" filter="url(#bl)"/>
<ellipse cx="276.69" cy="94.79" rx="1.93" ry="3.01" fill="#2a1ae6" opacity="1.0" filter="url(#bl)"/>
<ellipse cx="274.91" cy="92.74" rx="1.86" ry="3.65" fill="#2a1ae6" opacity="1.0" filter="url(#bl)"/>
<ellipse cx="275.74" cy="92.75" rx="1.97" ry="3.22" fill="#2a1ae6" opacity="1.0" filter="url(#bl)"/>
<ellipse cx="275.70" cy="92.69" rx="1.73" ry="3.57" fill="#2a1ae6" opacity="1.0" filter="url(#bl)"/>
<ellipse cx="275.92" cy="95.79" rx="2.02" ry="2.74" fill="#2a1ae6" opacity="1.0" filter="url(#bl)"/>
<ellipse cx="276.56" cy="92.96" rx="0.98" ry="0.75" fill="#e8e4ff" opacity="0.85" filter="url(#bl)"/>
<ellipse cx="275.84" cy="93.94" rx="0.61" ry="0.69" fill="#e8e4ff" opacity="0.85" filter="url(#bl)"/>
<ellipse cx="271.70" cy="108.70" rx="1.50" ry="2.30" fill="#2a1ae6" opacity="1.0" filter="url(#bl)"/>
<ellipse cx="280.20" cy="111.70" rx="2.20" ry="1.60" fill="#2a1ae6" opacity="1.0" filter="url(#bl)"/>
<line x1="289.50" y1="116.90" x2="289.80" y2="126.80" stroke="#b8b8b8" stroke-width="1.1"/>
<path d="M285.50,113.90 L283.20,118.40 L283.50,120.90" stroke="#aaa" stroke-width="1.1" fill="none"/>
<path d="M293.50,113.90 L295.80,118.40 L295.50,120.90" stroke="#aaa" stroke-width="1.1" fill="none"/>
<path d="M289.50,84.90 C289.77,84.90 290.07,86.23 290.30,86.90 C290.53,87.57 290.72,88.23 290.90,88.90 C291.08,89.57 291.20,90.32 291.40,90.90 C291.60,91.48 291.82,91.90 292.10,92.40 C292.38,92.90 292.82,93.32 293.10,93.90 C293.38,94.48 293.60,95.07 293.80,95.90 C294.00,96.73 294.18,97.73 294.30,98.90 C294.42,100.07 294.47,101.57 294.50,102.90 C294.53,104.23 294.55,105.57 294.50,106.90 C294.45,108.23 294.35,109.73 294.20,110.90 C294.05,112.07 293.88,112.98 293.60,113.90 C293.32,114.82 292.93,115.77 292.50,116.40 C292.07,117.03 291.50,117.42 291.00,117.70 C290.50,117.98 290.00,118.10 289.50,118.10 C289.00,118.10 288.50,117.98 288.00,117.70 C287.50,117.42 286.93,117.03 286.50,116.40 C286.07,115.77 285.68,114.82 285.40,113.90 C285.12,112.98 284.95,112.07 284.80,110.90 C284.65,109.73 284.55,108.23 284.50,106.90 C284.45,105.57 284.47,104.23 284.50,102.90 C284.53,101.57 284.58,100.07 284.70,98.90 C284.82,97.73 285.00,96.73 285.20,95.90 C285.40,95.07 285.62,94.48 285.90,93.90 C286.18,93.32 286.62,92.90 286.90,92.40 C287.18,91.90 287.40,91.48 287.60,90.90 C287.80,90.32 287.92,89.57 288.10,88.90 C288.28,88.23 288.47,87.57 288.70,86.90 C288.93,86.23 289.23,84.90 289.50,84.90 Z" fill="url(#mg)" filter="url(#mtex)"/>
<ellipse cx="289.50" cy="95.90" rx="5.15" ry="9.13" fill="#7c70f0" opacity="0.4" filter="url(#bl)"/>
<ellipse cx="291.81" cy="94.72" rx="2.12" ry="3.88" fill="#2a1ae6" opacity="1.0" filter="url(#bl)"/>
<ellipse cx="290.45" cy="93.01" rx="2.69" ry="4.25" fill="#2a1ae6" opacity="1.0" filter="url(#bl)"/>
<ellipse cx="288.29" cy="94.19" rx="2.60" ry="4.00" fill="#2a1ae6" opacity="1.0" filter="url(#bl)"/>
<ellipse cx="288.60" cy="96.66" rx="2.74" ry="5.39" fill="#2a1ae6" opacity="1.0" filter="url(#bl)"/>
<ellipse cx="290.81" cy="95.12" rx="2.48" ry="4.18" fill="#2a1ae6" opacity="1.0" filter="url(#bl)"/>
<ellipse cx="289.57" cy="95.93" rx="2.50" ry="4.26" fill="#2a1ae6" opacity="1.0" filter="url(#bl)"/>
<ellipse cx="287.86" cy="98.69" rx="2.55" ry="4.67" fill="#2a1ae6" opacity="1.0" filter="url(#bl)"/>
<ellipse cx="289.50" cy="96.00" rx="0.73" ry="0.65" fill="#e8e4ff" opacity="0.85" filter="url(#bl)"/>
<ellipse cx="287.21" cy="95.63" rx="0.87" ry="0.67" fill="#e8e4ff" opacity="0.85" filter="url(#bl)"/>
<ellipse cx="290.94" cy="93.85" rx="0.89" ry="0.96" fill="#e8e4ff" opacity="0.85" filter="url(#bl)"/>
<ellipse cx="289.50" cy="113.90" rx="8.06" ry="3.96" fill="#7c70f0" opacity="0.4" filter="url(#bl)"/>
<ellipse cx="289.66" cy="114.97" rx="3.77" ry="2.05" fill="#2a1ae6" opacity="1.0" filter="url(#bl)"/>
<ellipse cx="289.32" cy="113.81" rx="3.26" ry="2.22" fill="#2a1ae6" opacity="1.0" filter="url(#bl)"/>
<ellipse cx="289.45" cy="114.36" rx="4.67" ry="1.96" fill="#2a1ae6" opacity="1.0" filter="url(#bl)"/>
<ellipse cx="290.47" cy="113.09" rx="4.16" ry="1.73" fill="#2a1ae6" opacity="1.0" filter="url(#bl)"/>
<ellipse cx="287.22" cy="112.61" rx="3.99" ry="2.15" fill="#2a1ae6" opacity="1.0" filter="url(#bl)"/>
<ellipse cx="289.38" cy="113.79" rx="4.33" ry="2.05" fill="#2a1ae6" opacity="1.0" filter="url(#bl)"/>
<ellipse cx="289.46" cy="113.95" rx="0.95" ry="0.79" fill="#e8e4ff" opacity="0.85" filter="url(#bl)"/>
<ellipse cx="288.88" cy="112.35" rx="0.89" ry="0.97" fill="#e8e4ff" opacity="0.85" filter="url(#bl)"/>
<line x1="302.30" y1="116.40" x2="302.60" y2="126.80" stroke="#b8b8b8" stroke-width="1.1"/>
<path d="M298.30,113.40 L296.00,117.90 L296.30,120.40" stroke="#aaa" stroke-width="1.1" fill="none"/>
<path d="M306.30,113.40 L308.60,117.90 L308.30,120.40" stroke="#aaa" stroke-width="1.1" fill="none"/>
<path d="M302.30,84.40 C302.57,84.40 302.87,85.73 303.10,86.40 C303.33,87.07 303.52,87.73 303.70,88.40 C303.88,89.07 304.00,89.82 304.20,90.40 C304.40,90.98 304.62,91.40 304.90,91.90 C305.18,92.40 305.62,92.82 305.90,93.40 C306.18,93.98 306.40,94.57 306.60,95.40 C306.80,96.23 306.98,97.23 307.10,98.40 C307.22,99.57 307.27,101.07 307.30,102.40 C307.33,103.73 307.35,105.07 307.30,106.40 C307.25,107.73 307.15,109.23 307.00,110.40 C306.85,111.57 306.68,112.48 306.40,113.40 C306.12,114.32 305.73,115.27 305.30,115.90 C304.87,116.53 304.30,116.92 303.80,117.20 C303.30,117.48 302.80,117.60 302.30,117.60 C301.80,117.60 301.30,117.48 300.80,117.20 C300.30,116.92 299.73,116.53 299.30,115.90 C298.87,115.27 298.48,114.32 298.20,113.40 C297.92,112.48 297.75,111.57 297.60,110.40 C297.45,109.23 297.35,107.73 297.30,106.40 C297.25,105.07 297.27,103.73 297.30,102.40 C297.33,101.07 297.38,99.57 297.50,98.40 C297.62,97.23 297.80,96.23 298.00,95.40 C298.20,94.57 298.42,93.98 298.70,93.40 C298.98,92.82 299.42,92.40 299.70,91.90 C299.98,91.40 300.20,90.98 300.40,90.40 C300.60,89.82 300.72,89.07 300.90,88.40 C301.08,87.73 301.27,87.07 301.50,86.40 C301.73,85.73 302.03,84.40 302.30,84.40 Z" fill="url(#mg)" filter="url(#mtex)"/>
<ellipse cx="302.30" cy="93.40" rx="4.26" ry="6.38" fill="#7c70f0" opacity="0.4" filter="url(#bl)"/>
<ellipse cx="302.32" cy="93.73" rx="2.01" ry="2.79" fill="#2a1ae6" opacity="1.0" filter="url(#bl)"/>
<ellipse cx="303.07" cy="93.92" rx="2.41" ry="3.54" fill="#2a1ae6" opacity="1.0" filter="url(#bl)"/>
<ellipse cx="302.34" cy="92.70" rx="2.12" ry="2.93" fill="#2a1ae6" opacity="1.0" filter="url(#bl)"/>
<ellipse cx="302.40" cy="93.70" rx="1.87" ry="3.69" fill="#2a1ae6" opacity="1.0" filter="url(#bl)"/>
<ellipse cx="303.10" cy="91.14" rx="2.32" ry="2.83" fill="#2a1ae6" opacity="1.0" filter="url(#bl)"/>
<ellipse cx="301.82" cy="95.26" rx="2.27" ry="3.60" fill="#2a1ae6" opacity="1.0" filter="url(#bl)"/>
<ellipse cx="302.42" cy="93.23" rx="0.84" ry="0.87" fill="#e8e4ff" opacity="0.85" filter="url(#bl)"/>
<ellipse cx="301.96" cy="93.38" rx="0.79" ry="0.64" fill="#e8e4ff" opacity="0.85" filter="url(#bl)"/>
<ellipse cx="302.30" cy="112.90" rx="7.17" ry="3.63" fill="#7c70f0" opacity="0.4" filter="url(#bl)"/>
<ellipse cx="300.43" cy="111.96" rx="3.90" ry="2.11" fill="#2a1ae6" opacity="1.0" filter="url(#bl)"/>
<ellipse cx="302.09" cy="111.23" rx="2.92" ry="1.79" fill="#2a1ae6" opacity="1.0" filter="url(#bl)"/>
<ellipse cx="304.44" cy="112.49" rx="4.03" ry="1.56" fill="#2a1ae6" opacity="1.0" filter="url(#bl)"/>
<ellipse cx="301.45" cy="112.99" rx="3.58" ry="1.86" fill="#2a1ae6" opacity="1.0" filter="url(#bl)"/>
<ellipse cx="303.06" cy="112.93" rx="3.24" ry="2.09" fill="#2a1ae6" opacity="1.0" filter="url(#bl)"/>
<ellipse cx="302.36" cy="112.61" rx="3.90" ry="1.58" fill="#2a1ae6" opacity="1.0" filter="url(#bl)"/>
<ellipse cx="302.00" cy="112.76" rx="0.60" ry="0.95" fill="#e8e4ff" opacity="0.85" filter="url(#bl)"/>
<ellipse cx="302.47" cy="113.24" rx="0.99" ry="0.95" fill="#e8e4ff" opacity="0.85" filter="url(#bl)"/>
<line x1="315.40" y1="116.40" x2="315.70" y2="126.80" stroke="#b8b8b8" stroke-width="1.1"/>
<path d="M311.40,113.40 L309.10,117.90 L309.40,120.40" stroke="#aaa" stroke-width="1.1" fill="none"/>
<path d="M319.40,113.40 L321.70,117.90 L321.40,120.40" stroke="#aaa" stroke-width="1.1" fill="none"/>
<path d="M315.40,84.40 C315.67,84.40 315.97,85.73 316.20,86.40 C316.43,87.07 316.62,87.73 316.80,88.40 C316.98,89.07 317.10,89.82 317.30,90.40 C317.50,90.98 317.72,91.40 318.00,91.90 C318.28,92.40 318.72,92.82 319.00,93.40 C319.28,93.98 319.50,94.57 319.70,95.40 C319.90,96.23 320.08,97.23 320.20,98.40 C320.32,99.57 320.37,101.07 320.40,102.40 C320.43,103.73 320.45,105.07 320.40,106.40 C320.35,107.73 320.25,109.23 320.10,110.40 C319.95,111.57 319.78,112.48 319.50,113.40 C319.22,114.32 318.83,115.27 318.40,115.90 C317.97,116.53 317.40,116.92 316.90,117.20 C316.40,117.48 315.90,117.60 315.40,117.60 C314.90,117.60 314.40,117.48 313.90,117.20 C313.40,116.92 312.83,116.53 312.40,115.90 C311.97,115.27 311.58,114.32 311.30,113.40 C311.02,112.48 310.85,111.57 310.70,110.40 C310.55,109.23 310.45,107.73 310.40,106.40 C310.35,105.07 310.37,103.73 310.40,102.40 C310.43,101.07 310.48,99.57 310.60,98.40 C310.72,97.23 310.90,96.23 311.10,95.40 C311.30,94.57 311.52,93.98 311.80,93.40 C312.08,92.82 312.52,92.40 312.80,91.90 C313.08,91.40 313.30,90.98 313.50,90.40 C313.70,89.82 313.82,89.07 314.00,88.40 C314.18,87.73 314.37,87.07 314.60,86.40 C314.83,85.73 315.13,84.40 315.40,84.40 Z" fill="url(#mg)" filter="url(#mtex)"/>
<ellipse cx="315.40" cy="94.40" rx="4.26" ry="8.58" fill="#7c70f0" opacity="0.4" filter="url(#bl)"/>
<ellipse cx="315.86" cy="91.00" rx="2.08" ry="3.92" fill="#2a1ae6" opacity="1.0" filter="url(#bl)"/>
<ellipse cx="316.79" cy="94.41" rx="2.07" ry="4.70" fill="#2a1ae6" opacity="1.0" filter="url(#bl)"/>
<ellipse cx="314.28" cy="96.76" rx="1.92" ry="4.76" fill="#2a1ae6" opacity="1.0" filter="url(#bl)"/>
<ellipse cx="315.29" cy="92.64" rx="2.12" ry="4.57" fill="#2a1ae6" opacity="1.0" filter="url(#bl)"/>
<ellipse cx="315.81" cy="96.62" rx="2.32" ry="3.92" fill="#2a1ae6" opacity="1.0" filter="url(#bl)"/>
<ellipse cx="315.87" cy="91.62" rx="2.35" ry="4.03" fill="#2a1ae6" opacity="1.0" filter="url(#bl)"/>
<ellipse cx="316.67" cy="96.12" rx="0.92" ry="0.78" fill="#e8e4ff" opacity="0.85" filter="url(#bl)"/>
<ellipse cx="315.71" cy="94.83" rx="0.85" ry="0.72" fill="#e8e4ff" opacity="0.85" filter="url(#bl)"/>
<ellipse cx="314.40" cy="113.40" rx="7.62" ry="3.63" fill="#7c70f0" opacity="0.4" filter="url(#bl)"/>
<ellipse cx="314.15" cy="113.64" rx="3.95" ry="1.53" fill="#2a1ae6" opacity="1.0" filter="url(#bl)"/>
<ellipse cx="313.07" cy="113.25" rx="3.14" ry="1.82" fill="#2a1ae6" opacity="1.0" filter="url(#bl)"/>
<ellipse cx="315.98" cy="113.58" rx="3.16" ry="1.54" fill="#2a1ae6" opacity="1.0" filter="url(#bl)"/>
<ellipse cx="311.65" cy="114.09" rx="3.23" ry="1.63" fill="#2a1ae6" opacity="1.0" filter="url(#bl)"/>
<ellipse cx="311.93" cy="112.17" rx="3.84" ry="1.75" fill="#2a1ae6" opacity="1.0" filter="url(#bl)"/>
<ellipse cx="314.57" cy="113.39" rx="4.23" ry="1.68" fill="#2a1ae6" opacity="1.0" filter="url(#bl)"/>
<ellipse cx="314.65" cy="113.55" rx="0.72" ry="0.93" fill="#e8e4ff" opacity="0.85" filter="url(#bl)"/>
<ellipse cx="315.23" cy="114.27" rx="0.86" ry="0.75" fill="#e8e4ff" opacity="0.85" filter="url(#bl)"/>
<line x1="327.90" y1="116.40" x2="328.20" y2="126.80" stroke="#b8b8b8" stroke-width="1.1"/>
<path d="M323.90,113.40 L321.60,117.90 L321.90,120.40" stroke="#aaa" stroke-width="1.1" fill="none"/>
<path d="M331.90,113.40 L334.20,117.90 L333.90,120.40" stroke="#aaa" stroke-width="1.1" fill="none"/>
<path d="M327.90,84.40 C328.17,84.40 328.47,85.73 328.70,86.40 C328.93,87.07 329.12,87.73 329.30,88.40 C329.48,89.07 329.60,89.82 329.80,90.40 C330.00,90.98 330.22,91.40 330.50,91.90 C330.78,92.40 331.22,92.82 331.50,93.40 C331.78,93.98 332.00,94.57 332.20,95.40 C332.40,96.23 332.58,97.23 332.70,98.40 C332.82,99.57 332.87,101.07 332.90,102.40 C332.93,103.73 332.95,105.07 332.90,106.40 C332.85,107.73 332.75,109.23 332.60,110.40 C332.45,111.57 332.28,112.48 332.00,113.40 C331.72,114.32 331.33,115.27 330.90,115.90 C330.47,116.53 329.90,116.92 329.40,117.20 C328.90,117.48 328.40,117.60 327.90,117.60 C327.40,117.60 326.90,117.48 326.40,117.20 C325.90,116.92 325.33,116.53 324.90,115.90 C324.47,115.27 324.08,114.32 323.80,113.40 C323.52,112.48 323.35,111.57 323.20,110.40 C323.05,109.23 322.95,107.73 322.90,106.40 C322.85,105.07 322.87,103.73 322.90,102.40 C322.93,101.07 322.98,99.57 323.10,98.40 C323.22,97.23 323.40,96.23 323.60,95.40 C323.80,94.57 324.02,93.98 324.30,93.40 C324.58,92.82 325.02,92.40 325.30,91.90 C325.58,91.40 325.80,90.98 326.00,90.40 C326.20,89.82 326.32,89.07 326.50,88.40 C326.68,87.73 326.87,87.07 327.10,86.40 C327.33,85.73 327.63,84.40 327.90,84.40 Z" fill="url(#mg)" filter="url(#mtex)"/>
<ellipse cx="327.90" cy="93.40" rx="3.92" ry="6.93" fill="#7c70f0" opacity="0.4" filter="url(#bl)"/>
<ellipse cx="328.17" cy="96.70" rx="1.66" ry="3.72" fill="#2a1ae6" opacity="1.0" filter="url(#bl)"/>
<ellipse cx="328.31" cy="93.84" rx="2.27" ry="3.10" fill="#2a1ae6" opacity="1.0" filter="url(#bl)"/>
<ellipse cx="327.34" cy="92.16" rx="1.89" ry="3.46" fill="#2a1ae6" opacity="1.0" filter="url(#bl)"/>
<ellipse cx="328.47" cy="96.09" rx="1.64" ry="3.13" fill="#2a1ae6" opacity="1.0" filter="url(#bl)"/>
<ellipse cx="328.41" cy="93.52" rx="1.86" ry="3.97" fill="#2a1ae6" opacity="1.0" filter="url(#bl)"/>
<ellipse cx="327.74" cy="93.67" rx="1.76" ry="4.08" fill="#2a1ae6" opacity="1.0" filter="url(#bl)"/>
<ellipse cx="328.90" cy="94.15" rx="0.75" ry="0.86" fill="#e8e4ff" opacity="0.85" filter="url(#bl)"/>
<ellipse cx="327.26" cy="95.25" rx="0.80" ry="0.86" fill="#e8e4ff" opacity="0.85" filter="url(#bl)"/>
<ellipse cx="327.90" cy="112.40" rx="7.17" ry="3.63" fill="#7c70f0" opacity="0.4" filter="url(#bl)"/>
<ellipse cx="326.62" cy="112.56" rx="3.06" ry="2.06" fill="#2a1ae6" opacity="1.0" filter="url(#bl)"/>
<ellipse cx="329.67" cy="112.44" rx="4.03" ry="1.54" fill="#2a1ae6" opacity="1.0" filter="url(#bl)"/>
<ellipse cx="325.85" cy="112.03" rx="2.93" ry="1.74" fill="#2a1ae6" opacity="1.0" filter="url(#bl)"/>
<ellipse cx="327.44" cy="111.61" rx="3.81" ry="1.59" fill="#2a1ae6" opacity="1.0" filter="url(#bl)"/>
<ellipse cx="327.93" cy="112.60" rx="3.53" ry="2.09" fill="#2a1ae6" opacity="1.0" filter="url(#bl)"/>
<ellipse cx="325.60" cy="111.64" rx="3.37" ry="1.98" fill="#2a1ae6" opacity="1.0" filter="url(#bl)"/>
<ellipse cx="328.65" cy="112.69" rx="0.87" ry="0.89" fill="#e8e4ff" opacity="0.85" filter="url(#bl)"/>
</svg>
<rect x="268.4" y="80.80000000000001" width="69.2" height="44.599999999999994" fill="none" stroke="#2c2c2c" stroke-width="0.8"/>
<rect x="338" y="80.4" width="2" height="45.39999999999999" fill="#bdbdbd"/>
<text x="374.60" y="29.40" font-size="8.2" text-anchor="middle" font-weight="normal" fill="#2a2a2a" textLength="54.2" lengthAdjust="spacingAndGlyphs" style="stroke-width:0.12px">Dexamethasone</text>
<rect x="340" y="31" width="70" height="44.8" fill="#454545"/>
<rect x="340" y="31" width="70" height="44.8" fill="url(#vstripe)" opacity="0.25"/>
<svg x="340" y="31" width="70" height="44.8" viewBox="340 31 70 44.8" overflow="hidden">
<line x1="348.20" y1="64.70" x2="348.50" y2="76.80" stroke="#b8b8b8" stroke-width="1.1"/>
<path d="M344.20,61.70 L341.90,66.20 L342.20,68.70" stroke="#aaa" stroke-width="1.1" fill="none"/>
<path d="M352.20,61.70 L354.50,66.20 L354.20,68.70" stroke="#aaa" stroke-width="1.1" fill="none"/>
<path d="M348.20,32.70 C348.47,32.70 348.77,34.03 349.00,34.70 C349.23,35.37 349.42,36.03 349.60,36.70 C349.78,37.37 349.90,38.12 350.10,38.70 C350.30,39.28 350.52,39.70 350.80,40.20 C351.08,40.70 351.52,41.12 351.80,41.70 C352.08,42.28 352.30,42.87 352.50,43.70 C352.70,44.53 352.88,45.53 353.00,46.70 C353.12,47.87 353.17,49.37 353.20,50.70 C353.23,52.03 353.25,53.37 353.20,54.70 C353.15,56.03 353.05,57.53 352.90,58.70 C352.75,59.87 352.58,60.78 352.30,61.70 C352.02,62.62 351.63,63.57 351.20,64.20 C350.77,64.83 350.20,65.22 349.70,65.50 C349.20,65.78 348.70,65.90 348.20,65.90 C347.70,65.90 347.20,65.78 346.70,65.50 C346.20,65.22 345.63,64.83 345.20,64.20 C344.77,63.57 344.38,62.62 344.10,61.70 C343.82,60.78 343.65,59.87 343.50,58.70 C343.35,57.53 343.25,56.03 343.20,54.70 C343.15,53.37 343.17,52.03 343.20,50.70 C343.23,49.37 343.28,47.87 343.40,46.70 C343.52,45.53 343.70,44.53 343.90,43.70 C344.10,42.87 344.32,42.28 344.60,41.70 C344.88,41.12 345.32,40.70 345.60,40.20 C345.88,39.70 346.10,39.28 346.30,38.70 C346.50,38.12 346.62,37.37 346.80,36.70 C346.98,36.03 347.17,35.37 347.40,34.70 C347.63,34.03 347.93,32.70 348.20,32.70 Z" fill="url(#mg)" filter="url(#mtex)"/>
<line x1="361.90" y1="64.70" x2="362.20" y2="76.80" stroke="#b8b8b8" stroke-width="1.1"/>
<path d="M357.90,61.70 L355.60,66.20 L355.90,68.70" stroke="#aaa" stroke-width="1.1" fill="none"/>
<path d="M365.90,61.70 L368.20,66.20 L367.90,68.70" stroke="#aaa" stroke-width="1.1" fill="none"/>
<path d="M361.90,32.70 C362.17,32.70 362.47,34.03 362.70,34.70 C362.93,35.37 363.12,36.03 363.30,36.70 C363.48,37.37 363.60,38.12 363.80,38.70 C364.00,39.28 364.22,39.70 364.50,40.20 C364.78,40.70 365.22,41.12 365.50,41.70 C365.78,42.28 366.00,42.87 366.20,43.70 C366.40,44.53 366.58,45.53 366.70,46.70 C366.82,47.87 366.87,49.37 366.90,50.70 C366.93,52.03 366.95,53.37 366.90,54.70 C366.85,56.03 366.75,57.53 366.60,58.70 C366.45,59.87 366.28,60.78 366.00,61.70 C365.72,62.62 365.33,63.57 364.90,64.20 C364.47,64.83 363.90,65.22 363.40,65.50 C362.90,65.78 362.40,65.90 361.90,65.90 C361.40,65.90 360.90,65.78 360.40,65.50 C359.90,65.22 359.33,64.83 358.90,64.20 C358.47,63.57 358.08,62.62 357.80,61.70 C357.52,60.78 357.35,59.87 357.20,58.70 C357.05,57.53 356.95,56.03 356.90,54.70 C356.85,53.37 356.87,52.03 356.90,50.70 C356.93,49.37 356.98,47.87 357.10,46.70 C357.22,45.53 357.40,44.53 357.60,43.70 C357.80,42.87 358.02,42.28 358.30,41.70 C358.58,41.12 359.02,40.70 359.30,40.20 C359.58,39.70 359.80,39.28 360.00,38.70 C360.20,38.12 360.32,37.37 360.50,36.70 C360.68,36.03 360.87,35.37 361.10,34.70 C361.33,34.03 361.63,32.70 361.90,32.70 Z" fill="url(#mg)" filter="url(#mtex)"/>
<ellipse cx="362.50" cy="43.20" rx="5.20" ry="5.50" fill="#7c70f0" opacity="0.6" filter="url(#bl)"/>
<ellipse cx="362.50" cy="43.00" rx="4.00" ry="4.50" fill="#2a1ae6" opacity="1.0" filter="url(#bl)"/>
<ellipse cx="363.70" cy="43.70" rx="1.20" ry="1.50" fill="#7c70f0" opacity="0.8" filter="url(#bl)"/>
<ellipse cx="357.00" cy="57.30" rx="1.50" ry="1.50" fill="#2a1ae6" opacity="1.0" filter="url(#bl)"/>
<ellipse cx="366.60" cy="59.00" rx="1.60" ry="1.60" fill="#2a1ae6" opacity="1.0" filter="url(#bl)"/>
<line x1="375.20" y1="64.70" x2="375.50" y2="76.80" stroke="#b8b8b8" stroke-width="1.1"/>
<path d="M371.20,61.70 L368.90,66.20 L369.20,68.70" stroke="#aaa" stroke-width="1.1" fill="none"/>
<path d="M379.20,61.70 L381.50,66.20 L381.20,68.70" stroke="#aaa" stroke-width="1.1" fill="none"/>
<path d="M375.20,32.70 C375.47,32.70 375.77,34.03 376.00,34.70 C376.23,35.37 376.42,36.03 376.60,36.70 C376.78,37.37 376.90,38.12 377.10,38.70 C377.30,39.28 377.52,39.70 377.80,40.20 C378.08,40.70 378.52,41.12 378.80,41.70 C379.08,42.28 379.30,42.87 379.50,43.70 C379.70,44.53 379.88,45.53 380.00,46.70 C380.12,47.87 380.17,49.37 380.20,50.70 C380.23,52.03 380.25,53.37 380.20,54.70 C380.15,56.03 380.05,57.53 379.90,58.70 C379.75,59.87 379.58,60.78 379.30,61.70 C379.02,62.62 378.63,63.57 378.20,64.20 C377.77,64.83 377.20,65.22 376.70,65.50 C376.20,65.78 375.70,65.90 375.20,65.90 C374.70,65.90 374.20,65.78 373.70,65.50 C373.20,65.22 372.63,64.83 372.20,64.20 C371.77,63.57 371.38,62.62 371.10,61.70 C370.82,60.78 370.65,59.87 370.50,58.70 C370.35,57.53 370.25,56.03 370.20,54.70 C370.15,53.37 370.17,52.03 370.20,50.70 C370.23,49.37 370.28,47.87 370.40,46.70 C370.52,45.53 370.70,44.53 370.90,43.70 C371.10,42.87 371.32,42.28 371.60,41.70 C371.88,41.12 372.32,40.70 372.60,40.20 C372.88,39.70 373.10,39.28 373.30,38.70 C373.50,38.12 373.62,37.37 373.80,36.70 C373.98,36.03 374.17,35.37 374.40,34.70 C374.63,34.03 374.93,32.70 375.20,32.70 Z" fill="url(#mg)" filter="url(#mtex)"/>
<ellipse cx="372.00" cy="59.40" rx="1.00" ry="1.00" fill="#2a1ae6" opacity="0.7" filter="url(#bl)"/>
<line x1="388.50" y1="64.70" x2="388.80" y2="76.80" stroke="#b8b8b8" stroke-width="1.1"/>
<path d="M384.50,61.70 L382.20,66.20 L382.50,68.70" stroke="#aaa" stroke-width="1.1" fill="none"/>
<path d="M392.50,61.70 L394.80,66.20 L394.50,68.70" stroke="#aaa" stroke-width="1.1" fill="none"/>
<path d="M388.50,32.70 C388.77,32.70 389.07,34.03 389.30,34.70 C389.53,35.37 389.72,36.03 389.90,36.70 C390.08,37.37 390.20,38.12 390.40,38.70 C390.60,39.28 390.82,39.70 391.10,40.20 C391.38,40.70 391.82,41.12 392.10,41.70 C392.38,42.28 392.60,42.87 392.80,43.70 C393.00,44.53 393.18,45.53 393.30,46.70 C393.42,47.87 393.47,49.37 393.50,50.70 C393.53,52.03 393.55,53.37 393.50,54.70 C393.45,56.03 393.35,57.53 393.20,58.70 C393.05,59.87 392.88,60.78 392.60,61.70 C392.32,62.62 391.93,63.57 391.50,64.20 C391.07,64.83 390.50,65.22 390.00,65.50 C389.50,65.78 389.00,65.90 388.50,65.90 C388.00,65.90 387.50,65.78 387.00,65.50 C386.50,65.22 385.93,64.83 385.50,64.20 C385.07,63.57 384.68,62.62 384.40,61.70 C384.12,60.78 383.95,59.87 383.80,58.70 C383.65,57.53 383.55,56.03 383.50,54.70 C383.45,53.37 383.47,52.03 383.50,50.70 C383.53,49.37 383.58,47.87 383.70,46.70 C383.82,45.53 384.00,44.53 384.20,43.70 C384.40,42.87 384.62,42.28 384.90,41.70 C385.18,41.12 385.62,40.70 385.90,40.20 C386.18,39.70 386.40,39.28 386.60,38.70 C386.80,38.12 386.92,37.37 387.10,36.70 C387.28,36.03 387.47,35.37 387.70,34.70 C387.93,34.03 388.23,32.70 388.50,32.70 Z" fill="url(#mg)" filter="url(#mtex)"/>
<ellipse cx="384.40" cy="54.60" rx="2.56" ry="3.00" fill="#7c70f0" opacity="0.45" filter="url(#bl)"/>
<ellipse cx="384.40" cy="54.60" rx="1.60" ry="2.00" fill="#2a1ae6" opacity="1.0" filter="url(#bl)"/>
<ellipse cx="392.00" cy="46.40" rx="1.00" ry="1.00" fill="#2a1ae6" opacity="0.8" filter="url(#bl)"/>
<ellipse cx="394.00" cy="58.70" rx="1.20" ry="1.20" fill="#2a1ae6" opacity="0.8" filter="url(#bl)"/>
</svg>
<rect x="340.4" y="31.4" width="69.2" height="44.0" fill="none" stroke="#2c2c2c" stroke-width="0.8"/>
<rect x="410" y="31" width="2" height="44.8" fill="#bdbdbd"/>
<rect x="340" y="80.4" width="70" height="45.39999999999999" fill="#454545"/>
<rect x="340" y="80.4" width="70" height="45.39999999999999" fill="url(#vstripe)" opacity="0.25"/>
<svg x="340" y="80.4" width="70" height="45.39999999999999" viewBox="340 80.4 70 45.39999999999999" overflow="hidden">
<line x1="348.90" y1="114.70" x2="349.20" y2="126.80" stroke="#b8b8b8" stroke-width="1.1"/>
<path d="M344.90,111.70 L342.60,116.20 L342.90,118.70" stroke="#aaa" stroke-width="1.1" fill="none"/>
<path d="M352.90,111.70 L355.20,116.20 L354.90,118.70" stroke="#aaa" stroke-width="1.1" fill="none"/>
<path d="M348.90,82.70 C349.17,82.70 349.47,84.03 349.70,84.70 C349.93,85.37 350.12,86.03 350.30,86.70 C350.48,87.37 350.60,88.12 350.80,88.70 C351.00,89.28 351.22,89.70 351.50,90.20 C351.78,90.70 352.22,91.12 352.50,91.70 C352.78,92.28 353.00,92.87 353.20,93.70 C353.40,94.53 353.58,95.53 353.70,96.70 C353.82,97.87 353.87,99.37 353.90,100.70 C353.93,102.03 353.95,103.37 353.90,104.70 C353.85,106.03 353.75,107.53 353.60,108.70 C353.45,109.87 353.28,110.78 353.00,111.70 C352.72,112.62 352.33,113.57 351.90,114.20 C351.47,114.83 350.90,115.22 350.40,115.50 C349.90,115.78 349.40,115.90 348.90,115.90 C348.40,115.90 347.90,115.78 347.40,115.50 C346.90,115.22 346.33,114.83 345.90,114.20 C345.47,113.57 345.08,112.62 344.80,111.70 C344.52,110.78 344.35,109.87 344.20,108.70 C344.05,107.53 343.95,106.03 343.90,104.70 C343.85,103.37 343.87,102.03 343.90,100.70 C343.93,99.37 343.98,97.87 344.10,96.70 C344.22,95.53 344.40,94.53 344.60,93.70 C344.80,92.87 345.02,92.28 345.30,91.70 C345.58,91.12 346.02,90.70 346.30,90.20 C346.58,89.70 346.80,89.28 347.00,88.70 C347.20,88.12 347.32,87.37 347.50,86.70 C347.68,86.03 347.87,85.37 348.10,84.70 C348.33,84.03 348.63,82.70 348.90,82.70 Z" fill="url(#mg)" filter="url(#mtex)"/>
<ellipse cx="349.60" cy="94.30" rx="1.20" ry="1.20" fill="#2a1ae6" opacity="1.0" filter="url(#bl)"/>
<ellipse cx="346.00" cy="95.70" rx="1.00" ry="1.00" fill="#2a1ae6" opacity="0.7" filter="url(#bl)"/>
<line x1="361.20" y1="114.70" x2="361.50" y2="126.80" stroke="#b8b8b8" stroke-width="1.1"/>
<path d="M357.20,111.70 L354.90,116.20 L355.20,118.70" stroke="#aaa" stroke-width="1.1" fill="none"/>
<path d="M365.20,111.70 L367.50,116.20 L367.20,118.70" stroke="#aaa" stroke-width="1.1" fill="none"/>
<path d="M361.20,82.70 C361.47,82.70 361.77,84.03 362.00,84.70 C362.23,85.37 362.42,86.03 362.60,86.70 C362.78,87.37 362.90,88.12 363.10,88.70 C363.30,89.28 363.52,89.70 363.80,90.20 C364.08,90.70 364.52,91.12 364.80,91.70 C365.08,92.28 365.30,92.87 365.50,93.70 C365.70,94.53 365.88,95.53 366.00,96.70 C366.12,97.87 366.17,99.37 366.20,100.70 C366.23,102.03 366.25,103.37 366.20,104.70 C366.15,106.03 366.05,107.53 365.90,108.70 C365.75,109.87 365.58,110.78 365.30,111.70 C365.02,112.62 364.63,113.57 364.20,114.20 C363.77,114.83 363.20,115.22 362.70,115.50 C362.20,115.78 361.70,115.90 361.20,115.90 C360.70,115.90 360.20,115.78 359.70,115.50 C359.20,115.22 358.63,114.83 358.20,114.20 C357.77,113.57 357.38,112.62 357.10,111.70 C356.82,110.78 356.65,109.87 356.50,108.70 C356.35,107.53 356.25,106.03 356.20,104.70 C356.15,103.37 356.17,102.03 356.20,100.70 C356.23,99.37 356.28,97.87 356.40,96.70 C356.52,95.53 356.70,94.53 356.90,93.70 C357.10,92.87 357.32,92.28 357.60,91.70 C357.88,91.12 358.32,90.70 358.60,90.20 C358.88,89.70 359.10,89.28 359.30,88.70 C359.50,88.12 359.62,87.37 359.80,86.70 C359.98,86.03 360.17,85.37 360.40,84.70 C360.63,84.03 360.93,82.70 361.20,82.70 Z" fill="url(#mg)" filter="url(#mtex)"/>
<ellipse cx="360.20" cy="97.00" rx="3.20" ry="3.75" fill="#7c70f0" opacity="0.45" filter="url(#bl)"/>
<ellipse cx="360.20" cy="97.00" rx="2.00" ry="2.50" fill="#2a1ae6" opacity="1.0" filter="url(#bl)"/>
<line x1="373.50" y1="114.70" x2="373.80" y2="126.80" stroke="#b8b8b8" stroke-width="1.1"/>
<path d="M369.50,111.70 L367.20,116.20 L367.50,118.70" stroke="#aaa" stroke-width="1.1" fill="none"/>
<path d="M377.50,111.70 L379.80,116.20 L379.50,118.70" stroke="#aaa" stroke-width="1.1" fill="none"/>
<path d="M373.50,82.70 C373.77,82.70 374.07,84.03 374.30,84.70 C374.53,85.37 374.72,86.03 374.90,86.70 C375.08,87.37 375.20,88.12 375.40,88.70 C375.60,89.28 375.82,89.70 376.10,90.20 C376.38,90.70 376.82,91.12 377.10,91.70 C377.38,92.28 377.60,92.87 377.80,93.70 C378.00,94.53 378.18,95.53 378.30,96.70 C378.42,97.87 378.47,99.37 378.50,100.70 C378.53,102.03 378.55,103.37 378.50,104.70 C378.45,106.03 378.35,107.53 378.20,108.70 C378.05,109.87 377.88,110.78 377.60,111.70 C377.32,112.62 376.93,113.57 376.50,114.20 C376.07,114.83 375.50,115.22 375.00,115.50 C374.50,115.78 374.00,115.90 373.50,115.90 C373.00,115.90 372.50,115.78 372.00,115.50 C371.50,115.22 370.93,114.83 370.50,114.20 C370.07,113.57 369.68,112.62 369.40,111.70 C369.12,110.78 368.95,109.87 368.80,108.70 C368.65,107.53 368.55,106.03 368.50,104.70 C368.45,103.37 368.47,102.03 368.50,100.70 C368.53,99.37 368.58,97.87 368.70,96.70 C368.82,95.53 369.00,94.53 369.20,93.70 C369.40,92.87 369.62,92.28 369.90,91.70 C370.18,91.12 370.62,90.70 370.90,90.20 C371.18,89.70 371.40,89.28 371.60,88.70 C371.80,88.12 371.92,87.37 372.10,86.70 C372.28,86.03 372.47,85.37 372.70,84.70 C372.93,84.03 373.23,82.70 373.50,82.70 Z" fill="url(#mg)" filter="url(#mtex)"/>
<ellipse cx="373.00" cy="96.40" rx="2.88" ry="3.75" fill="#7c70f0" opacity="0.45" filter="url(#bl)"/>
<ellipse cx="373.00" cy="96.40" rx="1.80" ry="2.50" fill="#2a1ae6" opacity="1.0" filter="url(#bl)"/>
<ellipse cx="378.50" cy="106.60" rx="3.20" ry="3.00" fill="#7c70f0" opacity="0.45" filter="url(#bl)"/>
<ellipse cx="378.50" cy="106.60" rx="2.00" ry="2.00" fill="#2a1ae6" opacity="1.0" filter="url(#bl)"/>
<ellipse cx="370.50" cy="107.20" rx="1.00" ry="1.00" fill="#2a1ae6" opacity="0.6" filter="url(#bl)"/>
<line x1="387.50" y1="114.70" x2="387.80" y2="126.80" stroke="#b8b8b8" stroke-width="1.1"/>
<path d="M383.50,111.70 L381.20,116.20 L381.50,118.70" stroke="#aaa" stroke-width="1.1" fill="none"/>
<path d="M391.50,111.70 L393.80,116.20 L393.50,118.70" stroke="#aaa" stroke-width="1.1" fill="none"/>
<path d="M387.50,82.70 C387.77,82.70 388.07,84.03 388.30,84.70 C388.53,85.37 388.72,86.03 388.90,86.70 C389.08,87.37 389.20,88.12 389.40,88.70 C389.60,89.28 389.82,89.70 390.10,90.20 C390.38,90.70 390.82,91.12 391.10,91.70 C391.38,92.28 391.60,92.87 391.80,93.70 C392.00,94.53 392.18,95.53 392.30,96.70 C392.42,97.87 392.47,99.37 392.50,100.70 C392.53,102.03 392.55,103.37 392.50,104.70 C392.45,106.03 392.35,107.53 392.20,108.70 C392.05,109.87 391.88,110.78 391.60,111.70 C391.32,112.62 390.93,113.57 390.50,114.20 C390.07,114.83 389.50,115.22 389.00,115.50 C388.50,115.78 388.00,115.90 387.50,115.90 C387.00,115.90 386.50,115.78 386.00,115.50 C385.50,115.22 384.93,114.83 384.50,114.20 C384.07,113.57 383.68,112.62 383.40,111.70 C383.12,110.78 382.95,109.87 382.80,108.70 C382.65,107.53 382.55,106.03 382.50,104.70 C382.45,103.37 382.47,102.03 382.50,100.70 C382.53,99.37 382.58,97.87 382.70,96.70 C382.82,95.53 383.00,94.53 383.20,93.70 C383.40,92.87 383.62,92.28 383.90,91.70 C384.18,91.12 384.62,90.70 384.90,90.20 C385.18,89.70 385.40,89.28 385.60,88.70 C385.80,88.12 385.92,87.37 386.10,86.70 C386.28,86.03 386.47,85.37 386.70,84.70 C386.93,84.03 387.23,82.70 387.50,82.70 Z" fill="url(#mg)" filter="url(#mtex)"/>
<ellipse cx="387.00" cy="94.30" rx="1.20" ry="1.20" fill="#2a1ae6" opacity="0.8" filter="url(#bl)"/>
</svg>
<rect x="340.4" y="80.80000000000001" width="69.2" height="44.599999999999994" fill="none" stroke="#2c2c2c" stroke-width="0.8"/>
<rect x="410" y="80.4" width="2" height="45.39999999999999" fill="#bdbdbd"/>
<text x="446.20" y="29.40" font-size="8.2" text-anchor="middle" font-weight="normal" fill="#2a2a2a" textLength="39" lengthAdjust="spacingAndGlyphs" style="stroke-width:0.12px">Dex + Ruxo</text>
<rect x="412" y="31" width="70" height="44.8" fill="#454545"/>
<rect x="412" y="31" width="70" height="44.8" fill="url(#vstripe)" opacity="0.25"/>
<svg x="412" y="31" width="70" height="44.8" viewBox="412 31 70 44.8" overflow="hidden">
<line x1="420.30" y1="64.70" x2="420.60" y2="76.80" stroke="#b8b8b8" stroke-width="1.1"/>
<path d="M416.30,61.70 L414.00,66.20 L414.30,68.70" stroke="#aaa" stroke-width="1.1" fill="none"/>
<path d="M424.30,61.70 L426.60,66.20 L426.30,68.70" stroke="#aaa" stroke-width="1.1" fill="none"/>
<path d="M420.30,32.70 C420.57,32.70 420.87,34.03 421.10,34.70 C421.33,35.37 421.52,36.03 421.70,36.70 C421.88,37.37 422.00,38.12 422.20,38.70 C422.40,39.28 422.62,39.70 422.90,40.20 C423.18,40.70 423.62,41.12 423.90,41.70 C424.18,42.28 424.40,42.87 424.60,43.70 C424.80,44.53 424.98,45.53 425.10,46.70 C425.22,47.87 425.27,49.37 425.30,50.70 C425.33,52.03 425.35,53.37 425.30,54.70 C425.25,56.03 425.15,57.53 425.00,58.70 C424.85,59.87 424.68,60.78 424.40,61.70 C424.12,62.62 423.73,63.57 423.30,64.20 C422.87,64.83 422.30,65.22 421.80,65.50 C421.30,65.78 420.80,65.90 420.30,65.90 C419.80,65.90 419.30,65.78 418.80,65.50 C418.30,65.22 417.73,64.83 417.30,64.20 C416.87,63.57 416.48,62.62 416.20,61.70 C415.92,60.78 415.75,59.87 415.60,58.70 C415.45,57.53 415.35,56.03 415.30,54.70 C415.25,53.37 415.27,52.03 415.30,50.70 C415.33,49.37 415.38,47.87 415.50,46.70 C415.62,45.53 415.80,44.53 416.00,43.70 C416.20,42.87 416.42,42.28 416.70,41.70 C416.98,41.12 417.42,40.70 417.70,40.20 C417.98,39.70 418.20,39.28 418.40,38.70 C418.60,38.12 418.72,37.37 418.90,36.70 C419.08,36.03 419.27,35.37 419.50,34.70 C419.73,34.03 420.03,32.70 420.30,32.70 Z" fill="url(#mg)" filter="url(#mtex)"/>
<ellipse cx="421.90" cy="47.80" rx="1.00" ry="1.00" fill="#2a1ae6" opacity="0.7" filter="url(#bl)"/>
<line x1="433.50" y1="64.70" x2="433.80" y2="76.80" stroke="#b8b8b8" stroke-width="1.1"/>
<path d="M429.50,61.70 L427.20,66.20 L427.50,68.70" stroke="#aaa" stroke-width="1.1" fill="none"/>
<path d="M437.50,61.70 L439.80,66.20 L439.50,68.70" stroke="#aaa" stroke-width="1.1" fill="none"/>
<path d="M433.50,32.70 C433.77,32.70 434.07,34.03 434.30,34.70 C434.53,35.37 434.72,36.03 434.90,36.70 C435.08,37.37 435.20,38.12 435.40,38.70 C435.60,39.28 435.82,39.70 436.10,40.20 C436.38,40.70 436.82,41.12 437.10,41.70 C437.38,42.28 437.60,42.87 437.80,43.70 C438.00,44.53 438.18,45.53 438.30,46.70 C438.42,47.87 438.47,49.37 438.50,50.70 C438.53,52.03 438.55,53.37 438.50,54.70 C438.45,56.03 438.35,57.53 438.20,58.70 C438.05,59.87 437.88,60.78 437.60,61.70 C437.32,62.62 436.93,63.57 436.50,64.20 C436.07,64.83 435.50,65.22 435.00,65.50 C434.50,65.78 434.00,65.90 433.50,65.90 C433.00,65.90 432.50,65.78 432.00,65.50 C431.50,65.22 430.93,64.83 430.50,64.20 C430.07,63.57 429.68,62.62 429.40,61.70 C429.12,60.78 428.95,59.87 428.80,58.70 C428.65,57.53 428.55,56.03 428.50,54.70 C428.45,53.37 428.47,52.03 428.50,50.70 C428.53,49.37 428.58,47.87 428.70,46.70 C428.82,45.53 429.00,44.53 429.20,43.70 C429.40,42.87 429.62,42.28 429.90,41.70 C430.18,41.12 430.62,40.70 430.90,40.20 C431.18,39.70 431.40,39.28 431.60,38.70 C431.80,38.12 431.92,37.37 432.10,36.70 C432.28,36.03 432.47,35.37 432.70,34.70 C432.93,34.03 433.23,32.70 433.50,32.70 Z" fill="url(#mg)" filter="url(#mtex)"/>
<line x1="446.80" y1="64.70" x2="447.10" y2="76.80" stroke="#b8b8b8" stroke-width="1.1"/>
<path d="M442.80,61.70 L440.50,66.20 L440.80,68.70" stroke="#aaa" stroke-width="1.1" fill="none"/>
<path d="M450.80,61.70 L453.10,66.20 L452.80,68.70" stroke="#aaa" stroke-width="1.1" fill="none"/>
<path d="M446.80,32.70 C447.07,32.70 447.37,34.03 447.60,34.70 C447.83,35.37 448.02,36.03 448.20,36.70 C448.38,37.37 448.50,38.12 448.70,38.70 C448.90,39.28 449.12,39.70 449.40,40.20 C449.68,40.70 450.12,41.12 450.40,41.70 C450.68,42.28 450.90,42.87 451.10,43.70 C451.30,44.53 451.48,45.53 451.60,46.70 C451.72,47.87 451.77,49.37 451.80,50.70 C451.83,52.03 451.85,53.37 451.80,54.70 C451.75,56.03 451.65,57.53 451.50,58.70 C451.35,59.87 451.18,60.78 450.90,61.70 C450.62,62.62 450.23,63.57 449.80,64.20 C449.37,64.83 448.80,65.22 448.30,65.50 C447.80,65.78 447.30,65.90 446.80,65.90 C446.30,65.90 445.80,65.78 445.30,65.50 C444.80,65.22 444.23,64.83 443.80,64.20 C443.37,63.57 442.98,62.62 442.70,61.70 C442.42,60.78 442.25,59.87 442.10,58.70 C441.95,57.53 441.85,56.03 441.80,54.70 C441.75,53.37 441.77,52.03 441.80,50.70 C441.83,49.37 441.88,47.87 442.00,46.70 C442.12,45.53 442.30,44.53 442.50,43.70 C442.70,42.87 442.92,42.28 443.20,41.70 C443.48,41.12 443.92,40.70 444.20,40.20 C444.48,39.70 444.70,39.28 444.90,38.70 C445.10,38.12 445.22,37.37 445.40,36.70 C445.58,36.03 445.77,35.37 446.00,34.70 C446.23,34.03 446.53,32.70 446.80,32.70 Z" fill="url(#mg)" filter="url(#mtex)"/>
<ellipse cx="446.50" cy="45.30" rx="2.40" ry="3.00" fill="#7c70f0" opacity="0.45" filter="url(#bl)"/>
<ellipse cx="446.50" cy="45.30" rx="1.50" ry="2.00" fill="#2a1ae6" opacity="1.0" filter="url(#bl)"/>
<line x1="459.90" y1="64.70" x2="460.20" y2="76.80" stroke="#b8b8b8" stroke-width="1.1"/>
<path d="M455.90,61.70 L453.60,66.20 L453.90,68.70" stroke="#aaa" stroke-width="1.1" fill="none"/>
<path d="M463.90,61.70 L466.20,66.20 L465.90,68.70" stroke="#aaa" stroke-width="1.1" fill="none"/>
<path d="M459.90,32.70 C460.17,32.70 460.47,34.03 460.70,34.70 C460.93,35.37 461.12,36.03 461.30,36.70 C461.48,37.37 461.60,38.12 461.80,38.70 C462.00,39.28 462.22,39.70 462.50,40.20 C462.78,40.70 463.22,41.12 463.50,41.70 C463.78,42.28 464.00,42.87 464.20,43.70 C464.40,44.53 464.58,45.53 464.70,46.70 C464.82,47.87 464.87,49.37 464.90,50.70 C464.93,52.03 464.95,53.37 464.90,54.70 C464.85,56.03 464.75,57.53 464.60,58.70 C464.45,59.87 464.28,60.78 464.00,61.70 C463.72,62.62 463.33,63.57 462.90,64.20 C462.47,64.83 461.90,65.22 461.40,65.50 C460.90,65.78 460.40,65.90 459.90,65.90 C459.40,65.90 458.90,65.78 458.40,65.50 C457.90,65.22 457.33,64.83 456.90,64.20 C456.47,63.57 456.08,62.62 455.80,61.70 C455.52,60.78 455.35,59.87 455.20,58.70 C455.05,57.53 454.95,56.03 454.90,54.70 C454.85,53.37 454.87,52.03 454.90,50.70 C454.93,49.37 454.98,47.87 455.10,46.70 C455.22,45.53 455.40,44.53 455.60,43.70 C455.80,42.87 456.02,42.28 456.30,41.70 C456.58,41.12 457.02,40.70 457.30,40.20 C457.58,39.70 457.80,39.28 458.00,38.70 C458.20,38.12 458.32,37.37 458.50,36.70 C458.68,36.03 458.87,35.37 459.10,34.70 C459.33,34.03 459.63,32.70 459.90,32.70 Z" fill="url(#mg)" filter="url(#mtex)"/>
<ellipse cx="461.80" cy="45.00" rx="1.60" ry="1.95" fill="#7c70f0" opacity="0.45" filter="url(#bl)"/>
<ellipse cx="461.80" cy="45.00" rx="1.00" ry="1.30" fill="#2a1ae6" opacity="1.0" filter="url(#bl)"/>
<ellipse cx="456.00" cy="57.30" rx="3.52" ry="3.00" fill="#7c70f0" opacity="0.45" filter="url(#bl)"/>
<ellipse cx="456.00" cy="57.30" rx="2.20" ry="2.00" fill="#2a1ae6" opacity="1.0" filter="url(#bl)"/>
<ellipse cx="465.00" cy="56.60" rx="2.72" ry="2.55" fill="#7c70f0" opacity="0.45" filter="url(#bl)"/>
<ellipse cx="465.00" cy="56.60" rx="1.70" ry="1.70" fill="#2a1ae6" opacity="1.0" filter="url(#bl)"/>
<line x1="473.20" y1="64.70" x2="473.50" y2="76.80" stroke="#b8b8b8" stroke-width="1.1"/>
<path d="M469.20,61.70 L466.90,66.20 L467.20,68.70" stroke="#aaa" stroke-width="1.1" fill="none"/>
<path d="M477.20,61.70 L479.50,66.20 L479.20,68.70" stroke="#aaa" stroke-width="1.1" fill="none"/>
<path d="M473.20,32.70 C473.47,32.70 473.77,34.03 474.00,34.70 C474.23,35.37 474.42,36.03 474.60,36.70 C474.78,37.37 474.90,38.12 475.10,38.70 C475.30,39.28 475.52,39.70 475.80,40.20 C476.08,40.70 476.52,41.12 476.80,41.70 C477.08,42.28 477.30,42.87 477.50,43.70 C477.70,44.53 477.88,45.53 478.00,46.70 C478.12,47.87 478.17,49.37 478.20,50.70 C478.23,52.03 478.25,53.37 478.20,54.70 C478.15,56.03 478.05,57.53 477.90,58.70 C477.75,59.87 477.58,60.78 477.30,61.70 C477.02,62.62 476.63,63.57 476.20,64.20 C475.77,64.83 475.20,65.22 474.70,65.50 C474.20,65.78 473.70,65.90 473.20,65.90 C472.70,65.90 472.20,65.78 471.70,65.50 C471.20,65.22 470.63,64.83 470.20,64.20 C469.77,63.57 469.38,62.62 469.10,61.70 C468.82,60.78 468.65,59.87 468.50,58.70 C468.35,57.53 468.25,56.03 468.20,54.70 C468.15,53.37 468.17,52.03 468.20,50.70 C468.23,49.37 468.28,47.87 468.40,46.70 C468.52,45.53 468.70,44.53 468.90,43.70 C469.10,42.87 469.32,42.28 469.60,41.70 C469.88,41.12 470.32,40.70 470.60,40.20 C470.88,39.70 471.10,39.28 471.30,38.70 C471.50,38.12 471.62,37.37 471.80,36.70 C471.98,36.03 472.17,35.37 472.40,34.70 C472.63,34.03 472.93,32.70 473.20,32.70 Z" fill="url(#mg)" filter="url(#mtex)"/>
<ellipse cx="469.70" cy="43.70" rx="1.60" ry="1.50" fill="#7c70f0" opacity="0.45" filter="url(#bl)"/>
<ellipse cx="469.70" cy="43.70" rx="1.00" ry="1.00" fill="#2a1ae6" opacity="1.0" filter="url(#bl)"/>
<ellipse cx="473.20" cy="48.40" rx="2.88" ry="3.60" fill="#7c70f0" opacity="0.45" filter="url(#bl)"/>
<ellipse cx="473.20" cy="48.40" rx="1.80" ry="2.40" fill="#2a1ae6" opacity="1.0" filter="url(#bl)"/>
<ellipse cx="478.00" cy="59.40" rx="3.84" ry="3.60" fill="#7c70f0" opacity="0.45" filter="url(#bl)"/>
<ellipse cx="478.00" cy="59.40" rx="2.40" ry="2.40" fill="#2a1ae6" opacity="1.0" filter="url(#bl)"/>
</svg>
<rect x="412.4" y="31.4" width="69.2" height="44.0" fill="none" stroke="#2c2c2c" stroke-width="0.8"/>
<rect x="412" y="80.4" width="70" height="45.39999999999999" fill="#454545"/>
<rect x="412" y="80.4" width="70" height="45.39999999999999" fill="url(#vstripe)" opacity="0.25"/>
<svg x="412" y="80.4" width="70" height="45.39999999999999" viewBox="412 80.4 70 45.39999999999999" overflow="hidden">
<line x1="420.10" y1="115.40" x2="420.40" y2="126.80" stroke="#b8b8b8" stroke-width="1.1"/>
<path d="M416.10,112.40 L413.80,116.90 L414.10,119.40" stroke="#aaa" stroke-width="1.1" fill="none"/>
<path d="M424.10,112.40 L426.40,116.90 L426.10,119.40" stroke="#aaa" stroke-width="1.1" fill="none"/>
<path d="M420.10,83.40 C420.37,83.40 420.67,84.73 420.90,85.40 C421.13,86.07 421.32,86.73 421.50,87.40 C421.68,88.07 421.80,88.82 422.00,89.40 C422.20,89.98 422.42,90.40 422.70,90.90 C422.98,91.40 423.42,91.82 423.70,92.40 C423.98,92.98 424.20,93.57 424.40,94.40 C424.60,95.23 424.78,96.23 424.90,97.40 C425.02,98.57 425.07,100.07 425.10,101.40 C425.13,102.73 425.15,104.07 425.10,105.40 C425.05,106.73 424.95,108.23 424.80,109.40 C424.65,110.57 424.48,111.48 424.20,112.40 C423.92,113.32 423.53,114.27 423.10,114.90 C422.67,115.53 422.10,115.92 421.60,116.20 C421.10,116.48 420.60,116.60 420.10,116.60 C419.60,116.60 419.10,116.48 418.60,116.20 C418.10,115.92 417.53,115.53 417.10,114.90 C416.67,114.27 416.28,113.32 416.00,112.40 C415.72,111.48 415.55,110.57 415.40,109.40 C415.25,108.23 415.15,106.73 415.10,105.40 C415.05,104.07 415.07,102.73 415.10,101.40 C415.13,100.07 415.18,98.57 415.30,97.40 C415.42,96.23 415.60,95.23 415.80,94.40 C416.00,93.57 416.22,92.98 416.50,92.40 C416.78,91.82 417.22,91.40 417.50,90.90 C417.78,90.40 418.00,89.98 418.20,89.40 C418.40,88.82 418.52,88.07 418.70,87.40 C418.88,86.73 419.07,86.07 419.30,85.40 C419.53,84.73 419.83,83.40 420.10,83.40 Z" fill="url(#mg)" filter="url(#mtex)"/>
<line x1="432.90" y1="115.40" x2="433.20" y2="126.80" stroke="#b8b8b8" stroke-width="1.1"/>
<path d="M428.90,112.40 L426.60,116.90 L426.90,119.40" stroke="#aaa" stroke-width="1.1" fill="none"/>
<path d="M436.90,112.40 L439.20,116.90 L438.90,119.40" stroke="#aaa" stroke-width="1.1" fill="none"/>
<path d="M432.90,83.40 C433.17,83.40 433.47,84.73 433.70,85.40 C433.93,86.07 434.12,86.73 434.30,87.40 C434.48,88.07 434.60,88.82 434.80,89.40 C435.00,89.98 435.22,90.40 435.50,90.90 C435.78,91.40 436.22,91.82 436.50,92.40 C436.78,92.98 437.00,93.57 437.20,94.40 C437.40,95.23 437.58,96.23 437.70,97.40 C437.82,98.57 437.87,100.07 437.90,101.40 C437.93,102.73 437.95,104.07 437.90,105.40 C437.85,106.73 437.75,108.23 437.60,109.40 C437.45,110.57 437.28,111.48 437.00,112.40 C436.72,113.32 436.33,114.27 435.90,114.90 C435.47,115.53 434.90,115.92 434.40,116.20 C433.90,116.48 433.40,116.60 432.90,116.60 C432.40,116.60 431.90,116.48 431.40,116.20 C430.90,115.92 430.33,115.53 429.90,114.90 C429.47,114.27 429.08,113.32 428.80,112.40 C428.52,111.48 428.35,110.57 428.20,109.40 C428.05,108.23 427.95,106.73 427.90,105.40 C427.85,104.07 427.87,102.73 427.90,101.40 C427.93,100.07 427.98,98.57 428.10,97.40 C428.22,96.23 428.40,95.23 428.60,94.40 C428.80,93.57 429.02,92.98 429.30,92.40 C429.58,91.82 430.02,91.40 430.30,90.90 C430.58,90.40 430.80,89.98 431.00,89.40 C431.20,88.82 431.32,88.07 431.50,87.40 C431.68,86.73 431.87,86.07 432.10,85.40 C432.33,84.73 432.63,83.40 432.90,83.40 Z" fill="url(#mg)" filter="url(#mtex)"/>
<line x1="446.70" y1="115.40" x2="447.00" y2="126.80" stroke="#b8b8b8" stroke-width="1.1"/>
<path d="M442.70,112.40 L440.40,116.90 L440.70,119.40" stroke="#aaa" stroke-width="1.1" fill="none"/>
<path d="M450.70,112.40 L453.00,116.90 L452.70,119.40" stroke="#aaa" stroke-width="1.1" fill="none"/>
<path d="M446.70,83.40 C446.97,83.40 447.27,84.73 447.50,85.40 C447.73,86.07 447.92,86.73 448.10,87.40 C448.28,88.07 448.40,88.82 448.60,89.40 C448.80,89.98 449.02,90.40 449.30,90.90 C449.58,91.40 450.02,91.82 450.30,92.40 C450.58,92.98 450.80,93.57 451.00,94.40 C451.20,95.23 451.38,96.23 451.50,97.40 C451.62,98.57 451.67,100.07 451.70,101.40 C451.73,102.73 451.75,104.07 451.70,105.40 C451.65,106.73 451.55,108.23 451.40,109.40 C451.25,110.57 451.08,111.48 450.80,112.40 C450.52,113.32 450.13,114.27 449.70,114.90 C449.27,115.53 448.70,115.92 448.20,116.20 C447.70,116.48 447.20,116.60 446.70,116.60 C446.20,116.60 445.70,116.48 445.20,116.20 C444.70,115.92 444.13,115.53 443.70,114.90 C443.27,114.27 442.88,113.32 442.60,112.40 C442.32,111.48 442.15,110.57 442.00,109.40 C441.85,108.23 441.75,106.73 441.70,105.40 C441.65,104.07 441.67,102.73 441.70,101.40 C441.73,100.07 441.78,98.57 441.90,97.40 C442.02,96.23 442.20,95.23 442.40,94.40 C442.60,93.57 442.82,92.98 443.10,92.40 C443.38,91.82 443.82,91.40 444.10,90.90 C444.38,90.40 444.60,89.98 444.80,89.40 C445.00,88.82 445.12,88.07 445.30,87.40 C445.48,86.73 445.67,86.07 445.90,85.40 C446.13,84.73 446.43,83.40 446.70,83.40 Z" fill="url(#mg)" filter="url(#mtex)"/>
<line x1="459.40" y1="115.40" x2="459.70" y2="126.80" stroke="#b8b8b8" stroke-width="1.1"/>
<path d="M455.40,112.40 L453.10,116.90 L453.40,119.40" stroke="#aaa" stroke-width="1.1" fill="none"/>
<path d="M463.40,112.40 L465.70,116.90 L465.40,119.40" stroke="#aaa" stroke-width="1.1" fill="none"/>
<path d="M459.40,83.40 C459.67,83.40 459.97,84.73 460.20,85.40 C460.43,86.07 460.62,86.73 460.80,87.40 C460.98,88.07 461.10,88.82 461.30,89.40 C461.50,89.98 461.72,90.40 462.00,90.90 C462.28,91.40 462.72,91.82 463.00,92.40 C463.28,92.98 463.50,93.57 463.70,94.40 C463.90,95.23 464.08,96.23 464.20,97.40 C464.32,98.57 464.37,100.07 464.40,101.40 C464.43,102.73 464.45,104.07 464.40,105.40 C464.35,106.73 464.25,108.23 464.10,109.40 C463.95,110.57 463.78,111.48 463.50,112.40 C463.22,113.32 462.83,114.27 462.40,114.90 C461.97,115.53 461.40,115.92 460.90,116.20 C460.40,116.48 459.90,116.60 459.40,116.60 C458.90,116.60 458.40,116.48 457.90,116.20 C457.40,115.92 456.83,115.53 456.40,114.90 C455.97,114.27 455.58,113.32 455.30,112.40 C455.02,111.48 454.85,110.57 454.70,109.40 C454.55,108.23 454.45,106.73 454.40,105.40 C454.35,104.07 454.37,102.73 454.40,101.40 C454.43,100.07 454.48,98.57 454.60,97.40 C454.72,96.23 454.90,95.23 455.10,94.40 C455.30,93.57 455.52,92.98 455.80,92.40 C456.08,91.82 456.52,91.40 456.80,90.90 C457.08,90.40 457.30,89.98 457.50,89.40 C457.70,88.82 457.82,88.07 458.00,87.40 C458.18,86.73 458.37,86.07 458.60,85.40 C458.83,84.73 459.13,83.40 459.40,83.40 Z" fill="url(#mg)" filter="url(#mtex)"/>
<line x1="473.20" y1="115.40" x2="473.50" y2="126.80" stroke="#b8b8b8" stroke-width="1.1"/>
<path d="M469.20,112.40 L466.90,116.90 L467.20,119.40" stroke="#aaa" stroke-width="1.1" fill="none"/>
<path d="M477.20,112.40 L479.50,116.90 L479.20,119.40" stroke="#aaa" stroke-width="1.1" fill="none"/>
<path d="M473.20,83.40 C473.47,83.40 473.77,84.73 474.00,85.40 C474.23,86.07 474.42,86.73 474.60,87.40 C474.78,88.07 474.90,88.82 475.10,89.40 C475.30,89.98 475.52,90.40 475.80,90.90 C476.08,91.40 476.52,91.82 476.80,92.40 C477.08,92.98 477.30,93.57 477.50,94.40 C477.70,95.23 477.88,96.23 478.00,97.40 C478.12,98.57 478.17,100.07 478.20,101.40 C478.23,102.73 478.25,104.07 478.20,105.40 C478.15,106.73 478.05,108.23 477.90,109.40 C477.75,110.57 477.58,111.48 477.30,112.40 C477.02,113.32 476.63,114.27 476.20,114.90 C475.77,115.53 475.20,115.92 474.70,116.20 C474.20,116.48 473.70,116.60 473.20,116.60 C472.70,116.60 472.20,116.48 471.70,116.20 C471.20,115.92 470.63,115.53 470.20,114.90 C469.77,114.27 469.38,113.32 469.10,112.40 C468.82,111.48 468.65,110.57 468.50,109.40 C468.35,108.23 468.25,106.73 468.20,105.40 C468.15,104.07 468.17,102.73 468.20,101.40 C468.23,100.07 468.28,98.57 468.40,97.40 C468.52,96.23 468.70,95.23 468.90,94.40 C469.10,93.57 469.32,92.98 469.60,92.40 C469.88,91.82 470.32,91.40 470.60,90.90 C470.88,90.40 471.10,89.98 471.30,89.40 C471.50,88.82 471.62,88.07 471.80,87.40 C471.98,86.73 472.17,86.07 472.40,85.40 C472.63,84.73 472.93,83.40 473.20,83.40 Z" fill="url(#mg)" filter="url(#mtex)"/>
</svg>
<rect x="412.4" y="80.80000000000001" width="69.2" height="44.599999999999994" fill="none" stroke="#2c2c2c" stroke-width="0.8"/>
<text x="0" y="0" font-size="8.1" text-anchor="middle" fill="#2a2a2a" textLength="26.6" lengthAdjust="spacingAndGlyphs" style="stroke-width:0.2px" transform="translate(192.00,53.90) rotate(-90)">Week 6</text>
<text x="0" y="0" font-size="8.1" text-anchor="middle" fill="#2a2a2a" textLength="30.9" lengthAdjust="spacingAndGlyphs" style="stroke-width:0.2px" transform="translate(192.00,103.40) rotate(-90)">Week 14</text>
<text x="230.50" y="338.30" font-size="8.2" text-anchor="middle" font-weight="normal" fill="#2a2a2a" textLength="24.4" lengthAdjust="spacingAndGlyphs" style="stroke-width:0.12px">Vehicle</text>
<rect x="195" y="341" width="71" height="45.5" fill="#454545"/>
<rect x="195" y="341" width="71" height="45.5" fill="url(#vstripe)" opacity="0.25"/>
<svg x="195" y="341" width="71" height="45.5" viewBox="195 341 71 45.5" overflow="hidden">
<line x1="203.90" y1="374.30" x2="204.20" y2="387.50" stroke="#b8b8b8" stroke-width="1.1"/>
<path d="M199.90,371.30 L197.60,375.80 L197.90,378.30" stroke="#aaa" stroke-width="1.1" fill="none"/>
<path d="M207.90,371.30 L210.20,375.80 L209.90,378.30" stroke="#aaa" stroke-width="1.1" fill="none"/>
<path d="M203.90,342.30 C204.17,342.30 204.47,343.63 204.70,344.30 C204.93,344.97 205.12,345.63 205.30,346.30 C205.48,346.97 205.60,347.72 205.80,348.30 C206.00,348.88 206.22,349.30 206.50,349.80 C206.78,350.30 207.22,350.72 207.50,351.30 C207.78,351.88 208.00,352.47 208.20,353.30 C208.40,354.13 208.58,355.13 208.70,356.30 C208.82,357.47 208.87,358.97 208.90,360.30 C208.93,361.63 208.95,362.97 208.90,364.30 C208.85,365.63 208.75,367.13 208.60,368.30 C208.45,369.47 208.28,370.38 208.00,371.30 C207.72,372.22 207.33,373.17 206.90,373.80 C206.47,374.43 205.90,374.82 205.40,375.10 C204.90,375.38 204.40,375.50 203.90,375.50 C203.40,375.50 202.90,375.38 202.40,375.10 C201.90,374.82 201.33,374.43 200.90,373.80 C200.47,373.17 200.08,372.22 199.80,371.30 C199.52,370.38 199.35,369.47 199.20,368.30 C199.05,367.13 198.95,365.63 198.90,364.30 C198.85,362.97 198.87,361.63 198.90,360.30 C198.93,358.97 198.98,357.47 199.10,356.30 C199.22,355.13 199.40,354.13 199.60,353.30 C199.80,352.47 200.02,351.88 200.30,351.30 C200.58,350.72 201.02,350.30 201.30,349.80 C201.58,349.30 201.80,348.88 202.00,348.30 C202.20,347.72 202.32,346.97 202.50,346.30 C202.68,345.63 202.87,344.97 203.10,344.30 C203.33,343.63 203.63,342.30 203.90,342.30 Z" fill="url(#mg)" filter="url(#mtex)"/>
<ellipse cx="203.90" cy="356.30" rx="5.00" ry="5.00" fill="#7c70f0" opacity="0.35" filter="url(#bl)"/>
<ellipse cx="203.90" cy="356.30" rx="3.80" ry="1.28" fill="#2a1ae6" opacity="1.0" filter="url(#bl)"/>
<ellipse cx="203.90" cy="356.30" rx="3.80" ry="1.28" fill="#2a1ae6" opacity="1.0" transform="rotate(45 203.90 356.30)" filter="url(#bl)"/>
<ellipse cx="203.90" cy="356.30" rx="3.80" ry="1.28" fill="#2a1ae6" opacity="1.0" transform="rotate(90 203.90 356.30)" filter="url(#bl)"/>
<ellipse cx="203.90" cy="356.30" rx="3.80" ry="1.28" fill="#2a1ae6" opacity="1.0" transform="rotate(135 203.90 356.30)" filter="url(#bl)"/>
<ellipse cx="203.90" cy="356.30" rx="1.80" ry="1.80" fill="#2a1ae6" opacity="1.0" filter="url(#bl)"/>
<ellipse cx="198.90" cy="371.10" rx="2.88" ry="2.88" fill="#7c70f0" opacity="0.4" filter="url(#bl)"/>
<ellipse cx="198.90" cy="371.10" rx="2.30" ry="2.30" fill="#2a1ae6" opacity="1.0" filter="url(#bl)"/>
<ellipse cx="199.20" cy="370.90" rx="0.69" ry="0.69" fill="#b8b0ff" opacity="0.6" filter="url(#bl)"/>
<ellipse cx="209.10" cy="371.60" rx="2.88" ry="2.88" fill="#7c70f0" opacity="0.4" filter="url(#bl)"/>
<ellipse cx="209.10" cy="371.60" rx="2.30" ry="2.30" fill="#2a1ae6" opacity="1.0" filter="url(#bl)"/>
<ellipse cx="209.40" cy="371.40" rx="0.69" ry="0.69" fill="#b8b0ff" opacity="0.6" filter="url(#bl)"/>
<line x1="216.90" y1="374.30" x2="217.20" y2="387.50" stroke="#b8b8b8" stroke-width="1.1"/>
<path d="M212.90,371.30 L210.60,375.80 L210.90,378.30" stroke="#aaa" stroke-width="1.1" fill="none"/>
<path d="M220.90,371.30 L223.20,375.80 L222.90,378.30" stroke="#aaa" stroke-width="1.1" fill="none"/>
<path d="M216.90,342.30 C217.17,342.30 217.47,343.63 217.70,344.30 C217.93,344.97 218.12,345.63 218.30,346.30 C218.48,346.97 218.60,347.72 218.80,348.30 C219.00,348.88 219.22,349.30 219.50,349.80 C219.78,350.30 220.22,350.72 220.50,351.30 C220.78,351.88 221.00,352.47 221.20,353.30 C221.40,354.13 221.58,355.13 221.70,356.30 C221.82,357.47 221.87,358.97 221.90,360.30 C221.93,361.63 221.95,362.97 221.90,364.30 C221.85,365.63 221.75,367.13 221.60,368.30 C221.45,369.47 221.28,370.38 221.00,371.30 C220.72,372.22 220.33,373.17 219.90,373.80 C219.47,374.43 218.90,374.82 218.40,375.10 C217.90,375.38 217.40,375.50 216.90,375.50 C216.40,375.50 215.90,375.38 215.40,375.10 C214.90,374.82 214.33,374.43 213.90,373.80 C213.47,373.17 213.08,372.22 212.80,371.30 C212.52,370.38 212.35,369.47 212.20,368.30 C212.05,367.13 211.95,365.63 211.90,364.30 C211.85,362.97 211.87,361.63 211.90,360.30 C211.93,358.97 211.98,357.47 212.10,356.30 C212.22,355.13 212.40,354.13 212.60,353.30 C212.80,352.47 213.02,351.88 213.30,351.30 C213.58,350.72 214.02,350.30 214.30,349.80 C214.58,349.30 214.80,348.88 215.00,348.30 C215.20,347.72 215.32,346.97 215.50,346.30 C215.68,345.63 215.87,344.97 216.10,344.30 C216.33,343.63 216.63,342.30 216.90,342.30 Z" fill="url(#mg)" filter="url(#mtex)"/>
<ellipse cx="216.90" cy="357.30" rx="5.62" ry="5.62" fill="#7c70f0" opacity="0.35" filter="url(#bl)"/>
<ellipse cx="216.90" cy="357.30" rx="4.27" ry="1.44" fill="#2a1ae6" opacity="1.0" filter="url(#bl)"/>
<ellipse cx="216.90" cy="357.30" rx="4.27" ry="1.44" fill="#2a1ae6" opacity="1.0" transform="rotate(45 216.90 357.30)" filter="url(#bl)"/>
<ellipse cx="216.90" cy="357.30" rx="4.27" ry="1.44" fill="#2a1ae6" opacity="1.0" transform="rotate(90 216.90 357.30)" filter="url(#bl)"/>
<ellipse cx="216.90" cy="357.30" rx="4.27" ry="1.44" fill="#2a1ae6" opacity="1.0" transform="rotate(135 216.90 357.30)" filter="url(#bl)"/>
<ellipse cx="216.90" cy="357.30" rx="2.02" ry="2.02" fill="#2a1ae6" opacity="1.0" filter="url(#bl)"/>
<ellipse cx="211.90" cy="371.10" rx="2.88" ry="2.88" fill="#7c70f0" opacity="0.4" filter="url(#bl)"/>
<ellipse cx="211.90" cy="371.10" rx="2.30" ry="2.30" fill="#2a1ae6" opacity="1.0" filter="url(#bl)"/>
<ellipse cx="212.20" cy="370.90" rx="0.69" ry="0.69" fill="#b8b0ff" opacity="0.6" filter="url(#bl)"/>
<ellipse cx="222.10" cy="371.60" rx="2.88" ry="2.88" fill="#7c70f0" opacity="0.4" filter="url(#bl)"/>
<ellipse cx="222.10" cy="371.60" rx="2.30" ry="2.30" fill="#2a1ae6" opacity="1.0" filter="url(#bl)"/>
<ellipse cx="222.40" cy="371.40" rx="0.69" ry="0.69" fill="#b8b0ff" opacity="0.6" filter="url(#bl)"/>
<line x1="230.50" y1="374.30" x2="230.80" y2="387.50" stroke="#b8b8b8" stroke-width="1.1"/>
<path d="M226.50,371.30 L224.20,375.80 L224.50,378.30" stroke="#aaa" stroke-width="1.1" fill="none"/>
<path d="M234.50,371.30 L236.80,375.80 L236.50,378.30" stroke="#aaa" stroke-width="1.1" fill="none"/>
<path d="M230.50,342.30 C230.77,342.30 231.07,343.63 231.30,344.30 C231.53,344.97 231.72,345.63 231.90,346.30 C232.08,346.97 232.20,347.72 232.40,348.30 C232.60,348.88 232.82,349.30 233.10,349.80 C233.38,350.30 233.82,350.72 234.10,351.30 C234.38,351.88 234.60,352.47 234.80,353.30 C235.00,354.13 235.18,355.13 235.30,356.30 C235.42,357.47 235.47,358.97 235.50,360.30 C235.53,361.63 235.55,362.97 235.50,364.30 C235.45,365.63 235.35,367.13 235.20,368.30 C235.05,369.47 234.88,370.38 234.60,371.30 C234.32,372.22 233.93,373.17 233.50,373.80 C233.07,374.43 232.50,374.82 232.00,375.10 C231.50,375.38 231.00,375.50 230.50,375.50 C230.00,375.50 229.50,375.38 229.00,375.10 C228.50,374.82 227.93,374.43 227.50,373.80 C227.07,373.17 226.68,372.22 226.40,371.30 C226.12,370.38 225.95,369.47 225.80,368.30 C225.65,367.13 225.55,365.63 225.50,364.30 C225.45,362.97 225.47,361.63 225.50,360.30 C225.53,358.97 225.58,357.47 225.70,356.30 C225.82,355.13 226.00,354.13 226.20,353.30 C226.40,352.47 226.62,351.88 226.90,351.30 C227.18,350.72 227.62,350.30 227.90,349.80 C228.18,349.30 228.40,348.88 228.60,348.30 C228.80,347.72 228.92,346.97 229.10,346.30 C229.28,345.63 229.47,344.97 229.70,344.30 C229.93,343.63 230.23,342.30 230.50,342.30 Z" fill="url(#mg)" filter="url(#mtex)"/>
<ellipse cx="231.50" cy="357.30" rx="3.75" ry="3.75" fill="#7c70f0" opacity="0.35" filter="url(#bl)"/>
<ellipse cx="231.50" cy="357.30" rx="2.85" ry="0.96" fill="#2a1ae6" opacity="1.0" filter="url(#bl)"/>
<ellipse cx="231.50" cy="357.30" rx="2.85" ry="0.96" fill="#2a1ae6" opacity="1.0" transform="rotate(45 231.50 357.30)" filter="url(#bl)"/>
<ellipse cx="231.50" cy="357.30" rx="2.85" ry="0.96" fill="#2a1ae6" opacity="1.0" transform="rotate(90 231.50 357.30)" filter="url(#bl)"/>
<ellipse cx="231.50" cy="357.30" rx="2.85" ry="0.96" fill="#2a1ae6" opacity="1.0" transform="rotate(135 231.50 357.30)" filter="url(#bl)"/>
<ellipse cx="231.50" cy="357.30" rx="1.35" ry="1.35" fill="#2a1ae6" opacity="1.0" filter="url(#bl)"/>
<ellipse cx="225.50" cy="371.10" rx="2.88" ry="2.88" fill="#7c70f0" opacity="0.4" filter="url(#bl)"/>
<ellipse cx="225.50" cy="371.10" rx="2.30" ry="2.30" fill="#2a1ae6" opacity="1.0" filter="url(#bl)"/>
<ellipse cx="225.80" cy="370.90" rx="0.69" ry="0.69" fill="#b8b0ff" opacity="0.6" filter="url(#bl)"/>
<ellipse cx="235.70" cy="371.60" rx="2.88" ry="2.88" fill="#7c70f0" opacity="0.4" filter="url(#bl)"/>
<ellipse cx="235.70" cy="371.60" rx="2.30" ry="2.30" fill="#2a1ae6" opacity="1.0" filter="url(#bl)"/>
<ellipse cx="236.00" cy="371.40" rx="0.69" ry="0.69" fill="#b8b0ff" opacity="0.6" filter="url(#bl)"/>
<ellipse cx="227.50" cy="354.30" rx="1.20" ry="1.20" fill="#2a1ae6" opacity="1.0" filter="url(#bl)"/>
<line x1="243.50" y1="374.30" x2="243.80" y2="387.50" stroke="#b8b8b8" stroke-width="1.1"/>
<path d="M239.50,371.30 L237.20,375.80 L237.50,378.30" stroke="#aaa" stroke-width="1.1" fill="none"/>
<path d="M247.50,371.30 L249.80,375.80 L249.50,378.30" stroke="#aaa" stroke-width="1.1" fill="none"/>
<path d="M243.50,342.30 C243.77,342.30 244.07,343.63 244.30,344.30 C244.53,344.97 244.72,345.63 244.90,346.30 C245.08,346.97 245.20,347.72 245.40,348.30 C245.60,348.88 245.82,349.30 246.10,349.80 C246.38,350.30 246.82,350.72 247.10,351.30 C247.38,351.88 247.60,352.47 247.80,353.30 C248.00,354.13 248.18,355.13 248.30,356.30 C248.42,357.47 248.47,358.97 248.50,360.30 C248.53,361.63 248.55,362.97 248.50,364.30 C248.45,365.63 248.35,367.13 248.20,368.30 C248.05,369.47 247.88,370.38 247.60,371.30 C247.32,372.22 246.93,373.17 246.50,373.80 C246.07,374.43 245.50,374.82 245.00,375.10 C244.50,375.38 244.00,375.50 243.50,375.50 C243.00,375.50 242.50,375.38 242.00,375.10 C241.50,374.82 240.93,374.43 240.50,373.80 C240.07,373.17 239.68,372.22 239.40,371.30 C239.12,370.38 238.95,369.47 238.80,368.30 C238.65,367.13 238.55,365.63 238.50,364.30 C238.45,362.97 238.47,361.63 238.50,360.30 C238.53,358.97 238.58,357.47 238.70,356.30 C238.82,355.13 239.00,354.13 239.20,353.30 C239.40,352.47 239.62,351.88 239.90,351.30 C240.18,350.72 240.62,350.30 240.90,349.80 C241.18,349.30 241.40,348.88 241.60,348.30 C241.80,347.72 241.92,346.97 242.10,346.30 C242.28,345.63 242.47,344.97 242.70,344.30 C242.93,343.63 243.23,342.30 243.50,342.30 Z" fill="url(#mg)" filter="url(#mtex)"/>
<ellipse cx="243.50" cy="356.30" rx="5.00" ry="5.00" fill="#7c70f0" opacity="0.35" filter="url(#bl)"/>
<ellipse cx="243.50" cy="356.30" rx="3.80" ry="1.28" fill="#2a1ae6" opacity="1.0" filter="url(#bl)"/>
<ellipse cx="243.50" cy="356.30" rx="3.80" ry="1.28" fill="#2a1ae6" opacity="1.0" transform="rotate(45 243.50 356.30)" filter="url(#bl)"/>
<ellipse cx="243.50" cy="356.30" rx="3.80" ry="1.28" fill="#2a1ae6" opacity="1.0" transform="rotate(90 243.50 356.30)" filter="url(#bl)"/>
<ellipse cx="243.50" cy="356.30" rx="3.80" ry="1.28" fill="#2a1ae6" opacity="1.0" transform="rotate(135 243.50 356.30)" filter="url(#bl)"/>
<ellipse cx="243.50" cy="356.30" rx="1.80" ry="1.80" fill="#2a1ae6" opacity="1.0" filter="url(#bl)"/>
<ellipse cx="238.50" cy="371.10" rx="2.88" ry="2.88" fill="#7c70f0" opacity="0.4" filter="url(#bl)"/>
<ellipse cx="238.50" cy="371.10" rx="2.30" ry="2.30" fill="#2a1ae6" opacity="1.0" filter="url(#bl)"/>
<ellipse cx="238.80" cy="370.90" rx="0.69" ry="0.69" fill="#b8b0ff" opacity="0.6" filter="url(#bl)"/>
<ellipse cx="248.70" cy="371.60" rx="2.88" ry="2.88" fill="#7c70f0" opacity="0.4" filter="url(#bl)"/>
<ellipse cx="248.70" cy="371.60" rx="2.30" ry="2.30" fill="#2a1ae6" opacity="1.0" filter="url(#bl)"/>
<ellipse cx="249.00" cy="371.40" rx="0.69" ry="0.69" fill="#b8b0ff" opacity="0.6" filter="url(#bl)"/>
<line x1="256.50" y1="374.30" x2="256.80" y2="387.50" stroke="#b8b8b8" stroke-width="1.1"/>
<path d="M252.50,371.30 L250.20,375.80 L250.50,378.30" stroke="#aaa" stroke-width="1.1" fill="none"/>
<path d="M260.50,371.30 L262.80,375.80 L262.50,378.30" stroke="#aaa" stroke-width="1.1" fill="none"/>
<path d="M256.50,342.30 C256.77,342.30 257.07,343.63 257.30,344.30 C257.53,344.97 257.72,345.63 257.90,346.30 C258.08,346.97 258.20,347.72 258.40,348.30 C258.60,348.88 258.82,349.30 259.10,349.80 C259.38,350.30 259.82,350.72 260.10,351.30 C260.38,351.88 260.60,352.47 260.80,353.30 C261.00,354.13 261.18,355.13 261.30,356.30 C261.42,357.47 261.47,358.97 261.50,360.30 C261.53,361.63 261.55,362.97 261.50,364.30 C261.45,365.63 261.35,367.13 261.20,368.30 C261.05,369.47 260.88,370.38 260.60,371.30 C260.32,372.22 259.93,373.17 259.50,373.80 C259.07,374.43 258.50,374.82 258.00,375.10 C257.50,375.38 257.00,375.50 256.50,375.50 C256.00,375.50 255.50,375.38 255.00,375.10 C254.50,374.82 253.93,374.43 253.50,373.80 C253.07,373.17 252.68,372.22 252.40,371.30 C252.12,370.38 251.95,369.47 251.80,368.30 C251.65,367.13 251.55,365.63 251.50,364.30 C251.45,362.97 251.47,361.63 251.50,360.30 C251.53,358.97 251.58,357.47 251.70,356.30 C251.82,355.13 252.00,354.13 252.20,353.30 C252.40,352.47 252.62,351.88 252.90,351.30 C253.18,350.72 253.62,350.30 253.90,349.80 C254.18,349.30 254.40,348.88 254.60,348.30 C254.80,347.72 254.92,346.97 255.10,346.30 C255.28,345.63 255.47,344.97 255.70,344.30 C255.93,343.63 256.23,342.30 256.50,342.30 Z" fill="url(#mg)" filter="url(#mtex)"/>
<ellipse cx="256.50" cy="356.30" rx="5.00" ry="5.00" fill="#7c70f0" opacity="0.35" filter="url(#bl)"/>
<ellipse cx="256.50" cy="356.30" rx="3.80" ry="1.28" fill="#2a1ae6" opacity="1.0" filter="url(#bl)"/>
<ellipse cx="256.50" cy="356.30" rx="3.80" ry="1.28" fill="#2a1ae6" opacity="1.0" transform="rotate(45 256.50 356.30)" filter="url(#bl)"/>
<ellipse cx="256.50" cy="356.30" rx="3.80" ry="1.28" fill="#2a1ae6" opacity="1.0" transform="rotate(90 256.50 356.30)" filter="url(#bl)"/>
<ellipse cx="256.50" cy="356.30" rx="3.80" ry="1.28" fill="#2a1ae6" opacity="1.0" transform="rotate(135 256.50 356.30)" filter="url(#bl)"/>
<ellipse cx="256.50" cy="356.30" rx="1.80" ry="1.80" fill="#2a1ae6" opacity="1.0" filter="url(#bl)"/>
<ellipse cx="251.50" cy="371.10" rx="2.88" ry="2.88" fill="#7c70f0" opacity="0.4" filter="url(#bl)"/>
<ellipse cx="251.50" cy="371.10" rx="2.30" ry="2.30" fill="#2a1ae6" opacity="1.0" filter="url(#bl)"/>
<ellipse cx="251.80" cy="370.90" rx="0.69" ry="0.69" fill="#b8b0ff" opacity="0.6" filter="url(#bl)"/>
<ellipse cx="261.70" cy="371.60" rx="2.88" ry="2.88" fill="#7c70f0" opacity="0.4" filter="url(#bl)"/>
<ellipse cx="261.70" cy="371.60" rx="2.30" ry="2.30" fill="#2a1ae6" opacity="1.0" filter="url(#bl)"/>
<ellipse cx="262.00" cy="371.40" rx="0.69" ry="0.69" fill="#b8b0ff" opacity="0.6" filter="url(#bl)"/>
</svg>
<rect x="195.4" y="341.4" width="70.2" height="44.7" fill="none" stroke="#2c2c2c" stroke-width="0.8"/>
<rect x="266" y="341" width="2" height="45.5" fill="#bdbdbd"/>
<rect x="195" y="391" width="71" height="44.5" fill="#454545"/>
<rect x="195" y="391" width="71" height="44.5" fill="url(#vstripe)" opacity="0.25"/>
<svg x="195" y="391" width="71" height="44.5" viewBox="195 391 71 44.5" overflow="hidden">
<line x1="204.60" y1="425.20" x2="204.90" y2="436.50" stroke="#b8b8b8" stroke-width="1.1"/>
<path d="M199.80,422.20 L197.04,426.70 L197.40,429.20" stroke="#aaa" stroke-width="1.1" fill="none"/>
<path d="M209.40,422.20 L212.16,426.70 L211.80,429.20" stroke="#aaa" stroke-width="1.1" fill="none"/>
<path d="M204.60,393.20 C204.92,393.20 205.28,394.53 205.56,395.20 C205.84,395.87 206.06,396.53 206.28,397.20 C206.50,397.87 206.64,398.62 206.88,399.20 C207.12,399.78 207.38,400.20 207.72,400.70 C208.06,401.20 208.58,401.62 208.92,402.20 C209.26,402.78 209.52,403.37 209.76,404.20 C210.00,405.03 210.22,406.03 210.36,407.20 C210.50,408.37 210.56,409.87 210.60,411.20 C210.64,412.53 210.66,413.87 210.60,415.20 C210.54,416.53 210.42,418.03 210.24,419.20 C210.06,420.37 209.86,421.28 209.52,422.20 C209.18,423.12 208.72,424.07 208.20,424.70 C207.68,425.33 207.00,425.72 206.40,426.00 C205.80,426.28 205.20,426.40 204.60,426.40 C204.00,426.40 203.40,426.28 202.80,426.00 C202.20,425.72 201.52,425.33 201.00,424.70 C200.48,424.07 200.02,423.12 199.68,422.20 C199.34,421.28 199.14,420.37 198.96,419.20 C198.78,418.03 198.66,416.53 198.60,415.20 C198.54,413.87 198.56,412.53 198.60,411.20 C198.64,409.87 198.70,408.37 198.84,407.20 C198.98,406.03 199.20,405.03 199.44,404.20 C199.68,403.37 199.94,402.78 200.28,402.20 C200.62,401.62 201.14,401.20 201.48,400.70 C201.82,400.20 202.08,399.78 202.32,399.20 C202.56,398.62 202.70,397.87 202.92,397.20 C203.14,396.53 203.36,395.87 203.64,395.20 C203.92,394.53 204.28,393.20 204.60,393.20 Z" fill="url(#mg)" filter="url(#mtex)"/>
<clipPath id="c2046_3932"><path d="M204.60,393.20 C204.92,393.20 205.28,394.53 205.56,395.20 C205.84,395.87 206.06,396.53 206.28,397.20 C206.50,397.87 206.64,398.62 206.88,399.20 C207.12,399.78 207.38,400.20 207.72,400.70 C208.06,401.20 208.58,401.62 208.92,402.20 C209.26,402.78 209.52,403.37 209.76,404.20 C210.00,405.03 210.22,406.03 210.36,407.20 C210.50,408.37 210.56,409.87 210.60,411.20 C210.64,412.53 210.66,413.87 210.60,415.20 C210.54,416.53 210.42,418.03 210.24,419.20 C210.06,420.37 209.86,421.28 209.52,422.20 C209.18,423.12 208.72,424.07 208.20,424.70 C207.68,425.33 207.00,425.72 206.40,426.00 C205.80,426.28 205.20,426.40 204.60,426.40 C204.00,426.40 203.40,426.28 202.80,426.00 C202.20,425.72 201.52,425.33 201.00,424.70 C200.48,424.07 200.02,423.12 199.68,422.20 C199.34,421.28 199.14,420.37 198.96,419.20 C198.78,418.03 198.66,416.53 198.60,415.20 C198.54,413.87 198.56,412.53 198.60,411.20 C198.64,409.87 198.70,408.37 198.84,407.20 C198.98,406.03 199.20,405.03 199.44,404.20 C199.68,403.37 199.94,402.78 200.28,402.20 C200.62,401.62 201.14,401.20 201.48,400.70 C201.82,400.20 202.08,399.78 202.32,399.20 C202.56,398.62 202.70,397.87 202.92,397.20 C203.14,396.53 203.36,395.87 203.64,395.20 C203.92,394.53 204.28,393.20 204.60,393.20 Z"/></clipPath>
<g clip-path="url(#c2046_3932)">
<rect x="196.6" y="393.2" width="16" height="36.0" fill="#1a34f0"/>
<ellipse cx="204.60" cy="408.20" rx="1.60" ry="5.50" fill="#6fd3f2" opacity="1.0" filter="url(#bl)"/>
<ellipse cx="204.60" cy="408.20" rx="0.60" ry="4.00" fill="#d0f4ff" opacity="0.8" filter="url(#bl)"/>
<ellipse cx="203.10" cy="417.20" rx="4.20" ry="3.00" fill="#f4f4ff" opacity="1.0" filter="url(#bl)"/>
<ellipse cx="209.20" cy="416.70" rx="2.30" ry="3.20" fill="#b8e040" opacity="1.0" filter="url(#bl)"/>
<ellipse cx="209.20" cy="416.70" rx="1.40" ry="1.80" fill="#e0281a" opacity="1.0" filter="url(#bl)"/>
<ellipse cx="203.60" cy="422.20" rx="2.00" ry="1.20" fill="#e8e0ff" opacity="0.8" filter="url(#bl)"/>
</g>
<ellipse cx="204.60" cy="427.20" rx="4.20" ry="3.60" fill="#3a30e8" opacity="1.0" filter="url(#bl)"/>
<line x1="217.50" y1="426.70" x2="217.80" y2="436.50" stroke="#b8b8b8" stroke-width="1.1"/>
<path d="M212.70,423.70 L209.94,428.20 L210.30,430.70" stroke="#aaa" stroke-width="1.1" fill="none"/>
<path d="M222.30,423.70 L225.06,428.20 L224.70,430.70" stroke="#aaa" stroke-width="1.1" fill="none"/>
<path d="M217.50,394.70 C217.82,394.70 218.18,396.03 218.46,396.70 C218.74,397.37 218.96,398.03 219.18,398.70 C219.40,399.37 219.54,400.12 219.78,400.70 C220.02,401.28 220.28,401.70 220.62,402.20 C220.96,402.70 221.48,403.12 221.82,403.70 C222.16,404.28 222.42,404.87 222.66,405.70 C222.90,406.53 223.12,407.53 223.26,408.70 C223.40,409.87 223.46,411.37 223.50,412.70 C223.54,414.03 223.56,415.37 223.50,416.70 C223.44,418.03 223.32,419.53 223.14,420.70 C222.96,421.87 222.76,422.78 222.42,423.70 C222.08,424.62 221.62,425.57 221.10,426.20 C220.58,426.83 219.90,427.22 219.30,427.50 C218.70,427.78 218.10,427.90 217.50,427.90 C216.90,427.90 216.30,427.78 215.70,427.50 C215.10,427.22 214.42,426.83 213.90,426.20 C213.38,425.57 212.92,424.62 212.58,423.70 C212.24,422.78 212.04,421.87 211.86,420.70 C211.68,419.53 211.56,418.03 211.50,416.70 C211.44,415.37 211.46,414.03 211.50,412.70 C211.54,411.37 211.60,409.87 211.74,408.70 C211.88,407.53 212.10,406.53 212.34,405.70 C212.58,404.87 212.84,404.28 213.18,403.70 C213.52,403.12 214.04,402.70 214.38,402.20 C214.72,401.70 214.98,401.28 215.22,400.70 C215.46,400.12 215.60,399.37 215.82,398.70 C216.04,398.03 216.26,397.37 216.54,396.70 C216.82,396.03 217.18,394.70 217.50,394.70 Z" fill="url(#mg)" filter="url(#mtex)"/>
<clipPath id="c2175_3947"><path d="M217.50,394.70 C217.82,394.70 218.18,396.03 218.46,396.70 C218.74,397.37 218.96,398.03 219.18,398.70 C219.40,399.37 219.54,400.12 219.78,400.70 C220.02,401.28 220.28,401.70 220.62,402.20 C220.96,402.70 221.48,403.12 221.82,403.70 C222.16,404.28 222.42,404.87 222.66,405.70 C222.90,406.53 223.12,407.53 223.26,408.70 C223.40,409.87 223.46,411.37 223.50,412.70 C223.54,414.03 223.56,415.37 223.50,416.70 C223.44,418.03 223.32,419.53 223.14,420.70 C222.96,421.87 222.76,422.78 222.42,423.70 C222.08,424.62 221.62,425.57 221.10,426.20 C220.58,426.83 219.90,427.22 219.30,427.50 C218.70,427.78 218.10,427.90 217.50,427.90 C216.90,427.90 216.30,427.78 215.70,427.50 C215.10,427.22 214.42,426.83 213.90,426.20 C213.38,425.57 212.92,424.62 212.58,423.70 C212.24,422.78 212.04,421.87 211.86,420.70 C211.68,419.53 211.56,418.03 211.50,416.70 C211.44,415.37 211.46,414.03 211.50,412.70 C211.54,411.37 211.60,409.87 211.74,408.70 C211.88,407.53 212.10,406.53 212.34,405.70 C212.58,404.87 212.84,404.28 213.18,403.70 C213.52,403.12 214.04,402.70 214.38,402.20 C214.72,401.70 214.98,401.28 215.22,400.70 C215.46,400.12 215.60,399.37 215.82,398.70 C216.04,398.03 216.26,397.37 216.54,396.70 C216.82,396.03 217.18,394.70 217.50,394.70 Z"/></clipPath>
<g clip-path="url(#c2175_3947)">
<rect x="209.5" y="394.7" width="16" height="36.0" fill="#1a34f0"/>
<ellipse cx="218.00" cy="409.70" rx="1.80" ry="5.00" fill="#6fd3f2" opacity="1.0" filter="url(#bl)"/>
<ellipse cx="217.00" cy="409.70" rx="1.00" ry="3.00" fill="#1838f0" opacity="1.0" filter="url(#bl)"/>
<ellipse cx="216.00" cy="418.70" rx="3.50" ry="2.80" fill="#f4f4ff" opacity="1.0" filter="url(#bl)"/>
<ellipse cx="221.80" cy="418.70" rx="2.60" ry="4.00" fill="#c0e040" opacity="1.0" filter="url(#bl)"/>
<ellipse cx="222.00" cy="418.70" rx="1.60" ry="2.50" fill="#e0281a" opacity="1.0" filter="url(#bl)"/>
<ellipse cx="222.00" cy="422.70" rx="1.40" ry="1.20" fill="#f0e030" opacity="1.0" filter="url(#bl)"/>
</g>
<ellipse cx="217.50" cy="428.70" rx="4.20" ry="3.60" fill="#3a30e8" opacity="1.0" filter="url(#bl)"/>
<line x1="229.80" y1="425.20" x2="230.10" y2="436.50" stroke="#b8b8b8" stroke-width="1.1"/>
<path d="M225.00,422.20 L222.24,426.70 L222.60,429.20" stroke="#aaa" stroke-width="1.1" fill="none"/>
<path d="M234.60,422.20 L237.36,426.70 L237.00,429.20" stroke="#aaa" stroke-width="1.1" fill="none"/>
<path d="M229.80,393.20 C230.12,393.20 230.48,394.53 230.76,395.20 C231.04,395.87 231.26,396.53 231.48,397.20 C231.70,397.87 231.84,398.62 232.08,399.20 C232.32,399.78 232.58,400.20 232.92,400.70 C233.26,401.20 233.78,401.62 234.12,402.20 C234.46,402.78 234.72,403.37 234.96,404.20 C235.20,405.03 235.42,406.03 235.56,407.20 C235.70,408.37 235.76,409.87 235.80,411.20 C235.84,412.53 235.86,413.87 235.80,415.20 C235.74,416.53 235.62,418.03 235.44,419.20 C235.26,420.37 235.06,421.28 234.72,422.20 C234.38,423.12 233.92,424.07 233.40,424.70 C232.88,425.33 232.20,425.72 231.60,426.00 C231.00,426.28 230.40,426.40 229.80,426.40 C229.20,426.40 228.60,426.28 228.00,426.00 C227.40,425.72 226.72,425.33 226.20,424.70 C225.68,424.07 225.22,423.12 224.88,422.20 C224.54,421.28 224.34,420.37 224.16,419.20 C223.98,418.03 223.86,416.53 223.80,415.20 C223.74,413.87 223.76,412.53 223.80,411.20 C223.84,409.87 223.90,408.37 224.04,407.20 C224.18,406.03 224.40,405.03 224.64,404.20 C224.88,403.37 225.14,402.78 225.48,402.20 C225.82,401.62 226.34,401.20 226.68,400.70 C227.02,400.20 227.28,399.78 227.52,399.20 C227.76,398.62 227.90,397.87 228.12,397.20 C228.34,396.53 228.56,395.87 228.84,395.20 C229.12,394.53 229.48,393.20 229.80,393.20 Z" fill="url(#mg)" filter="url(#mtex)"/>
<clipPath id="c2298_3932"><path d="M229.80,393.20 C230.12,393.20 230.48,394.53 230.76,395.20 C231.04,395.87 231.26,396.53 231.48,397.20 C231.70,397.87 231.84,398.62 232.08,399.20 C232.32,399.78 232.58,400.20 232.92,400.70 C233.26,401.20 233.78,401.62 234.12,402.20 C234.46,402.78 234.72,403.37 234.96,404.20 C235.20,405.03 235.42,406.03 235.56,407.20 C235.70,408.37 235.76,409.87 235.80,411.20 C235.84,412.53 235.86,413.87 235.80,415.20 C235.74,416.53 235.62,418.03 235.44,419.20 C235.26,420.37 235.06,421.28 234.72,422.20 C234.38,423.12 233.92,424.07 233.40,424.70 C232.88,425.33 232.20,425.72 231.60,426.00 C231.00,426.28 230.40,426.40 229.80,426.40 C229.20,426.40 228.60,426.28 228.00,426.00 C227.40,425.72 226.72,425.33 226.20,424.70 C225.68,424.07 225.22,423.12 224.88,422.20 C224.54,421.28 224.34,420.37 224.16,419.20 C223.98,418.03 223.86,416.53 223.80,415.20 C223.74,413.87 223.76,412.53 223.80,411.20 C223.84,409.87 223.90,408.37 224.04,407.20 C224.18,406.03 224.40,405.03 224.64,404.20 C224.88,403.37 225.14,402.78 225.48,402.20 C225.82,401.62 226.34,401.20 226.68,400.70 C227.02,400.20 227.28,399.78 227.52,399.20 C227.76,398.62 227.90,397.87 228.12,397.20 C228.34,396.53 228.56,395.87 228.84,395.20 C229.12,394.53 229.48,393.20 229.80,393.20 Z"/></clipPath>
<g clip-path="url(#c2298_3932)">
<rect x="221.8" y="393.2" width="16" height="36.0" fill="#1a34f0"/>
<ellipse cx="229.80" cy="402.20" rx="2.20" ry="2.00" fill="#6fd3f2" opacity="1.0" filter="url(#bl)"/>
<ellipse cx="230.30" cy="409.20" rx="2.60" ry="3.00" fill="#6fd3f2" opacity="1.0" filter="url(#bl)"/>
<ellipse cx="230.30" cy="409.20" rx="1.20" ry="1.50" fill="#f4f4ff" opacity="0.7" filter="url(#bl)"/>
<ellipse cx="228.80" cy="416.70" rx="4.00" ry="2.60" fill="#f4f4ff" opacity="1.0" filter="url(#bl)"/>
<ellipse cx="225.30" cy="416.20" rx="1.80" ry="2.00" fill="#f0e030" opacity="1.0" filter="url(#bl)"/>
<ellipse cx="225.10" cy="416.20" rx="1.00" ry="1.20" fill="#e0281a" opacity="1.0" filter="url(#bl)"/>
</g>
<ellipse cx="229.80" cy="427.20" rx="4.20" ry="3.60" fill="#3a30e8" opacity="1.0" filter="url(#bl)"/>
<line x1="242.80" y1="425.20" x2="243.10" y2="436.50" stroke="#b8b8b8" stroke-width="1.1"/>
<path d="M238.00,422.20 L235.24,426.70 L235.60,429.20" stroke="#aaa" stroke-width="1.1" fill="none"/>
<path d="M247.60,422.20 L250.36,426.70 L250.00,429.20" stroke="#aaa" stroke-width="1.1" fill="none"/>
<path d="M242.80,393.20 C243.12,393.20 243.48,394.53 243.76,395.20 C244.04,395.87 244.26,396.53 244.48,397.20 C244.70,397.87 244.84,398.62 245.08,399.20 C245.32,399.78 245.58,400.20 245.92,400.70 C246.26,401.20 246.78,401.62 247.12,402.20 C247.46,402.78 247.72,403.37 247.96,404.20 C248.20,405.03 248.42,406.03 248.56,407.20 C248.70,408.37 248.76,409.87 248.80,411.20 C248.84,412.53 248.86,413.87 248.80,415.20 C248.74,416.53 248.62,418.03 248.44,419.20 C248.26,420.37 248.06,421.28 247.72,422.20 C247.38,423.12 246.92,424.07 246.40,424.70 C245.88,425.33 245.20,425.72 244.60,426.00 C244.00,426.28 243.40,426.40 242.80,426.40 C242.20,426.40 241.60,426.28 241.00,426.00 C240.40,425.72 239.72,425.33 239.20,424.70 C238.68,424.07 238.22,423.12 237.88,422.20 C237.54,421.28 237.34,420.37 237.16,419.20 C236.98,418.03 236.86,416.53 236.80,415.20 C236.74,413.87 236.76,412.53 236.80,411.20 C236.84,409.87 236.90,408.37 237.04,407.20 C237.18,406.03 237.40,405.03 237.64,404.20 C237.88,403.37 238.14,402.78 238.48,402.20 C238.82,401.62 239.34,401.20 239.68,400.70 C240.02,400.20 240.28,399.78 240.52,399.20 C240.76,398.62 240.90,397.87 241.12,397.20 C241.34,396.53 241.56,395.87 241.84,395.20 C242.12,394.53 242.48,393.20 242.80,393.20 Z" fill="url(#mg)" filter="url(#mtex)"/>
<clipPath id="c2428_3932"><path d="M242.80,393.20 C243.12,393.20 243.48,394.53 243.76,395.20 C244.04,395.87 244.26,396.53 244.48,397.20 C244.70,397.87 244.84,398.62 245.08,399.20 C245.32,399.78 245.58,400.20 245.92,400.70 C246.26,401.20 246.78,401.62 247.12,402.20 C247.46,402.78 247.72,403.37 247.96,404.20 C248.20,405.03 248.42,406.03 248.56,407.20 C248.70,408.37 248.76,409.87 248.80,411.20 C248.84,412.53 248.86,413.87 248.80,415.20 C248.74,416.53 248.62,418.03 248.44,419.20 C248.26,420.37 248.06,421.28 247.72,422.20 C247.38,423.12 246.92,424.07 246.40,424.70 C245.88,425.33 245.20,425.72 244.60,426.00 C244.00,426.28 243.40,426.40 242.80,426.40 C242.20,426.40 241.60,426.28 241.00,426.00 C240.40,425.72 239.72,425.33 239.20,424.70 C238.68,424.07 238.22,423.12 237.88,422.20 C237.54,421.28 237.34,420.37 237.16,419.20 C236.98,418.03 236.86,416.53 236.80,415.20 C236.74,413.87 236.76,412.53 236.80,411.20 C236.84,409.87 236.90,408.37 237.04,407.20 C237.18,406.03 237.40,405.03 237.64,404.20 C237.88,403.37 238.14,402.78 238.48,402.20 C238.82,401.62 239.34,401.20 239.68,400.70 C240.02,400.20 240.28,399.78 240.52,399.20 C240.76,398.62 240.90,397.87 241.12,397.20 C241.34,396.53 241.56,395.87 241.84,395.20 C242.12,394.53 242.48,393.20 242.80,393.20 Z"/></clipPath>
<g clip-path="url(#c2428_3932)">
<rect x="234.8" y="393.2" width="16" height="36.0" fill="#1a34f0"/>
<ellipse cx="242.80" cy="407.20" rx="1.80" ry="5.00" fill="#6fd3f2" opacity="1.0" filter="url(#bl)"/>
<ellipse cx="242.80" cy="407.20" rx="0.60" ry="3.50" fill="#d0f4ff" opacity="0.8" filter="url(#bl)"/>
<ellipse cx="241.80" cy="417.20" rx="4.20" ry="3.00" fill="#f4f4ff" opacity="1.0" filter="url(#bl)"/>
<ellipse cx="247.30" cy="418.20" rx="1.60" ry="2.00" fill="#a0e060" opacity="1.0" filter="url(#bl)"/>
</g>
<ellipse cx="242.80" cy="427.20" rx="4.20" ry="3.60" fill="#3a30e8" opacity="1.0" filter="url(#bl)"/>
<line x1="258.10" y1="426.20" x2="258.40" y2="436.50" stroke="#b8b8b8" stroke-width="1.1"/>
<path d="M253.30,423.20 L250.54,427.70 L250.90,430.20" stroke="#aaa" stroke-width="1.1" fill="none"/>
<path d="M262.90,423.20 L265.66,427.70 L265.30,430.20" stroke="#aaa" stroke-width="1.1" fill="none"/>
<path d="M258.10,394.20 C258.42,394.20 258.78,395.53 259.06,396.20 C259.34,396.87 259.56,397.53 259.78,398.20 C260.00,398.87 260.14,399.62 260.38,400.20 C260.62,400.78 260.88,401.20 261.22,401.70 C261.56,402.20 262.08,402.62 262.42,403.20 C262.76,403.78 263.02,404.37 263.26,405.20 C263.50,406.03 263.72,407.03 263.86,408.20 C264.00,409.37 264.06,410.87 264.10,412.20 C264.14,413.53 264.16,414.87 264.10,416.20 C264.04,417.53 263.92,419.03 263.74,420.20 C263.56,421.37 263.36,422.28 263.02,423.20 C262.68,424.12 262.22,425.07 261.70,425.70 C261.18,426.33 260.50,426.72 259.90,427.00 C259.30,427.28 258.70,427.40 258.10,427.40 C257.50,427.40 256.90,427.28 256.30,427.00 C255.70,426.72 255.02,426.33 254.50,425.70 C253.98,425.07 253.52,424.12 253.18,423.20 C252.84,422.28 252.64,421.37 252.46,420.20 C252.28,419.03 252.16,417.53 252.10,416.20 C252.04,414.87 252.06,413.53 252.10,412.20 C252.14,410.87 252.20,409.37 252.34,408.20 C252.48,407.03 252.70,406.03 252.94,405.20 C253.18,404.37 253.44,403.78 253.78,403.20 C254.12,402.62 254.64,402.20 254.98,401.70 C255.32,401.20 255.58,400.78 255.82,400.20 C256.06,399.62 256.20,398.87 256.42,398.20 C256.64,397.53 256.86,396.87 257.14,396.20 C257.42,395.53 257.78,394.20 258.10,394.20 Z" fill="url(#mg)" filter="url(#mtex)"/>
<clipPath id="c2581_3942"><path d="M258.10,394.20 C258.42,394.20 258.78,395.53 259.06,396.20 C259.34,396.87 259.56,397.53 259.78,398.20 C260.00,398.87 260.14,399.62 260.38,400.20 C260.62,400.78 260.88,401.20 261.22,401.70 C261.56,402.20 262.08,402.62 262.42,403.20 C262.76,403.78 263.02,404.37 263.26,405.20 C263.50,406.03 263.72,407.03 263.86,408.20 C264.00,409.37 264.06,410.87 264.10,412.20 C264.14,413.53 264.16,414.87 264.10,416.20 C264.04,417.53 263.92,419.03 263.74,420.20 C263.56,421.37 263.36,422.28 263.02,423.20 C262.68,424.12 262.22,425.07 261.70,425.70 C261.18,426.33 260.50,426.72 259.90,427.00 C259.30,427.28 258.70,427.40 258.10,427.40 C257.50,427.40 256.90,427.28 256.30,427.00 C255.70,426.72 255.02,426.33 254.50,425.70 C253.98,425.07 253.52,424.12 253.18,423.20 C252.84,422.28 252.64,421.37 252.46,420.20 C252.28,419.03 252.16,417.53 252.10,416.20 C252.04,414.87 252.06,413.53 252.10,412.20 C252.14,410.87 252.20,409.37 252.34,408.20 C252.48,407.03 252.70,406.03 252.94,405.20 C253.18,404.37 253.44,403.78 253.78,403.20 C254.12,402.62 254.64,402.20 254.98,401.70 C255.32,401.20 255.58,400.78 255.82,400.20 C256.06,399.62 256.20,398.87 256.42,398.20 C256.64,397.53 256.86,396.87 257.14,396.20 C257.42,395.53 257.78,394.20 258.10,394.20 Z"/></clipPath>
<g clip-path="url(#c2581_3942)">
<rect x="250.10000000000002" y="394.2" width="16" height="36.0" fill="#1a34f0"/>
<ellipse cx="258.10" cy="409.20" rx="1.80" ry="5.50" fill="#6fd3f2" opacity="1.0" filter="url(#bl)"/>
<ellipse cx="256.60" cy="418.20" rx="3.20" ry="2.60" fill="#f4f4ff" opacity="1.0" filter="url(#bl)"/>
<ellipse cx="261.90" cy="417.20" rx="2.60" ry="3.60" fill="#f0e030" opacity="1.0" filter="url(#bl)"/>
<ellipse cx="262.10" cy="417.70" rx="1.80" ry="2.40" fill="#e0281a" opacity="1.0" filter="url(#bl)"/>
</g>
<ellipse cx="258.10" cy="428.20" rx="4.20" ry="3.60" fill="#3a30e8" opacity="1.0" filter="url(#bl)"/>
</svg>
<rect x="195.4" y="391.4" width="70.2" height="43.7" fill="none" stroke="#2c2c2c" stroke-width="0.8"/>
<rect x="266" y="391" width="2" height="44.5" fill="#bdbdbd"/>
<text x="302.80" y="338.30" font-size="8.2" text-anchor="middle" font-weight="normal" fill="#2a2a2a" textLength="34" lengthAdjust="spacingAndGlyphs" style="stroke-width:0.12px">Ruxolitinib</text>
<rect x="268" y="341" width="70" height="45.5" fill="#454545"/>
<rect x="268" y="341" width="70" height="45.5" fill="url(#vstripe)" opacity="0.25"/>
<svg x="268" y="341" width="70" height="45.5" viewBox="268 341 70 45.5" overflow="hidden">
<line x1="276.20" y1="374.30" x2="276.50" y2="387.50" stroke="#b8b8b8" stroke-width="1.1"/>
<path d="M272.20,371.30 L269.90,375.80 L270.20,378.30" stroke="#aaa" stroke-width="1.1" fill="none"/>
<path d="M280.20,371.30 L282.50,375.80 L282.20,378.30" stroke="#aaa" stroke-width="1.1" fill="none"/>
<path d="M276.20,342.30 C276.47,342.30 276.77,343.63 277.00,344.30 C277.23,344.97 277.42,345.63 277.60,346.30 C277.78,346.97 277.90,347.72 278.10,348.30 C278.30,348.88 278.52,349.30 278.80,349.80 C279.08,350.30 279.52,350.72 279.80,351.30 C280.08,351.88 280.30,352.47 280.50,353.30 C280.70,354.13 280.88,355.13 281.00,356.30 C281.12,357.47 281.17,358.97 281.20,360.30 C281.23,361.63 281.25,362.97 281.20,364.30 C281.15,365.63 281.05,367.13 280.90,368.30 C280.75,369.47 280.58,370.38 280.30,371.30 C280.02,372.22 279.63,373.17 279.20,373.80 C278.77,374.43 278.20,374.82 277.70,375.10 C277.20,375.38 276.70,375.50 276.20,375.50 C275.70,375.50 275.20,375.38 274.70,375.10 C274.20,374.82 273.63,374.43 273.20,373.80 C272.77,373.17 272.38,372.22 272.10,371.30 C271.82,370.38 271.65,369.47 271.50,368.30 C271.35,367.13 271.25,365.63 271.20,364.30 C271.15,362.97 271.17,361.63 271.20,360.30 C271.23,358.97 271.28,357.47 271.40,356.30 C271.52,355.13 271.70,354.13 271.90,353.30 C272.10,352.47 272.32,351.88 272.60,351.30 C272.88,350.72 273.32,350.30 273.60,349.80 C273.88,349.30 274.10,348.88 274.30,348.30 C274.50,347.72 274.62,346.97 274.80,346.30 C274.98,345.63 275.17,344.97 275.40,344.30 C275.63,343.63 275.93,342.30 276.20,342.30 Z" fill="url(#mg)" filter="url(#mtex)"/>
<ellipse cx="275.70" cy="356.00" rx="5.62" ry="5.62" fill="#7c70f0" opacity="0.35" filter="url(#bl)"/>
<ellipse cx="275.70" cy="356.00" rx="4.27" ry="1.44" fill="#2a1ae6" opacity="1.0" filter="url(#bl)"/>
<ellipse cx="275.70" cy="356.00" rx="4.27" ry="1.44" fill="#2a1ae6" opacity="1.0" transform="rotate(45 275.70 356.00)" filter="url(#bl)"/>
<ellipse cx="275.70" cy="356.00" rx="4.27" ry="1.44" fill="#2a1ae6" opacity="1.0" transform="rotate(90 275.70 356.00)" filter="url(#bl)"/>
<ellipse cx="275.70" cy="356.00" rx="4.27" ry="1.44" fill="#2a1ae6" opacity="1.0" transform="rotate(135 275.70 356.00)" filter="url(#bl)"/>
<ellipse cx="275.70" cy="356.00" rx="2.02" ry="2.02" fill="#2a1ae6" opacity="1.0" filter="url(#bl)"/>
<ellipse cx="271.20" cy="371.10" rx="2.88" ry="2.88" fill="#7c70f0" opacity="0.4" filter="url(#bl)"/>
<ellipse cx="271.20" cy="371.10" rx="2.30" ry="2.30" fill="#2a1ae6" opacity="1.0" filter="url(#bl)"/>
<ellipse cx="271.50" cy="370.90" rx="0.69" ry="0.69" fill="#b8b0ff" opacity="0.6" filter="url(#bl)"/>
<ellipse cx="281.40" cy="371.60" rx="2.88" ry="2.88" fill="#7c70f0" opacity="0.4" filter="url(#bl)"/>
<ellipse cx="281.40" cy="371.60" rx="2.30" ry="2.30" fill="#2a1ae6" opacity="1.0" filter="url(#bl)"/>
<ellipse cx="281.70" cy="371.40" rx="0.69" ry="0.69" fill="#b8b0ff" opacity="0.6" filter="url(#bl)"/>
<line x1="289.20" y1="374.30" x2="289.50" y2="387.50" stroke="#b8b8b8" stroke-width="1.1"/>
<path d="M285.20,371.30 L282.90,375.80 L283.20,378.30" stroke="#aaa" stroke-width="1.1" fill="none"/>
<path d="M293.20,371.30 L295.50,375.80 L295.20,378.30" stroke="#aaa" stroke-width="1.1" fill="none"/>
<path d="M289.20,342.30 C289.47,342.30 289.77,343.63 290.00,344.30 C290.23,344.97 290.42,345.63 290.60,346.30 C290.78,346.97 290.90,347.72 291.10,348.30 C291.30,348.88 291.52,349.30 291.80,349.80 C292.08,350.30 292.52,350.72 292.80,351.30 C293.08,351.88 293.30,352.47 293.50,353.30 C293.70,354.13 293.88,355.13 294.00,356.30 C294.12,357.47 294.17,358.97 294.20,360.30 C294.23,361.63 294.25,362.97 294.20,364.30 C294.15,365.63 294.05,367.13 293.90,368.30 C293.75,369.47 293.58,370.38 293.30,371.30 C293.02,372.22 292.63,373.17 292.20,373.80 C291.77,374.43 291.20,374.82 290.70,375.10 C290.20,375.38 289.70,375.50 289.20,375.50 C288.70,375.50 288.20,375.38 287.70,375.10 C287.20,374.82 286.63,374.43 286.20,373.80 C285.77,373.17 285.38,372.22 285.10,371.30 C284.82,370.38 284.65,369.47 284.50,368.30 C284.35,367.13 284.25,365.63 284.20,364.30 C284.15,362.97 284.17,361.63 284.20,360.30 C284.23,358.97 284.28,357.47 284.40,356.30 C284.52,355.13 284.70,354.13 284.90,353.30 C285.10,352.47 285.32,351.88 285.60,351.30 C285.88,350.72 286.32,350.30 286.60,349.80 C286.88,349.30 287.10,348.88 287.30,348.30 C287.50,347.72 287.62,346.97 287.80,346.30 C287.98,345.63 288.17,344.97 288.40,344.30 C288.63,343.63 288.93,342.30 289.20,342.30 Z" fill="url(#mg)" filter="url(#mtex)"/>
<ellipse cx="289.20" cy="357.30" rx="1.00" ry="1.00" fill="#7c70f0" opacity="0.5" filter="url(#bl)"/>
<line x1="302.40" y1="374.30" x2="302.70" y2="387.50" stroke="#b8b8b8" stroke-width="1.1"/>
<path d="M298.40,371.30 L296.10,375.80 L296.40,378.30" stroke="#aaa" stroke-width="1.1" fill="none"/>
<path d="M306.40,371.30 L308.70,375.80 L308.40,378.30" stroke="#aaa" stroke-width="1.1" fill="none"/>
<path d="M302.40,342.30 C302.67,342.30 302.97,343.63 303.20,344.30 C303.43,344.97 303.62,345.63 303.80,346.30 C303.98,346.97 304.10,347.72 304.30,348.30 C304.50,348.88 304.72,349.30 305.00,349.80 C305.28,350.30 305.72,350.72 306.00,351.30 C306.28,351.88 306.50,352.47 306.70,353.30 C306.90,354.13 307.08,355.13 307.20,356.30 C307.32,357.47 307.37,358.97 307.40,360.30 C307.43,361.63 307.45,362.97 307.40,364.30 C307.35,365.63 307.25,367.13 307.10,368.30 C306.95,369.47 306.78,370.38 306.50,371.30 C306.22,372.22 305.83,373.17 305.40,373.80 C304.97,374.43 304.40,374.82 303.90,375.10 C303.40,375.38 302.90,375.50 302.40,375.50 C301.90,375.50 301.40,375.38 300.90,375.10 C300.40,374.82 299.83,374.43 299.40,373.80 C298.97,373.17 298.58,372.22 298.30,371.30 C298.02,370.38 297.85,369.47 297.70,368.30 C297.55,367.13 297.45,365.63 297.40,364.30 C297.35,362.97 297.37,361.63 297.40,360.30 C297.43,358.97 297.48,357.47 297.60,356.30 C297.72,355.13 297.90,354.13 298.10,353.30 C298.30,352.47 298.52,351.88 298.80,351.30 C299.08,350.72 299.52,350.30 299.80,349.80 C300.08,349.30 300.30,348.88 300.50,348.30 C300.70,347.72 300.82,346.97 301.00,346.30 C301.18,345.63 301.37,344.97 301.60,344.30 C301.83,343.63 302.13,342.30 302.40,342.30 Z" fill="url(#mg)" filter="url(#mtex)"/>
<ellipse cx="301.40" cy="358.30" rx="4.38" ry="4.38" fill="#7c70f0" opacity="0.35" filter="url(#bl)"/>
<ellipse cx="301.40" cy="358.30" rx="3.32" ry="1.12" fill="#2a1ae6" opacity="1.0" filter="url(#bl)"/>
<ellipse cx="301.40" cy="358.30" rx="3.32" ry="1.12" fill="#2a1ae6" opacity="1.0" transform="rotate(45 301.40 358.30)" filter="url(#bl)"/>
<ellipse cx="301.40" cy="358.30" rx="3.32" ry="1.12" fill="#2a1ae6" opacity="1.0" transform="rotate(90 301.40 358.30)" filter="url(#bl)"/>
<ellipse cx="301.40" cy="358.30" rx="3.32" ry="1.12" fill="#2a1ae6" opacity="1.0" transform="rotate(135 301.40 358.30)" filter="url(#bl)"/>
<ellipse cx="301.40" cy="358.30" rx="1.57" ry="1.57" fill="#2a1ae6" opacity="1.0" filter="url(#bl)"/>
<ellipse cx="297.40" cy="371.10" rx="2.88" ry="2.88" fill="#7c70f0" opacity="0.4" filter="url(#bl)"/>
<ellipse cx="297.40" cy="371.10" rx="2.30" ry="2.30" fill="#2a1ae6" opacity="1.0" filter="url(#bl)"/>
<ellipse cx="297.70" cy="370.90" rx="0.69" ry="0.69" fill="#b8b0ff" opacity="0.6" filter="url(#bl)"/>
<ellipse cx="307.60" cy="371.60" rx="2.88" ry="2.88" fill="#7c70f0" opacity="0.4" filter="url(#bl)"/>
<ellipse cx="307.60" cy="371.60" rx="2.30" ry="2.30" fill="#2a1ae6" opacity="1.0" filter="url(#bl)"/>
<ellipse cx="307.90" cy="371.40" rx="0.69" ry="0.69" fill="#b8b0ff" opacity="0.6" filter="url(#bl)"/>
<ellipse cx="302.40" cy="350.30" rx="1.50" ry="1.20" fill="#2a1ae6" opacity="1.0" filter="url(#bl)"/>
<line x1="315.50" y1="374.30" x2="315.80" y2="387.50" stroke="#b8b8b8" stroke-width="1.1"/>
<path d="M311.50,371.30 L309.20,375.80 L309.50,378.30" stroke="#aaa" stroke-width="1.1" fill="none"/>
<path d="M319.50,371.30 L321.80,375.80 L321.50,378.30" stroke="#aaa" stroke-width="1.1" fill="none"/>
<path d="M315.50,342.30 C315.77,342.30 316.07,343.63 316.30,344.30 C316.53,344.97 316.72,345.63 316.90,346.30 C317.08,346.97 317.20,347.72 317.40,348.30 C317.60,348.88 317.82,349.30 318.10,349.80 C318.38,350.30 318.82,350.72 319.10,351.30 C319.38,351.88 319.60,352.47 319.80,353.30 C320.00,354.13 320.18,355.13 320.30,356.30 C320.42,357.47 320.47,358.97 320.50,360.30 C320.53,361.63 320.55,362.97 320.50,364.30 C320.45,365.63 320.35,367.13 320.20,368.30 C320.05,369.47 319.88,370.38 319.60,371.30 C319.32,372.22 318.93,373.17 318.50,373.80 C318.07,374.43 317.50,374.82 317.00,375.10 C316.50,375.38 316.00,375.50 315.50,375.50 C315.00,375.50 314.50,375.38 314.00,375.10 C313.50,374.82 312.93,374.43 312.50,373.80 C312.07,373.17 311.68,372.22 311.40,371.30 C311.12,370.38 310.95,369.47 310.80,368.30 C310.65,367.13 310.55,365.63 310.50,364.30 C310.45,362.97 310.47,361.63 310.50,360.30 C310.53,358.97 310.58,357.47 310.70,356.30 C310.82,355.13 311.00,354.13 311.20,353.30 C311.40,352.47 311.62,351.88 311.90,351.30 C312.18,350.72 312.62,350.30 312.90,349.80 C313.18,349.30 313.40,348.88 313.60,348.30 C313.80,347.72 313.92,346.97 314.10,346.30 C314.28,345.63 314.47,344.97 314.70,344.30 C314.93,343.63 315.23,342.30 315.50,342.30 Z" fill="url(#mg)" filter="url(#mtex)"/>
<ellipse cx="314.50" cy="358.30" rx="4.38" ry="4.38" fill="#7c70f0" opacity="0.35" filter="url(#bl)"/>
<ellipse cx="314.50" cy="358.30" rx="3.32" ry="1.12" fill="#2a1ae6" opacity="1.0" filter="url(#bl)"/>
<ellipse cx="314.50" cy="358.30" rx="3.32" ry="1.12" fill="#2a1ae6" opacity="1.0" transform="rotate(45 314.50 358.30)" filter="url(#bl)"/>
<ellipse cx="314.50" cy="358.30" rx="3.32" ry="1.12" fill="#2a1ae6" opacity="1.0" transform="rotate(90 314.50 358.30)" filter="url(#bl)"/>
<ellipse cx="314.50" cy="358.30" rx="3.32" ry="1.12" fill="#2a1ae6" opacity="1.0" transform="rotate(135 314.50 358.30)" filter="url(#bl)"/>
<ellipse cx="314.50" cy="358.30" rx="1.57" ry="1.57" fill="#2a1ae6" opacity="1.0" filter="url(#bl)"/>
<ellipse cx="310.50" cy="371.10" rx="2.88" ry="2.88" fill="#7c70f0" opacity="0.4" filter="url(#bl)"/>
<ellipse cx="310.50" cy="371.10" rx="2.30" ry="2.30" fill="#2a1ae6" opacity="1.0" filter="url(#bl)"/>
<ellipse cx="310.80" cy="370.90" rx="0.69" ry="0.69" fill="#b8b0ff" opacity="0.6" filter="url(#bl)"/>
<ellipse cx="320.70" cy="371.60" rx="2.88" ry="2.88" fill="#7c70f0" opacity="0.4" filter="url(#bl)"/>
<ellipse cx="320.70" cy="371.60" rx="2.30" ry="2.30" fill="#2a1ae6" opacity="1.0" filter="url(#bl)"/>
<ellipse cx="321.00" cy="371.40" rx="0.69" ry="0.69" fill="#b8b0ff" opacity="0.6" filter="url(#bl)"/>
<line x1="329.50" y1="374.30" x2="329.80" y2="387.50" stroke="#b8b8b8" stroke-width="1.1"/>
<path d="M325.50,371.30 L323.20,375.80 L323.50,378.30" stroke="#aaa" stroke-width="1.1" fill="none"/>
<path d="M333.50,371.30 L335.80,375.80 L335.50,378.30" stroke="#aaa" stroke-width="1.1" fill="none"/>
<path d="M329.50,342.30 C329.77,342.30 330.07,343.63 330.30,344.30 C330.53,344.97 330.72,345.63 330.90,346.30 C331.08,346.97 331.20,347.72 331.40,348.30 C331.60,348.88 331.82,349.30 332.10,349.80 C332.38,350.30 332.82,350.72 333.10,351.30 C333.38,351.88 333.60,352.47 333.80,353.30 C334.00,354.13 334.18,355.13 334.30,356.30 C334.42,357.47 334.47,358.97 334.50,360.30 C334.53,361.63 334.55,362.97 334.50,364.30 C334.45,365.63 334.35,367.13 334.20,368.30 C334.05,369.47 333.88,370.38 333.60,371.30 C333.32,372.22 332.93,373.17 332.50,373.80 C332.07,374.43 331.50,374.82 331.00,375.10 C330.50,375.38 330.00,375.50 329.50,375.50 C329.00,375.50 328.50,375.38 328.00,375.10 C327.50,374.82 326.93,374.43 326.50,373.80 C326.07,373.17 325.68,372.22 325.40,371.30 C325.12,370.38 324.95,369.47 324.80,368.30 C324.65,367.13 324.55,365.63 324.50,364.30 C324.45,362.97 324.47,361.63 324.50,360.30 C324.53,358.97 324.58,357.47 324.70,356.30 C324.82,355.13 325.00,354.13 325.20,353.30 C325.40,352.47 325.62,351.88 325.90,351.30 C326.18,350.72 326.62,350.30 326.90,349.80 C327.18,349.30 327.40,348.88 327.60,348.30 C327.80,347.72 327.92,346.97 328.10,346.30 C328.28,345.63 328.47,344.97 328.70,344.30 C328.93,343.63 329.23,342.30 329.50,342.30 Z" fill="url(#mg)" filter="url(#mtex)"/>
<ellipse cx="329.50" cy="357.30" rx="5.00" ry="5.00" fill="#7c70f0" opacity="0.35" filter="url(#bl)"/>
<ellipse cx="329.50" cy="357.30" rx="3.80" ry="1.28" fill="#2a1ae6" opacity="1.0" filter="url(#bl)"/>
<ellipse cx="329.50" cy="357.30" rx="3.80" ry="1.28" fill="#2a1ae6" opacity="1.0" transform="rotate(45 329.50 357.30)" filter="url(#bl)"/>
<ellipse cx="329.50" cy="357.30" rx="3.80" ry="1.28" fill="#2a1ae6" opacity="1.0" transform="rotate(90 329.50 357.30)" filter="url(#bl)"/>
<ellipse cx="329.50" cy="357.30" rx="3.80" ry="1.28" fill="#2a1ae6" opacity="1.0" transform="rotate(135 329.50 357.30)" filter="url(#bl)"/>
<ellipse cx="329.50" cy="357.30" rx="1.80" ry="1.80" fill="#2a1ae6" opacity="1.0" filter="url(#bl)"/>
<ellipse cx="324.50" cy="371.10" rx="2.88" ry="2.88" fill="#7c70f0" opacity="0.4" filter="url(#bl)"/>
<ellipse cx="324.50" cy="371.10" rx="2.30" ry="2.30" fill="#2a1ae6" opacity="1.0" filter="url(#bl)"/>
<ellipse cx="324.80" cy="370.90" rx="0.69" ry="0.69" fill="#b8b0ff" opacity="0.6" filter="url(#bl)"/>
<ellipse cx="334.70" cy="371.60" rx="2.88" ry="2.88" fill="#7c70f0" opacity="0.4" filter="url(#bl)"/>
<ellipse cx="334.70" cy="371.60" rx="2.30" ry="2.30" fill="#2a1ae6" opacity="1.0" filter="url(#bl)"/>
<ellipse cx="335.00" cy="371.40" rx="0.69" ry="0.69" fill="#b8b0ff" opacity="0.6" filter="url(#bl)"/>
</svg>
<rect x="268.4" y="341.4" width="69.2" height="44.7" fill="none" stroke="#2c2c2c" stroke-width="0.8"/>
<rect x="338" y="341" width="2" height="45.5" fill="#bdbdbd"/>
<rect x="268" y="391" width="70" height="44.5" fill="#454545"/>
<rect x="268" y="391" width="70" height="44.5" fill="url(#vstripe)" opacity="0.25"/>
<svg x="268" y="391" width="70" height="44.5" viewBox="268 391 70 44.5" overflow="hidden">
<line x1="276.90" y1="425.20" x2="277.20" y2="436.50" stroke="#b8b8b8" stroke-width="1.1"/>
<path d="M272.30,422.20 L269.65,426.70 L270.00,429.20" stroke="#aaa" stroke-width="1.1" fill="none"/>
<path d="M281.50,422.20 L284.14,426.70 L283.80,429.20" stroke="#aaa" stroke-width="1.1" fill="none"/>
<path d="M276.90,393.20 C277.21,393.20 277.55,394.53 277.82,395.20 C278.09,395.87 278.30,396.53 278.51,397.20 C278.72,397.87 278.85,398.62 279.08,399.20 C279.31,399.78 279.56,400.20 279.89,400.70 C280.22,401.20 280.71,401.62 281.04,402.20 C281.37,402.78 281.61,403.37 281.84,404.20 C282.07,405.03 282.29,406.03 282.42,407.20 C282.55,408.37 282.61,409.87 282.65,411.20 C282.69,412.53 282.71,413.87 282.65,415.20 C282.59,416.53 282.48,418.03 282.30,419.20 C282.13,420.37 281.94,421.28 281.61,422.20 C281.29,423.12 280.85,424.07 280.35,424.70 C279.85,425.33 279.20,425.72 278.62,426.00 C278.05,426.28 277.47,426.40 276.90,426.40 C276.32,426.40 275.75,426.28 275.17,426.00 C274.60,425.72 273.95,425.33 273.45,424.70 C272.95,424.07 272.51,423.12 272.19,422.20 C271.86,421.28 271.67,420.37 271.50,419.20 C271.32,418.03 271.21,416.53 271.15,415.20 C271.09,413.87 271.11,412.53 271.15,411.20 C271.19,409.87 271.25,408.37 271.38,407.20 C271.51,406.03 271.72,405.03 271.95,404.20 C272.19,403.37 272.43,402.78 272.76,402.20 C273.09,401.62 273.58,401.20 273.91,400.70 C274.24,400.20 274.48,399.78 274.71,399.20 C274.94,398.62 275.08,397.87 275.29,397.20 C275.50,396.53 275.71,395.87 275.98,395.20 C276.25,394.53 276.59,393.20 276.90,393.20 Z" fill="url(#mg2)" filter="url(#mtex)"/>
<line x1="289.90" y1="425.20" x2="290.20" y2="436.50" stroke="#b8b8b8" stroke-width="1.1"/>
<path d="M285.90,422.20 L283.60,426.70 L283.90,429.20" stroke="#aaa" stroke-width="1.1" fill="none"/>
<path d="M293.90,422.20 L296.20,426.70 L295.90,429.20" stroke="#aaa" stroke-width="1.1" fill="none"/>
<path d="M289.90,393.20 C290.17,393.20 290.47,394.53 290.70,395.20 C290.93,395.87 291.12,396.53 291.30,397.20 C291.48,397.87 291.60,398.62 291.80,399.20 C292.00,399.78 292.22,400.20 292.50,400.70 C292.78,401.20 293.22,401.62 293.50,402.20 C293.78,402.78 294.00,403.37 294.20,404.20 C294.40,405.03 294.58,406.03 294.70,407.20 C294.82,408.37 294.87,409.87 294.90,411.20 C294.93,412.53 294.95,413.87 294.90,415.20 C294.85,416.53 294.75,418.03 294.60,419.20 C294.45,420.37 294.28,421.28 294.00,422.20 C293.72,423.12 293.33,424.07 292.90,424.70 C292.47,425.33 291.90,425.72 291.40,426.00 C290.90,426.28 290.40,426.40 289.90,426.40 C289.40,426.40 288.90,426.28 288.40,426.00 C287.90,425.72 287.33,425.33 286.90,424.70 C286.47,424.07 286.08,423.12 285.80,422.20 C285.52,421.28 285.35,420.37 285.20,419.20 C285.05,418.03 284.95,416.53 284.90,415.20 C284.85,413.87 284.87,412.53 284.90,411.20 C284.93,409.87 284.98,408.37 285.10,407.20 C285.22,406.03 285.40,405.03 285.60,404.20 C285.80,403.37 286.02,402.78 286.30,402.20 C286.58,401.62 287.02,401.20 287.30,400.70 C287.58,400.20 287.80,399.78 288.00,399.20 C288.20,398.62 288.32,397.87 288.50,397.20 C288.68,396.53 288.87,395.87 289.10,395.20 C289.33,394.53 289.63,393.20 289.90,393.20 Z" fill="url(#mg)" filter="url(#mtex)"/>
<ellipse cx="289.90" cy="410.20" rx="2.08" ry="3.00" fill="#7c70f0" opacity="0.45" filter="url(#bl)"/>
<ellipse cx="289.90" cy="410.20" rx="1.30" ry="2.00" fill="#2a1ae6" opacity="1.0" filter="url(#bl)"/>
<ellipse cx="285.40" cy="422.70" rx="3.20" ry="3.00" fill="#7c70f0" opacity="0.45" filter="url(#bl)"/>
<ellipse cx="285.40" cy="422.70" rx="2.00" ry="2.00" fill="#2a1ae6" opacity="1.0" filter="url(#bl)"/>
<ellipse cx="294.90" cy="422.20" rx="2.88" ry="3.00" fill="#7c70f0" opacity="0.45" filter="url(#bl)"/>
<ellipse cx="294.90" cy="422.20" rx="1.80" ry="2.00" fill="#2a1ae6" opacity="1.0" filter="url(#bl)"/>
<line x1="303.20" y1="425.20" x2="303.50" y2="436.50" stroke="#b8b8b8" stroke-width="1.1"/>
<path d="M299.20,422.20 L296.90,426.70 L297.20,429.20" stroke="#aaa" stroke-width="1.1" fill="none"/>
<path d="M307.20,422.20 L309.50,426.70 L309.20,429.20" stroke="#aaa" stroke-width="1.1" fill="none"/>
<path d="M303.20,393.20 C303.47,393.20 303.77,394.53 304.00,395.20 C304.23,395.87 304.42,396.53 304.60,397.20 C304.78,397.87 304.90,398.62 305.10,399.20 C305.30,399.78 305.52,400.20 305.80,400.70 C306.08,401.20 306.52,401.62 306.80,402.20 C307.08,402.78 307.30,403.37 307.50,404.20 C307.70,405.03 307.88,406.03 308.00,407.20 C308.12,408.37 308.17,409.87 308.20,411.20 C308.23,412.53 308.25,413.87 308.20,415.20 C308.15,416.53 308.05,418.03 307.90,419.20 C307.75,420.37 307.58,421.28 307.30,422.20 C307.02,423.12 306.63,424.07 306.20,424.70 C305.77,425.33 305.20,425.72 304.70,426.00 C304.20,426.28 303.70,426.40 303.20,426.40 C302.70,426.40 302.20,426.28 301.70,426.00 C301.20,425.72 300.63,425.33 300.20,424.70 C299.77,424.07 299.38,423.12 299.10,422.20 C298.82,421.28 298.65,420.37 298.50,419.20 C298.35,418.03 298.25,416.53 298.20,415.20 C298.15,413.87 298.17,412.53 298.20,411.20 C298.23,409.87 298.28,408.37 298.40,407.20 C298.52,406.03 298.70,405.03 298.90,404.20 C299.10,403.37 299.32,402.78 299.60,402.20 C299.88,401.62 300.32,401.20 300.60,400.70 C300.88,400.20 301.10,399.78 301.30,399.20 C301.50,398.62 301.62,397.87 301.80,397.20 C301.98,396.53 302.17,395.87 302.40,395.20 C302.63,394.53 302.93,393.20 303.20,393.20 Z" fill="url(#mg)" filter="url(#mtex)"/>
<ellipse cx="303.20" cy="409.20" rx="1.60" ry="3.75" fill="#7c70f0" opacity="0.45" filter="url(#bl)"/>
<ellipse cx="303.20" cy="409.20" rx="1.00" ry="2.50" fill="#2a1ae6" opacity="1.0" filter="url(#bl)"/>
<ellipse cx="298.20" cy="423.20" rx="3.68" ry="3.45" fill="#7c70f0" opacity="0.45" filter="url(#bl)"/>
<ellipse cx="298.20" cy="423.20" rx="2.30" ry="2.30" fill="#2a1ae6" opacity="1.0" filter="url(#bl)"/>
<ellipse cx="308.20" cy="424.20" rx="3.20" ry="3.00" fill="#7c70f0" opacity="0.45" filter="url(#bl)"/>
<ellipse cx="308.20" cy="424.20" rx="2.00" ry="2.00" fill="#2a1ae6" opacity="1.0" filter="url(#bl)"/>
<line x1="316.10" y1="425.20" x2="316.40" y2="436.50" stroke="#b8b8b8" stroke-width="1.1"/>
<path d="M312.10,422.20 L309.80,426.70 L310.10,429.20" stroke="#aaa" stroke-width="1.1" fill="none"/>
<path d="M320.10,422.20 L322.40,426.70 L322.10,429.20" stroke="#aaa" stroke-width="1.1" fill="none"/>
<path d="M316.10,393.20 C316.37,393.20 316.67,394.53 316.90,395.20 C317.13,395.87 317.32,396.53 317.50,397.20 C317.68,397.87 317.80,398.62 318.00,399.20 C318.20,399.78 318.42,400.20 318.70,400.70 C318.98,401.20 319.42,401.62 319.70,402.20 C319.98,402.78 320.20,403.37 320.40,404.20 C320.60,405.03 320.78,406.03 320.90,407.20 C321.02,408.37 321.07,409.87 321.10,411.20 C321.13,412.53 321.15,413.87 321.10,415.20 C321.05,416.53 320.95,418.03 320.80,419.20 C320.65,420.37 320.48,421.28 320.20,422.20 C319.92,423.12 319.53,424.07 319.10,424.70 C318.67,425.33 318.10,425.72 317.60,426.00 C317.10,426.28 316.60,426.40 316.10,426.40 C315.60,426.40 315.10,426.28 314.60,426.00 C314.10,425.72 313.53,425.33 313.10,424.70 C312.67,424.07 312.28,423.12 312.00,422.20 C311.72,421.28 311.55,420.37 311.40,419.20 C311.25,418.03 311.15,416.53 311.10,415.20 C311.05,413.87 311.07,412.53 311.10,411.20 C311.13,409.87 311.18,408.37 311.30,407.20 C311.42,406.03 311.60,405.03 311.80,404.20 C312.00,403.37 312.22,402.78 312.50,402.20 C312.78,401.62 313.22,401.20 313.50,400.70 C313.78,400.20 314.00,399.78 314.20,399.20 C314.40,398.62 314.52,397.87 314.70,397.20 C314.88,396.53 315.07,395.87 315.30,395.20 C315.53,394.53 315.83,393.20 316.10,393.20 Z" fill="url(#mg)" filter="url(#mtex)"/>
<ellipse cx="316.10" cy="409.20" rx="1.60" ry="3.00" fill="#7c70f0" opacity="0.45" filter="url(#bl)"/>
<ellipse cx="316.10" cy="409.20" rx="1.00" ry="2.00" fill="#2a1ae6" opacity="1.0" filter="url(#bl)"/>
<ellipse cx="311.60" cy="422.20" rx="3.20" ry="3.00" fill="#7c70f0" opacity="0.45" filter="url(#bl)"/>
<ellipse cx="311.60" cy="422.20" rx="2.00" ry="2.00" fill="#2a1ae6" opacity="1.0" filter="url(#bl)"/>
<ellipse cx="320.60" cy="422.70" rx="2.88" ry="2.70" fill="#7c70f0" opacity="0.45" filter="url(#bl)"/>
<ellipse cx="320.60" cy="422.70" rx="1.80" ry="1.80" fill="#2a1ae6" opacity="1.0" filter="url(#bl)"/>
<line x1="329.50" y1="425.20" x2="329.80" y2="436.50" stroke="#b8b8b8" stroke-width="1.1"/>
<path d="M325.50,422.20 L323.20,426.70 L323.50,429.20" stroke="#aaa" stroke-width="1.1" fill="none"/>
<path d="M333.50,422.20 L335.80,426.70 L335.50,429.20" stroke="#aaa" stroke-width="1.1" fill="none"/>
<path d="M329.50,393.20 C329.77,393.20 330.07,394.53 330.30,395.20 C330.53,395.87 330.72,396.53 330.90,397.20 C331.08,397.87 331.20,398.62 331.40,399.20 C331.60,399.78 331.82,400.20 332.10,400.70 C332.38,401.20 332.82,401.62 333.10,402.20 C333.38,402.78 333.60,403.37 333.80,404.20 C334.00,405.03 334.18,406.03 334.30,407.20 C334.42,408.37 334.47,409.87 334.50,411.20 C334.53,412.53 334.55,413.87 334.50,415.20 C334.45,416.53 334.35,418.03 334.20,419.20 C334.05,420.37 333.88,421.28 333.60,422.20 C333.32,423.12 332.93,424.07 332.50,424.70 C332.07,425.33 331.50,425.72 331.00,426.00 C330.50,426.28 330.00,426.40 329.50,426.40 C329.00,426.40 328.50,426.28 328.00,426.00 C327.50,425.72 326.93,425.33 326.50,424.70 C326.07,424.07 325.68,423.12 325.40,422.20 C325.12,421.28 324.95,420.37 324.80,419.20 C324.65,418.03 324.55,416.53 324.50,415.20 C324.45,413.87 324.47,412.53 324.50,411.20 C324.53,409.87 324.58,408.37 324.70,407.20 C324.82,406.03 325.00,405.03 325.20,404.20 C325.40,403.37 325.62,402.78 325.90,402.20 C326.18,401.62 326.62,401.20 326.90,400.70 C327.18,400.20 327.40,399.78 327.60,399.20 C327.80,398.62 327.92,397.87 328.10,397.20 C328.28,396.53 328.47,395.87 328.70,395.20 C328.93,394.53 329.23,393.20 329.50,393.20 Z" fill="url(#mg)" filter="url(#mtex)"/>
<ellipse cx="329.50" cy="408.20" rx="3.20" ry="6.75" fill="#7c70f0" opacity="0.45" filter="url(#bl)"/>
<ellipse cx="329.50" cy="408.20" rx="2.00" ry="4.50" fill="#2a1ae6" opacity="1.0" filter="url(#bl)"/>
<ellipse cx="325.50" cy="422.20" rx="3.20" ry="3.00" fill="#7c70f0" opacity="0.45" filter="url(#bl)"/>
<ellipse cx="325.50" cy="422.20" rx="2.00" ry="2.00" fill="#2a1ae6" opacity="1.0" filter="url(#bl)"/>
<ellipse cx="335.00" cy="422.20" rx="2.88" ry="2.70" fill="#7c70f0" opacity="0.45" filter="url(#bl)"/>
<ellipse cx="335.00" cy="422.20" rx="1.80" ry="1.80" fill="#2a1ae6" opacity="1.0" filter="url(#bl)"/>
</svg>
<rect x="268.4" y="391.4" width="69.2" height="43.7" fill="none" stroke="#2c2c2c" stroke-width="0.8"/>
<rect x="338" y="391" width="2" height="44.5" fill="#bdbdbd"/>
<text x="374.60" y="338.30" font-size="8.2" text-anchor="middle" font-weight="normal" fill="#2a2a2a" textLength="54.2" lengthAdjust="spacingAndGlyphs" style="stroke-width:0.12px">Dexamethasone</text>
<rect x="340" y="341" width="70" height="45.5" fill="#454545"/>
<rect x="340" y="341" width="70" height="45.5" fill="url(#vstripe)" opacity="0.25"/>
<svg x="340" y="341" width="70" height="45.5" viewBox="340 341 70 45.5" overflow="hidden">
<line x1="348.20" y1="374.30" x2="348.50" y2="387.50" stroke="#b8b8b8" stroke-width="1.1"/>
<path d="M344.20,371.30 L341.90,375.80 L342.20,378.30" stroke="#aaa" stroke-width="1.1" fill="none"/>
<path d="M352.20,371.30 L354.50,375.80 L354.20,378.30" stroke="#aaa" stroke-width="1.1" fill="none"/>
<path d="M348.20,342.30 C348.47,342.30 348.77,343.63 349.00,344.30 C349.23,344.97 349.42,345.63 349.60,346.30 C349.78,346.97 349.90,347.72 350.10,348.30 C350.30,348.88 350.52,349.30 350.80,349.80 C351.08,350.30 351.52,350.72 351.80,351.30 C352.08,351.88 352.30,352.47 352.50,353.30 C352.70,354.13 352.88,355.13 353.00,356.30 C353.12,357.47 353.17,358.97 353.20,360.30 C353.23,361.63 353.25,362.97 353.20,364.30 C353.15,365.63 353.05,367.13 352.90,368.30 C352.75,369.47 352.58,370.38 352.30,371.30 C352.02,372.22 351.63,373.17 351.20,373.80 C350.77,374.43 350.20,374.82 349.70,375.10 C349.20,375.38 348.70,375.50 348.20,375.50 C347.70,375.50 347.20,375.38 346.70,375.10 C346.20,374.82 345.63,374.43 345.20,373.80 C344.77,373.17 344.38,372.22 344.10,371.30 C343.82,370.38 343.65,369.47 343.50,368.30 C343.35,367.13 343.25,365.63 343.20,364.30 C343.15,362.97 343.17,361.63 343.20,360.30 C343.23,358.97 343.28,357.47 343.40,356.30 C343.52,355.13 343.70,354.13 343.90,353.30 C344.10,352.47 344.32,351.88 344.60,351.30 C344.88,350.72 345.32,350.30 345.60,349.80 C345.88,349.30 346.10,348.88 346.30,348.30 C346.50,347.72 346.62,346.97 346.80,346.30 C346.98,345.63 347.17,344.97 347.40,344.30 C347.63,343.63 347.93,342.30 348.20,342.30 Z" fill="url(#mg)" filter="url(#mtex)"/>
<ellipse cx="347.50" cy="357.30" rx="2.88" ry="4.50" fill="#7c70f0" opacity="0.45" filter="url(#bl)"/>
<ellipse cx="347.50" cy="357.30" rx="1.80" ry="3.00" fill="#2a1ae6" opacity="1.0" filter="url(#bl)"/>
<ellipse cx="343.00" cy="369.80" rx="3.68" ry="3.00" fill="#7c70f0" opacity="0.45" filter="url(#bl)"/>
<ellipse cx="343.00" cy="369.80" rx="2.30" ry="2.00" fill="#2a1ae6" opacity="1.0" filter="url(#bl)"/>
<ellipse cx="353.20" cy="369.80" rx="3.68" ry="3.00" fill="#7c70f0" opacity="0.45" filter="url(#bl)"/>
<ellipse cx="353.20" cy="369.80" rx="2.30" ry="2.00" fill="#2a1ae6" opacity="1.0" filter="url(#bl)"/>
<line x1="360.50" y1="374.30" x2="360.80" y2="387.50" stroke="#b8b8b8" stroke-width="1.1"/>
<path d="M356.50,371.30 L354.20,375.80 L354.50,378.30" stroke="#aaa" stroke-width="1.1" fill="none"/>
<path d="M364.50,371.30 L366.80,375.80 L366.50,378.30" stroke="#aaa" stroke-width="1.1" fill="none"/>
<path d="M360.50,342.30 C360.77,342.30 361.07,343.63 361.30,344.30 C361.53,344.97 361.72,345.63 361.90,346.30 C362.08,346.97 362.20,347.72 362.40,348.30 C362.60,348.88 362.82,349.30 363.10,349.80 C363.38,350.30 363.82,350.72 364.10,351.30 C364.38,351.88 364.60,352.47 364.80,353.30 C365.00,354.13 365.18,355.13 365.30,356.30 C365.42,357.47 365.47,358.97 365.50,360.30 C365.53,361.63 365.55,362.97 365.50,364.30 C365.45,365.63 365.35,367.13 365.20,368.30 C365.05,369.47 364.88,370.38 364.60,371.30 C364.32,372.22 363.93,373.17 363.50,373.80 C363.07,374.43 362.50,374.82 362.00,375.10 C361.50,375.38 361.00,375.50 360.50,375.50 C360.00,375.50 359.50,375.38 359.00,375.10 C358.50,374.82 357.93,374.43 357.50,373.80 C357.07,373.17 356.68,372.22 356.40,371.30 C356.12,370.38 355.95,369.47 355.80,368.30 C355.65,367.13 355.55,365.63 355.50,364.30 C355.45,362.97 355.47,361.63 355.50,360.30 C355.53,358.97 355.58,357.47 355.70,356.30 C355.82,355.13 356.00,354.13 356.20,353.30 C356.40,352.47 356.62,351.88 356.90,351.30 C357.18,350.72 357.62,350.30 357.90,349.80 C358.18,349.30 358.40,348.88 358.60,348.30 C358.80,347.72 358.92,346.97 359.10,346.30 C359.28,345.63 359.47,344.97 359.70,344.30 C359.93,343.63 360.23,342.30 360.50,342.30 Z" fill="url(#mg)" filter="url(#mtex)"/>
<ellipse cx="359.80" cy="357.80" rx="1.92" ry="3.75" fill="#7c70f0" opacity="0.45" filter="url(#bl)"/>
<ellipse cx="359.80" cy="357.80" rx="1.20" ry="2.50" fill="#2a1ae6" opacity="1.0" filter="url(#bl)"/>
<ellipse cx="355.50" cy="369.80" rx="3.20" ry="3.00" fill="#7c70f0" opacity="0.45" filter="url(#bl)"/>
<ellipse cx="355.50" cy="369.80" rx="2.00" ry="2.00" fill="#2a1ae6" opacity="1.0" filter="url(#bl)"/>
<line x1="373.50" y1="374.30" x2="373.80" y2="387.50" stroke="#b8b8b8" stroke-width="1.1"/>
<path d="M369.50,371.30 L367.20,375.80 L367.50,378.30" stroke="#aaa" stroke-width="1.1" fill="none"/>
<path d="M377.50,371.30 L379.80,375.80 L379.50,378.30" stroke="#aaa" stroke-width="1.1" fill="none"/>
<path d="M373.50,342.30 C373.77,342.30 374.07,343.63 374.30,344.30 C374.53,344.97 374.72,345.63 374.90,346.30 C375.08,346.97 375.20,347.72 375.40,348.30 C375.60,348.88 375.82,349.30 376.10,349.80 C376.38,350.30 376.82,350.72 377.10,351.30 C377.38,351.88 377.60,352.47 377.80,353.30 C378.00,354.13 378.18,355.13 378.30,356.30 C378.42,357.47 378.47,358.97 378.50,360.30 C378.53,361.63 378.55,362.97 378.50,364.30 C378.45,365.63 378.35,367.13 378.20,368.30 C378.05,369.47 377.88,370.38 377.60,371.30 C377.32,372.22 376.93,373.17 376.50,373.80 C376.07,374.43 375.50,374.82 375.00,375.10 C374.50,375.38 374.00,375.50 373.50,375.50 C373.00,375.50 372.50,375.38 372.00,375.10 C371.50,374.82 370.93,374.43 370.50,373.80 C370.07,373.17 369.68,372.22 369.40,371.30 C369.12,370.38 368.95,369.47 368.80,368.30 C368.65,367.13 368.55,365.63 368.50,364.30 C368.45,362.97 368.47,361.63 368.50,360.30 C368.53,358.97 368.58,357.47 368.70,356.30 C368.82,355.13 369.00,354.13 369.20,353.30 C369.40,352.47 369.62,351.88 369.90,351.30 C370.18,350.72 370.62,350.30 370.90,349.80 C371.18,349.30 371.40,348.88 371.60,348.30 C371.80,347.72 371.92,346.97 372.10,346.30 C372.28,345.63 372.47,344.97 372.70,344.30 C372.93,343.63 373.23,342.30 373.50,342.30 Z" fill="url(#mg)" filter="url(#mtex)"/>
<ellipse cx="373.00" cy="359.30" rx="3.75" ry="3.75" fill="#7c70f0" opacity="0.35" filter="url(#bl)"/>
<ellipse cx="373.00" cy="359.30" rx="2.85" ry="0.96" fill="#2a1ae6" opacity="1.0" filter="url(#bl)"/>
<ellipse cx="373.00" cy="359.30" rx="2.85" ry="0.96" fill="#2a1ae6" opacity="1.0" transform="rotate(45 373.00 359.30)" filter="url(#bl)"/>
<ellipse cx="373.00" cy="359.30" rx="2.85" ry="0.96" fill="#2a1ae6" opacity="1.0" transform="rotate(90 373.00 359.30)" filter="url(#bl)"/>
<ellipse cx="373.00" cy="359.30" rx="2.85" ry="0.96" fill="#2a1ae6" opacity="1.0" transform="rotate(135 373.00 359.30)" filter="url(#bl)"/>
<ellipse cx="373.00" cy="359.30" rx="1.35" ry="1.35" fill="#2a1ae6" opacity="1.0" filter="url(#bl)"/>
<ellipse cx="368.50" cy="371.10" rx="2.88" ry="2.88" fill="#7c70f0" opacity="0.4" filter="url(#bl)"/>
<ellipse cx="368.50" cy="371.10" rx="2.30" ry="2.30" fill="#2a1ae6" opacity="1.0" filter="url(#bl)"/>
<ellipse cx="368.80" cy="370.90" rx="0.69" ry="0.69" fill="#b8b0ff" opacity="0.6" filter="url(#bl)"/>
<ellipse cx="378.70" cy="371.60" rx="2.88" ry="2.88" fill="#7c70f0" opacity="0.4" filter="url(#bl)"/>
<ellipse cx="378.70" cy="371.60" rx="2.30" ry="2.30" fill="#2a1ae6" opacity="1.0" filter="url(#bl)"/>
<ellipse cx="379.00" cy="371.40" rx="0.69" ry="0.69" fill="#b8b0ff" opacity="0.6" filter="url(#bl)"/>
<line x1="387.10" y1="374.30" x2="387.40" y2="387.50" stroke="#b8b8b8" stroke-width="1.1"/>
<path d="M383.10,371.30 L380.80,375.80 L381.10,378.30" stroke="#aaa" stroke-width="1.1" fill="none"/>
<path d="M391.10,371.30 L393.40,375.80 L393.10,378.30" stroke="#aaa" stroke-width="1.1" fill="none"/>
<path d="M387.10,342.30 C387.37,342.30 387.67,343.63 387.90,344.30 C388.13,344.97 388.32,345.63 388.50,346.30 C388.68,346.97 388.80,347.72 389.00,348.30 C389.20,348.88 389.42,349.30 389.70,349.80 C389.98,350.30 390.42,350.72 390.70,351.30 C390.98,351.88 391.20,352.47 391.40,353.30 C391.60,354.13 391.78,355.13 391.90,356.30 C392.02,357.47 392.07,358.97 392.10,360.30 C392.13,361.63 392.15,362.97 392.10,364.30 C392.05,365.63 391.95,367.13 391.80,368.30 C391.65,369.47 391.48,370.38 391.20,371.30 C390.92,372.22 390.53,373.17 390.10,373.80 C389.67,374.43 389.10,374.82 388.60,375.10 C388.10,375.38 387.60,375.50 387.10,375.50 C386.60,375.50 386.10,375.38 385.60,375.10 C385.10,374.82 384.53,374.43 384.10,373.80 C383.67,373.17 383.28,372.22 383.00,371.30 C382.72,370.38 382.55,369.47 382.40,368.30 C382.25,367.13 382.15,365.63 382.10,364.30 C382.05,362.97 382.07,361.63 382.10,360.30 C382.13,358.97 382.18,357.47 382.30,356.30 C382.42,355.13 382.60,354.13 382.80,353.30 C383.00,352.47 383.22,351.88 383.50,351.30 C383.78,350.72 384.22,350.30 384.50,349.80 C384.78,349.30 385.00,348.88 385.20,348.30 C385.40,347.72 385.52,346.97 385.70,346.30 C385.88,345.63 386.07,344.97 386.30,344.30 C386.53,343.63 386.83,342.30 387.10,342.30 Z" fill="url(#mg)" filter="url(#mtex)"/>
<ellipse cx="387.10" cy="358.30" rx="4.75" ry="4.75" fill="#7c70f0" opacity="0.35" filter="url(#bl)"/>
<ellipse cx="387.10" cy="358.30" rx="3.61" ry="1.22" fill="#2a1ae6" opacity="1.0" filter="url(#bl)"/>
<ellipse cx="387.10" cy="358.30" rx="3.61" ry="1.22" fill="#2a1ae6" opacity="1.0" transform="rotate(45 387.10 358.30)" filter="url(#bl)"/>
<ellipse cx="387.10" cy="358.30" rx="3.61" ry="1.22" fill="#2a1ae6" opacity="1.0" transform="rotate(90 387.10 358.30)" filter="url(#bl)"/>
<ellipse cx="387.10" cy="358.30" rx="3.61" ry="1.22" fill="#2a1ae6" opacity="1.0" transform="rotate(135 387.10 358.30)" filter="url(#bl)"/>
<ellipse cx="387.10" cy="358.30" rx="1.71" ry="1.71" fill="#2a1ae6" opacity="1.0" filter="url(#bl)"/>
<ellipse cx="382.10" cy="371.10" rx="2.88" ry="2.88" fill="#7c70f0" opacity="0.4" filter="url(#bl)"/>
<ellipse cx="382.10" cy="371.10" rx="2.30" ry="2.30" fill="#2a1ae6" opacity="1.0" filter="url(#bl)"/>
<ellipse cx="382.40" cy="370.90" rx="0.69" ry="0.69" fill="#b8b0ff" opacity="0.6" filter="url(#bl)"/>
<ellipse cx="392.30" cy="371.60" rx="2.88" ry="2.88" fill="#7c70f0" opacity="0.4" filter="url(#bl)"/>
<ellipse cx="392.30" cy="371.60" rx="2.30" ry="2.30" fill="#2a1ae6" opacity="1.0" filter="url(#bl)"/>
<ellipse cx="392.60" cy="371.40" rx="0.69" ry="0.69" fill="#b8b0ff" opacity="0.6" filter="url(#bl)"/>
<line x1="401.50" y1="374.30" x2="401.80" y2="387.50" stroke="#b8b8b8" stroke-width="1.1"/>
<path d="M397.50,371.30 L395.20,375.80 L395.50,378.30" stroke="#aaa" stroke-width="1.1" fill="none"/>
<path d="M405.50,371.30 L407.80,375.80 L407.50,378.30" stroke="#aaa" stroke-width="1.1" fill="none"/>
<path d="M401.50,342.30 C401.77,342.30 402.07,343.63 402.30,344.30 C402.53,344.97 402.72,345.63 402.90,346.30 C403.08,346.97 403.20,347.72 403.40,348.30 C403.60,348.88 403.82,349.30 404.10,349.80 C404.38,350.30 404.82,350.72 405.10,351.30 C405.38,351.88 405.60,352.47 405.80,353.30 C406.00,354.13 406.18,355.13 406.30,356.30 C406.42,357.47 406.47,358.97 406.50,360.30 C406.53,361.63 406.55,362.97 406.50,364.30 C406.45,365.63 406.35,367.13 406.20,368.30 C406.05,369.47 405.88,370.38 405.60,371.30 C405.32,372.22 404.93,373.17 404.50,373.80 C404.07,374.43 403.50,374.82 403.00,375.10 C402.50,375.38 402.00,375.50 401.50,375.50 C401.00,375.50 400.50,375.38 400.00,375.10 C399.50,374.82 398.93,374.43 398.50,373.80 C398.07,373.17 397.68,372.22 397.40,371.30 C397.12,370.38 396.95,369.47 396.80,368.30 C396.65,367.13 396.55,365.63 396.50,364.30 C396.45,362.97 396.47,361.63 396.50,360.30 C396.53,358.97 396.58,357.47 396.70,356.30 C396.82,355.13 397.00,354.13 397.20,353.30 C397.40,352.47 397.62,351.88 397.90,351.30 C398.18,350.72 398.62,350.30 398.90,349.80 C399.18,349.30 399.40,348.88 399.60,348.30 C399.80,347.72 399.92,346.97 400.10,346.30 C400.28,345.63 400.47,344.97 400.70,344.30 C400.93,343.63 401.23,342.30 401.50,342.30 Z" fill="url(#mg)" filter="url(#mtex)"/>
<ellipse cx="401.00" cy="357.30" rx="5.25" ry="5.25" fill="#7c70f0" opacity="0.35" filter="url(#bl)"/>
<ellipse cx="401.00" cy="357.30" rx="3.99" ry="1.34" fill="#2a1ae6" opacity="1.0" filter="url(#bl)"/>
<ellipse cx="401.00" cy="357.30" rx="3.99" ry="1.34" fill="#2a1ae6" opacity="1.0" transform="rotate(45 401.00 357.30)" filter="url(#bl)"/>
<ellipse cx="401.00" cy="357.30" rx="3.99" ry="1.34" fill="#2a1ae6" opacity="1.0" transform="rotate(90 401.00 357.30)" filter="url(#bl)"/>
<ellipse cx="401.00" cy="357.30" rx="3.99" ry="1.34" fill="#2a1ae6" opacity="1.0" transform="rotate(135 401.00 357.30)" filter="url(#bl)"/>
<ellipse cx="401.00" cy="357.30" rx="1.89" ry="1.89" fill="#2a1ae6" opacity="1.0" filter="url(#bl)"/>
<ellipse cx="406.70" cy="371.60" rx="2.88" ry="2.88" fill="#7c70f0" opacity="0.4" filter="url(#bl)"/>
<ellipse cx="406.70" cy="371.60" rx="2.30" ry="2.30" fill="#2a1ae6" opacity="1.0" filter="url(#bl)"/>
<ellipse cx="407.00" cy="371.40" rx="0.69" ry="0.69" fill="#b8b0ff" opacity="0.6" filter="url(#bl)"/>
</svg>
<rect x="340.4" y="341.4" width="69.2" height="44.7" fill="none" stroke="#2c2c2c" stroke-width="0.8"/>
<rect x="410" y="341" width="2" height="45.5" fill="#bdbdbd"/>
<rect x="340" y="391" width="70" height="44.5" fill="#454545"/>
<rect x="340" y="391" width="70" height="44.5" fill="url(#vstripe)" opacity="0.25"/>
<svg x="340" y="391" width="70" height="44.5" viewBox="340 391 70 44.5" overflow="hidden">
<line x1="348.90" y1="425.20" x2="349.20" y2="436.50" stroke="#b8b8b8" stroke-width="1.1"/>
<path d="M344.90,422.20 L342.60,426.70 L342.90,429.20" stroke="#aaa" stroke-width="1.1" fill="none"/>
<path d="M352.90,422.20 L355.20,426.70 L354.90,429.20" stroke="#aaa" stroke-width="1.1" fill="none"/>
<path d="M348.90,393.20 C349.17,393.20 349.47,394.53 349.70,395.20 C349.93,395.87 350.12,396.53 350.30,397.20 C350.48,397.87 350.60,398.62 350.80,399.20 C351.00,399.78 351.22,400.20 351.50,400.70 C351.78,401.20 352.22,401.62 352.50,402.20 C352.78,402.78 353.00,403.37 353.20,404.20 C353.40,405.03 353.58,406.03 353.70,407.20 C353.82,408.37 353.87,409.87 353.90,411.20 C353.93,412.53 353.95,413.87 353.90,415.20 C353.85,416.53 353.75,418.03 353.60,419.20 C353.45,420.37 353.28,421.28 353.00,422.20 C352.72,423.12 352.33,424.07 351.90,424.70 C351.47,425.33 350.90,425.72 350.40,426.00 C349.90,426.28 349.40,426.40 348.90,426.40 C348.40,426.40 347.90,426.28 347.40,426.00 C346.90,425.72 346.33,425.33 345.90,424.70 C345.47,424.07 345.08,423.12 344.80,422.20 C344.52,421.28 344.35,420.37 344.20,419.20 C344.05,418.03 343.95,416.53 343.90,415.20 C343.85,413.87 343.87,412.53 343.90,411.20 C343.93,409.87 343.98,408.37 344.10,407.20 C344.22,406.03 344.40,405.03 344.60,404.20 C344.80,403.37 345.02,402.78 345.30,402.20 C345.58,401.62 346.02,401.20 346.30,400.70 C346.58,400.20 346.80,399.78 347.00,399.20 C347.20,398.62 347.32,397.87 347.50,397.20 C347.68,396.53 347.87,395.87 348.10,395.20 C348.33,394.53 348.63,393.20 348.90,393.20 Z" fill="url(#mg)" filter="url(#mtex)"/>
<ellipse cx="354.40" cy="421.70" rx="3.20" ry="2.70" fill="#7c70f0" opacity="0.45" filter="url(#bl)"/>
<ellipse cx="354.40" cy="421.70" rx="2.00" ry="1.80" fill="#2a1ae6" opacity="1.0" filter="url(#bl)"/>
<line x1="361.90" y1="425.20" x2="362.20" y2="436.50" stroke="#b8b8b8" stroke-width="1.1"/>
<path d="M357.90,422.20 L355.60,426.70 L355.90,429.20" stroke="#aaa" stroke-width="1.1" fill="none"/>
<path d="M365.90,422.20 L368.20,426.70 L367.90,429.20" stroke="#aaa" stroke-width="1.1" fill="none"/>
<path d="M361.90,393.20 C362.17,393.20 362.47,394.53 362.70,395.20 C362.93,395.87 363.12,396.53 363.30,397.20 C363.48,397.87 363.60,398.62 363.80,399.20 C364.00,399.78 364.22,400.20 364.50,400.70 C364.78,401.20 365.22,401.62 365.50,402.20 C365.78,402.78 366.00,403.37 366.20,404.20 C366.40,405.03 366.58,406.03 366.70,407.20 C366.82,408.37 366.87,409.87 366.90,411.20 C366.93,412.53 366.95,413.87 366.90,415.20 C366.85,416.53 366.75,418.03 366.60,419.20 C366.45,420.37 366.28,421.28 366.00,422.20 C365.72,423.12 365.33,424.07 364.90,424.70 C364.47,425.33 363.90,425.72 363.40,426.00 C362.90,426.28 362.40,426.40 361.90,426.40 C361.40,426.40 360.90,426.28 360.40,426.00 C359.90,425.72 359.33,425.33 358.90,424.70 C358.47,424.07 358.08,423.12 357.80,422.20 C357.52,421.28 357.35,420.37 357.20,419.20 C357.05,418.03 356.95,416.53 356.90,415.20 C356.85,413.87 356.87,412.53 356.90,411.20 C356.93,409.87 356.98,408.37 357.10,407.20 C357.22,406.03 357.40,405.03 357.60,404.20 C357.80,403.37 358.02,402.78 358.30,402.20 C358.58,401.62 359.02,401.20 359.30,400.70 C359.58,400.20 359.80,399.78 360.00,399.20 C360.20,398.62 360.32,397.87 360.50,397.20 C360.68,396.53 360.87,395.87 361.10,395.20 C361.33,394.53 361.63,393.20 361.90,393.20 Z" fill="url(#mg)" filter="url(#mtex)"/>
<ellipse cx="356.90" cy="422.20" rx="2.40" ry="2.25" fill="#7c70f0" opacity="0.45" filter="url(#bl)"/>
<ellipse cx="356.90" cy="422.20" rx="1.50" ry="1.50" fill="#2a1ae6" opacity="1.0" filter="url(#bl)"/>
<line x1="375.50" y1="425.20" x2="375.80" y2="436.50" stroke="#b8b8b8" stroke-width="1.1"/>
<path d="M371.50,422.20 L369.20,426.70 L369.50,429.20" stroke="#aaa" stroke-width="1.1" fill="none"/>
<path d="M379.50,422.20 L381.80,426.70 L381.50,429.20" stroke="#aaa" stroke-width="1.1" fill="none"/>
<path d="M375.50,393.20 C375.77,393.20 376.07,394.53 376.30,395.20 C376.53,395.87 376.72,396.53 376.90,397.20 C377.08,397.87 377.20,398.62 377.40,399.20 C377.60,399.78 377.82,400.20 378.10,400.70 C378.38,401.20 378.82,401.62 379.10,402.20 C379.38,402.78 379.60,403.37 379.80,404.20 C380.00,405.03 380.18,406.03 380.30,407.20 C380.42,408.37 380.47,409.87 380.50,411.20 C380.53,412.53 380.55,413.87 380.50,415.20 C380.45,416.53 380.35,418.03 380.20,419.20 C380.05,420.37 379.88,421.28 379.60,422.20 C379.32,423.12 378.93,424.07 378.50,424.70 C378.07,425.33 377.50,425.72 377.00,426.00 C376.50,426.28 376.00,426.40 375.50,426.40 C375.00,426.40 374.50,426.28 374.00,426.00 C373.50,425.72 372.93,425.33 372.50,424.70 C372.07,424.07 371.68,423.12 371.40,422.20 C371.12,421.28 370.95,420.37 370.80,419.20 C370.65,418.03 370.55,416.53 370.50,415.20 C370.45,413.87 370.47,412.53 370.50,411.20 C370.53,409.87 370.58,408.37 370.70,407.20 C370.82,406.03 371.00,405.03 371.20,404.20 C371.40,403.37 371.62,402.78 371.90,402.20 C372.18,401.62 372.62,401.20 372.90,400.70 C373.18,400.20 373.40,399.78 373.60,399.20 C373.80,398.62 373.92,397.87 374.10,397.20 C374.28,396.53 374.47,395.87 374.70,395.20 C374.93,394.53 375.23,393.20 375.50,393.20 Z" fill="url(#mg)" filter="url(#mtex)"/>
<ellipse cx="373.50" cy="407.20" rx="1.00" ry="2.00" fill="#2a1ae6" opacity="1.0" filter="url(#bl)"/>
<ellipse cx="376.50" cy="409.20" rx="1.00" ry="1.50" fill="#2a1ae6" opacity="1.0" filter="url(#bl)"/>
<ellipse cx="371.50" cy="421.70" rx="3.20" ry="2.70" fill="#7c70f0" opacity="0.45" filter="url(#bl)"/>
<ellipse cx="371.50" cy="421.70" rx="2.00" ry="1.80" fill="#2a1ae6" opacity="1.0" filter="url(#bl)"/>
<ellipse cx="380.50" cy="421.20" rx="2.40" ry="2.25" fill="#7c70f0" opacity="0.45" filter="url(#bl)"/>
<ellipse cx="380.50" cy="421.20" rx="1.50" ry="1.50" fill="#2a1ae6" opacity="1.0" filter="url(#bl)"/>
<line x1="388.10" y1="425.20" x2="388.40" y2="436.50" stroke="#b8b8b8" stroke-width="1.1"/>
<path d="M384.10,422.20 L381.80,426.70 L382.10,429.20" stroke="#aaa" stroke-width="1.1" fill="none"/>
<path d="M392.10,422.20 L394.40,426.70 L394.10,429.20" stroke="#aaa" stroke-width="1.1" fill="none"/>
<path d="M388.10,393.20 C388.37,393.20 388.67,394.53 388.90,395.20 C389.13,395.87 389.32,396.53 389.50,397.20 C389.68,397.87 389.80,398.62 390.00,399.20 C390.20,399.78 390.42,400.20 390.70,400.70 C390.98,401.20 391.42,401.62 391.70,402.20 C391.98,402.78 392.20,403.37 392.40,404.20 C392.60,405.03 392.78,406.03 392.90,407.20 C393.02,408.37 393.07,409.87 393.10,411.20 C393.13,412.53 393.15,413.87 393.10,415.20 C393.05,416.53 392.95,418.03 392.80,419.20 C392.65,420.37 392.48,421.28 392.20,422.20 C391.92,423.12 391.53,424.07 391.10,424.70 C390.67,425.33 390.10,425.72 389.60,426.00 C389.10,426.28 388.60,426.40 388.10,426.40 C387.60,426.40 387.10,426.28 386.60,426.00 C386.10,425.72 385.53,425.33 385.10,424.70 C384.67,424.07 384.28,423.12 384.00,422.20 C383.72,421.28 383.55,420.37 383.40,419.20 C383.25,418.03 383.15,416.53 383.10,415.20 C383.05,413.87 383.07,412.53 383.10,411.20 C383.13,409.87 383.18,408.37 383.30,407.20 C383.42,406.03 383.60,405.03 383.80,404.20 C384.00,403.37 384.22,402.78 384.50,402.20 C384.78,401.62 385.22,401.20 385.50,400.70 C385.78,400.20 386.00,399.78 386.20,399.20 C386.40,398.62 386.52,397.87 386.70,397.20 C386.88,396.53 387.07,395.87 387.30,395.20 C387.53,394.53 387.83,393.20 388.10,393.20 Z" fill="url(#mg)" filter="url(#mtex)"/>
<ellipse cx="388.10" cy="406.70" rx="1.92" ry="3.30" fill="#7c70f0" opacity="0.45" filter="url(#bl)"/>
<ellipse cx="388.10" cy="406.70" rx="1.20" ry="2.20" fill="#2a1ae6" opacity="1.0" filter="url(#bl)"/>
<ellipse cx="383.10" cy="421.70" rx="3.20" ry="3.00" fill="#7c70f0" opacity="0.45" filter="url(#bl)"/>
<ellipse cx="383.10" cy="421.70" rx="2.00" ry="2.00" fill="#2a1ae6" opacity="1.0" filter="url(#bl)"/>
<ellipse cx="393.60" cy="420.70" rx="2.88" ry="2.70" fill="#7c70f0" opacity="0.45" filter="url(#bl)"/>
<ellipse cx="393.60" cy="420.70" rx="1.80" ry="1.80" fill="#2a1ae6" opacity="1.0" filter="url(#bl)"/>
<line x1="402.20" y1="425.20" x2="402.50" y2="436.50" stroke="#b8b8b8" stroke-width="1.1"/>
<path d="M398.20,422.20 L395.90,426.70 L396.20,429.20" stroke="#aaa" stroke-width="1.1" fill="none"/>
<path d="M406.20,422.20 L408.50,426.70 L408.20,429.20" stroke="#aaa" stroke-width="1.1" fill="none"/>
<path d="M402.20,393.20 C402.47,393.20 402.77,394.53 403.00,395.20 C403.23,395.87 403.42,396.53 403.60,397.20 C403.78,397.87 403.90,398.62 404.10,399.20 C404.30,399.78 404.52,400.20 404.80,400.70 C405.08,401.20 405.52,401.62 405.80,402.20 C406.08,402.78 406.30,403.37 406.50,404.20 C406.70,405.03 406.88,406.03 407.00,407.20 C407.12,408.37 407.17,409.87 407.20,411.20 C407.23,412.53 407.25,413.87 407.20,415.20 C407.15,416.53 407.05,418.03 406.90,419.20 C406.75,420.37 406.58,421.28 406.30,422.20 C406.02,423.12 405.63,424.07 405.20,424.70 C404.77,425.33 404.20,425.72 403.70,426.00 C403.20,426.28 402.70,426.40 402.20,426.40 C401.70,426.40 401.20,426.28 400.70,426.00 C400.20,425.72 399.63,425.33 399.20,424.70 C398.77,424.07 398.38,423.12 398.10,422.20 C397.82,421.28 397.65,420.37 397.50,419.20 C397.35,418.03 397.25,416.53 397.20,415.20 C397.15,413.87 397.17,412.53 397.20,411.20 C397.23,409.87 397.28,408.37 397.40,407.20 C397.52,406.03 397.70,405.03 397.90,404.20 C398.10,403.37 398.32,402.78 398.60,402.20 C398.88,401.62 399.32,401.20 399.60,400.70 C399.88,400.20 400.10,399.78 400.30,399.20 C400.50,398.62 400.62,397.87 400.80,397.20 C400.98,396.53 401.17,395.87 401.40,395.20 C401.63,394.53 401.93,393.20 402.20,393.20 Z" fill="url(#mg)" filter="url(#mtex)"/>
<ellipse cx="401.20" cy="407.20" rx="5.00" ry="5.00" fill="#7c70f0" opacity="0.5" filter="url(#bl)"/>
<ellipse cx="401.20" cy="406.70" rx="3.50" ry="3.50" fill="#2a1ae6" opacity="1.0" filter="url(#bl)"/>
<ellipse cx="405.20" cy="404.20" rx="1.00" ry="1.00" fill="#2a1ae6" opacity="1.0" filter="url(#bl)"/>
<ellipse cx="407.50" cy="414.20" rx="1.50" ry="2.00" fill="#2a1ae6" opacity="1.0" filter="url(#bl)"/>
<ellipse cx="407.20" cy="421.20" rx="1.80" ry="2.00" fill="#2a1ae6" opacity="1.0" filter="url(#bl)"/>
</svg>
<rect x="340.4" y="391.4" width="69.2" height="43.7" fill="none" stroke="#2c2c2c" stroke-width="0.8"/>
<rect x="410" y="391" width="2" height="44.5" fill="#bdbdbd"/>
<text x="446.20" y="338.30" font-size="8.2" text-anchor="middle" font-weight="normal" fill="#2a2a2a" textLength="39" lengthAdjust="spacingAndGlyphs" style="stroke-width:0.12px">Dex + Ruxo</text>
<rect x="412" y="341" width="70" height="45.5" fill="#454545"/>
<rect x="412" y="341" width="70" height="45.5" fill="url(#vstripe)" opacity="0.25"/>
<svg x="412" y="341" width="70" height="45.5" viewBox="412 341 70 45.5" overflow="hidden">
<line x1="419.20" y1="374.30" x2="419.50" y2="387.50" stroke="#b8b8b8" stroke-width="1.1"/>
<path d="M415.20,371.30 L412.90,375.80 L413.20,378.30" stroke="#aaa" stroke-width="1.1" fill="none"/>
<path d="M423.20,371.30 L425.50,375.80 L425.20,378.30" stroke="#aaa" stroke-width="1.1" fill="none"/>
<path d="M419.20,342.30 C419.47,342.30 419.77,343.63 420.00,344.30 C420.23,344.97 420.42,345.63 420.60,346.30 C420.78,346.97 420.90,347.72 421.10,348.30 C421.30,348.88 421.52,349.30 421.80,349.80 C422.08,350.30 422.52,350.72 422.80,351.30 C423.08,351.88 423.30,352.47 423.50,353.30 C423.70,354.13 423.88,355.13 424.00,356.30 C424.12,357.47 424.17,358.97 424.20,360.30 C424.23,361.63 424.25,362.97 424.20,364.30 C424.15,365.63 424.05,367.13 423.90,368.30 C423.75,369.47 423.58,370.38 423.30,371.30 C423.02,372.22 422.63,373.17 422.20,373.80 C421.77,374.43 421.20,374.82 420.70,375.10 C420.20,375.38 419.70,375.50 419.20,375.50 C418.70,375.50 418.20,375.38 417.70,375.10 C417.20,374.82 416.63,374.43 416.20,373.80 C415.77,373.17 415.38,372.22 415.10,371.30 C414.82,370.38 414.65,369.47 414.50,368.30 C414.35,367.13 414.25,365.63 414.20,364.30 C414.15,362.97 414.17,361.63 414.20,360.30 C414.23,358.97 414.28,357.47 414.40,356.30 C414.52,355.13 414.70,354.13 414.90,353.30 C415.10,352.47 415.32,351.88 415.60,351.30 C415.88,350.72 416.32,350.30 416.60,349.80 C416.88,349.30 417.10,348.88 417.30,348.30 C417.50,347.72 417.62,346.97 417.80,346.30 C417.98,345.63 418.17,344.97 418.40,344.30 C418.63,343.63 418.93,342.30 419.20,342.30 Z" fill="url(#mg)" filter="url(#mtex)"/>
<ellipse cx="419.20" cy="356.00" rx="5.00" ry="5.00" fill="#7c70f0" opacity="0.35" filter="url(#bl)"/>
<ellipse cx="419.20" cy="356.00" rx="3.80" ry="1.28" fill="#2a1ae6" opacity="1.0" filter="url(#bl)"/>
<ellipse cx="419.20" cy="356.00" rx="3.80" ry="1.28" fill="#2a1ae6" opacity="1.0" transform="rotate(45 419.20 356.00)" filter="url(#bl)"/>
<ellipse cx="419.20" cy="356.00" rx="3.80" ry="1.28" fill="#2a1ae6" opacity="1.0" transform="rotate(90 419.20 356.00)" filter="url(#bl)"/>
<ellipse cx="419.20" cy="356.00" rx="3.80" ry="1.28" fill="#2a1ae6" opacity="1.0" transform="rotate(135 419.20 356.00)" filter="url(#bl)"/>
<ellipse cx="419.20" cy="356.00" rx="1.80" ry="1.80" fill="#2a1ae6" opacity="1.0" filter="url(#bl)"/>
<ellipse cx="414.20" cy="371.10" rx="2.88" ry="2.88" fill="#7c70f0" opacity="0.4" filter="url(#bl)"/>
<ellipse cx="414.20" cy="371.10" rx="2.30" ry="2.30" fill="#2a1ae6" opacity="1.0" filter="url(#bl)"/>
<ellipse cx="414.50" cy="370.90" rx="0.69" ry="0.69" fill="#b8b0ff" opacity="0.6" filter="url(#bl)"/>
<ellipse cx="424.40" cy="371.60" rx="2.88" ry="2.88" fill="#7c70f0" opacity="0.4" filter="url(#bl)"/>
<ellipse cx="424.40" cy="371.60" rx="2.30" ry="2.30" fill="#2a1ae6" opacity="1.0" filter="url(#bl)"/>
<ellipse cx="424.70" cy="371.40" rx="0.69" ry="0.69" fill="#b8b0ff" opacity="0.6" filter="url(#bl)"/>
<line x1="431.50" y1="374.30" x2="431.80" y2="387.50" stroke="#b8b8b8" stroke-width="1.1"/>
<path d="M427.50,371.30 L425.20,375.80 L425.50,378.30" stroke="#aaa" stroke-width="1.1" fill="none"/>
<path d="M435.50,371.30 L437.80,375.80 L437.50,378.30" stroke="#aaa" stroke-width="1.1" fill="none"/>
<path d="M431.50,342.30 C431.77,342.30 432.07,343.63 432.30,344.30 C432.53,344.97 432.72,345.63 432.90,346.30 C433.08,346.97 433.20,347.72 433.40,348.30 C433.60,348.88 433.82,349.30 434.10,349.80 C434.38,350.30 434.82,350.72 435.10,351.30 C435.38,351.88 435.60,352.47 435.80,353.30 C436.00,354.13 436.18,355.13 436.30,356.30 C436.42,357.47 436.47,358.97 436.50,360.30 C436.53,361.63 436.55,362.97 436.50,364.30 C436.45,365.63 436.35,367.13 436.20,368.30 C436.05,369.47 435.88,370.38 435.60,371.30 C435.32,372.22 434.93,373.17 434.50,373.80 C434.07,374.43 433.50,374.82 433.00,375.10 C432.50,375.38 432.00,375.50 431.50,375.50 C431.00,375.50 430.50,375.38 430.00,375.10 C429.50,374.82 428.93,374.43 428.50,373.80 C428.07,373.17 427.68,372.22 427.40,371.30 C427.12,370.38 426.95,369.47 426.80,368.30 C426.65,367.13 426.55,365.63 426.50,364.30 C426.45,362.97 426.47,361.63 426.50,360.30 C426.53,358.97 426.58,357.47 426.70,356.30 C426.82,355.13 427.00,354.13 427.20,353.30 C427.40,352.47 427.62,351.88 427.90,351.30 C428.18,350.72 428.62,350.30 428.90,349.80 C429.18,349.30 429.40,348.88 429.60,348.30 C429.80,347.72 429.92,346.97 430.10,346.30 C430.28,345.63 430.47,344.97 430.70,344.30 C430.93,343.63 431.23,342.30 431.50,342.30 Z" fill="url(#mg)" filter="url(#mtex)"/>
<ellipse cx="431.00" cy="357.80" rx="4.75" ry="4.75" fill="#7c70f0" opacity="0.35" filter="url(#bl)"/>
<ellipse cx="431.00" cy="357.80" rx="3.61" ry="1.22" fill="#2a1ae6" opacity="1.0" filter="url(#bl)"/>
<ellipse cx="431.00" cy="357.80" rx="3.61" ry="1.22" fill="#2a1ae6" opacity="1.0" transform="rotate(45 431.00 357.80)" filter="url(#bl)"/>
<ellipse cx="431.00" cy="357.80" rx="3.61" ry="1.22" fill="#2a1ae6" opacity="1.0" transform="rotate(90 431.00 357.80)" filter="url(#bl)"/>
<ellipse cx="431.00" cy="357.80" rx="3.61" ry="1.22" fill="#2a1ae6" opacity="1.0" transform="rotate(135 431.00 357.80)" filter="url(#bl)"/>
<ellipse cx="431.00" cy="357.80" rx="1.71" ry="1.71" fill="#2a1ae6" opacity="1.0" filter="url(#bl)"/>
<ellipse cx="426.50" cy="371.10" rx="2.88" ry="2.88" fill="#7c70f0" opacity="0.4" filter="url(#bl)"/>
<ellipse cx="426.50" cy="371.10" rx="2.30" ry="2.30" fill="#2a1ae6" opacity="1.0" filter="url(#bl)"/>
<ellipse cx="426.80" cy="370.90" rx="0.69" ry="0.69" fill="#b8b0ff" opacity="0.6" filter="url(#bl)"/>
<ellipse cx="436.70" cy="371.60" rx="2.88" ry="2.88" fill="#7c70f0" opacity="0.4" filter="url(#bl)"/>
<ellipse cx="436.70" cy="371.60" rx="2.30" ry="2.30" fill="#2a1ae6" opacity="1.0" filter="url(#bl)"/>
<ellipse cx="437.00" cy="371.40" rx="0.69" ry="0.69" fill="#b8b0ff" opacity="0.6" filter="url(#bl)"/>
<line x1="443.80" y1="374.30" x2="444.10" y2="387.50" stroke="#b8b8b8" stroke-width="1.1"/>
<path d="M439.80,371.30 L437.50,375.80 L437.80,378.30" stroke="#aaa" stroke-width="1.1" fill="none"/>
<path d="M447.80,371.30 L450.10,375.80 L449.80,378.30" stroke="#aaa" stroke-width="1.1" fill="none"/>
<path d="M443.80,342.30 C444.07,342.30 444.37,343.63 444.60,344.30 C444.83,344.97 445.02,345.63 445.20,346.30 C445.38,346.97 445.50,347.72 445.70,348.30 C445.90,348.88 446.12,349.30 446.40,349.80 C446.68,350.30 447.12,350.72 447.40,351.30 C447.68,351.88 447.90,352.47 448.10,353.30 C448.30,354.13 448.48,355.13 448.60,356.30 C448.72,357.47 448.77,358.97 448.80,360.30 C448.83,361.63 448.85,362.97 448.80,364.30 C448.75,365.63 448.65,367.13 448.50,368.30 C448.35,369.47 448.18,370.38 447.90,371.30 C447.62,372.22 447.23,373.17 446.80,373.80 C446.37,374.43 445.80,374.82 445.30,375.10 C444.80,375.38 444.30,375.50 443.80,375.50 C443.30,375.50 442.80,375.38 442.30,375.10 C441.80,374.82 441.23,374.43 440.80,373.80 C440.37,373.17 439.98,372.22 439.70,371.30 C439.42,370.38 439.25,369.47 439.10,368.30 C438.95,367.13 438.85,365.63 438.80,364.30 C438.75,362.97 438.77,361.63 438.80,360.30 C438.83,358.97 438.88,357.47 439.00,356.30 C439.12,355.13 439.30,354.13 439.50,353.30 C439.70,352.47 439.92,351.88 440.20,351.30 C440.48,350.72 440.92,350.30 441.20,349.80 C441.48,349.30 441.70,348.88 441.90,348.30 C442.10,347.72 442.22,346.97 442.40,346.30 C442.58,345.63 442.77,344.97 443.00,344.30 C443.23,343.63 443.53,342.30 443.80,342.30 Z" fill="url(#mg)" filter="url(#mtex)"/>
<ellipse cx="443.30" cy="358.30" rx="2.08" ry="3.75" fill="#7c70f0" opacity="0.45" filter="url(#bl)"/>
<ellipse cx="443.30" cy="358.30" rx="1.30" ry="2.50" fill="#2a1ae6" opacity="1.0" filter="url(#bl)"/>
<ellipse cx="438.80" cy="370.80" rx="3.68" ry="3.45" fill="#7c70f0" opacity="0.45" filter="url(#bl)"/>
<ellipse cx="438.80" cy="370.80" rx="2.30" ry="2.30" fill="#2a1ae6" opacity="1.0" filter="url(#bl)"/>
<ellipse cx="449.30" cy="371.80" rx="3.68" ry="3.45" fill="#7c70f0" opacity="0.45" filter="url(#bl)"/>
<ellipse cx="449.30" cy="371.80" rx="2.30" ry="2.30" fill="#2a1ae6" opacity="1.0" filter="url(#bl)"/>
<line x1="457.40" y1="374.30" x2="457.70" y2="387.50" stroke="#b8b8b8" stroke-width="1.1"/>
<path d="M453.40,371.30 L451.10,375.80 L451.40,378.30" stroke="#aaa" stroke-width="1.1" fill="none"/>
<path d="M461.40,371.30 L463.70,375.80 L463.40,378.30" stroke="#aaa" stroke-width="1.1" fill="none"/>
<path d="M457.40,342.30 C457.67,342.30 457.97,343.63 458.20,344.30 C458.43,344.97 458.62,345.63 458.80,346.30 C458.98,346.97 459.10,347.72 459.30,348.30 C459.50,348.88 459.72,349.30 460.00,349.80 C460.28,350.30 460.72,350.72 461.00,351.30 C461.28,351.88 461.50,352.47 461.70,353.30 C461.90,354.13 462.08,355.13 462.20,356.30 C462.32,357.47 462.37,358.97 462.40,360.30 C462.43,361.63 462.45,362.97 462.40,364.30 C462.35,365.63 462.25,367.13 462.10,368.30 C461.95,369.47 461.78,370.38 461.50,371.30 C461.22,372.22 460.83,373.17 460.40,373.80 C459.97,374.43 459.40,374.82 458.90,375.10 C458.40,375.38 457.90,375.50 457.40,375.50 C456.90,375.50 456.40,375.38 455.90,375.10 C455.40,374.82 454.83,374.43 454.40,373.80 C453.97,373.17 453.58,372.22 453.30,371.30 C453.02,370.38 452.85,369.47 452.70,368.30 C452.55,367.13 452.45,365.63 452.40,364.30 C452.35,362.97 452.37,361.63 452.40,360.30 C452.43,358.97 452.48,357.47 452.60,356.30 C452.72,355.13 452.90,354.13 453.10,353.30 C453.30,352.47 453.52,351.88 453.80,351.30 C454.08,350.72 454.52,350.30 454.80,349.80 C455.08,349.30 455.30,348.88 455.50,348.30 C455.70,347.72 455.82,346.97 456.00,346.30 C456.18,345.63 456.37,344.97 456.60,344.30 C456.83,343.63 457.13,342.30 457.40,342.30 Z" fill="url(#mg)" filter="url(#mtex)"/>
<ellipse cx="457.40" cy="356.80" rx="3.20" ry="5.25" fill="#7c70f0" opacity="0.45" filter="url(#bl)"/>
<ellipse cx="457.40" cy="356.80" rx="2.00" ry="3.50" fill="#2a1ae6" opacity="1.0" filter="url(#bl)"/>
<ellipse cx="462.40" cy="370.80" rx="3.68" ry="3.45" fill="#7c70f0" opacity="0.45" filter="url(#bl)"/>
<ellipse cx="462.40" cy="370.80" rx="2.30" ry="2.30" fill="#2a1ae6" opacity="1.0" filter="url(#bl)"/>
<ellipse cx="452.40" cy="371.80" rx="3.20" ry="3.00" fill="#7c70f0" opacity="0.45" filter="url(#bl)"/>
<ellipse cx="452.40" cy="371.80" rx="2.00" ry="2.00" fill="#2a1ae6" opacity="1.0" filter="url(#bl)"/>
<line x1="470.40" y1="374.30" x2="470.70" y2="387.50" stroke="#b8b8b8" stroke-width="1.1"/>
<path d="M466.40,371.30 L464.10,375.80 L464.40,378.30" stroke="#aaa" stroke-width="1.1" fill="none"/>
<path d="M474.40,371.30 L476.70,375.80 L476.40,378.30" stroke="#aaa" stroke-width="1.1" fill="none"/>
<path d="M470.40,342.30 C470.67,342.30 470.97,343.63 471.20,344.30 C471.43,344.97 471.62,345.63 471.80,346.30 C471.98,346.97 472.10,347.72 472.30,348.30 C472.50,348.88 472.72,349.30 473.00,349.80 C473.28,350.30 473.72,350.72 474.00,351.30 C474.28,351.88 474.50,352.47 474.70,353.30 C474.90,354.13 475.08,355.13 475.20,356.30 C475.32,357.47 475.37,358.97 475.40,360.30 C475.43,361.63 475.45,362.97 475.40,364.30 C475.35,365.63 475.25,367.13 475.10,368.30 C474.95,369.47 474.78,370.38 474.50,371.30 C474.22,372.22 473.83,373.17 473.40,373.80 C472.97,374.43 472.40,374.82 471.90,375.10 C471.40,375.38 470.90,375.50 470.40,375.50 C469.90,375.50 469.40,375.38 468.90,375.10 C468.40,374.82 467.83,374.43 467.40,373.80 C466.97,373.17 466.58,372.22 466.30,371.30 C466.02,370.38 465.85,369.47 465.70,368.30 C465.55,367.13 465.45,365.63 465.40,364.30 C465.35,362.97 465.37,361.63 465.40,360.30 C465.43,358.97 465.48,357.47 465.60,356.30 C465.72,355.13 465.90,354.13 466.10,353.30 C466.30,352.47 466.52,351.88 466.80,351.30 C467.08,350.72 467.52,350.30 467.80,349.80 C468.08,349.30 468.30,348.88 468.50,348.30 C468.70,347.72 468.82,346.97 469.00,346.30 C469.18,345.63 469.37,344.97 469.60,344.30 C469.83,343.63 470.13,342.30 470.40,342.30 Z" fill="url(#mg)" filter="url(#mtex)"/>
<ellipse cx="470.40" cy="356.30" rx="5.00" ry="5.00" fill="#7c70f0" opacity="0.35" filter="url(#bl)"/>
<ellipse cx="470.40" cy="356.30" rx="3.80" ry="1.28" fill="#2a1ae6" opacity="1.0" filter="url(#bl)"/>
<ellipse cx="470.40" cy="356.30" rx="3.80" ry="1.28" fill="#2a1ae6" opacity="1.0" transform="rotate(45 470.40 356.30)" filter="url(#bl)"/>
<ellipse cx="470.40" cy="356.30" rx="3.80" ry="1.28" fill="#2a1ae6" opacity="1.0" transform="rotate(90 470.40 356.30)" filter="url(#bl)"/>
<ellipse cx="470.40" cy="356.30" rx="3.80" ry="1.28" fill="#2a1ae6" opacity="1.0" transform="rotate(135 470.40 356.30)" filter="url(#bl)"/>
<ellipse cx="470.40" cy="356.30" rx="1.80" ry="1.80" fill="#2a1ae6" opacity="1.0" filter="url(#bl)"/>
<ellipse cx="465.40" cy="371.10" rx="2.88" ry="2.88" fill="#7c70f0" opacity="0.4" filter="url(#bl)"/>
<ellipse cx="465.40" cy="371.10" rx="2.30" ry="2.30" fill="#2a1ae6" opacity="1.0" filter="url(#bl)"/>
<ellipse cx="465.70" cy="370.90" rx="0.69" ry="0.69" fill="#b8b0ff" opacity="0.6" filter="url(#bl)"/>
<ellipse cx="475.60" cy="371.60" rx="2.88" ry="2.88" fill="#7c70f0" opacity="0.4" filter="url(#bl)"/>
<ellipse cx="475.60" cy="371.60" rx="2.30" ry="2.30" fill="#2a1ae6" opacity="1.0" filter="url(#bl)"/>
<ellipse cx="475.90" cy="371.40" rx="0.69" ry="0.69" fill="#b8b0ff" opacity="0.6" filter="url(#bl)"/>
</svg>
<rect x="412.4" y="341.4" width="69.2" height="44.7" fill="none" stroke="#2c2c2c" stroke-width="0.8"/>
<rect x="412" y="391" width="70" height="44.5" fill="#454545"/>
<rect x="412" y="391" width="70" height="44.5" fill="url(#vstripe)" opacity="0.25"/>
<svg x="412" y="391" width="70" height="44.5" viewBox="412 391 70 44.5" overflow="hidden">
<line x1="419.90" y1="426.44" x2="420.20" y2="436.50" stroke="#b8b8b8" stroke-width="1.1"/>
<path d="M415.82,423.38 L413.47,427.97 L413.78,430.52" stroke="#aaa" stroke-width="1.1" fill="none"/>
<path d="M423.98,423.38 L426.33,427.97 L426.02,430.52" stroke="#aaa" stroke-width="1.1" fill="none"/>
<path d="M419.90,393.80 C420.17,393.80 420.48,395.16 420.72,395.84 C420.95,396.52 421.14,397.20 421.33,397.88 C421.51,398.56 421.63,399.33 421.84,399.92 C422.04,400.51 422.26,400.94 422.55,401.45 C422.84,401.96 423.28,402.38 423.57,402.98 C423.86,403.58 424.08,404.17 424.29,405.02 C424.49,405.87 424.68,406.89 424.80,408.08 C424.91,409.27 424.97,410.80 425.00,412.16 C425.03,413.52 425.05,414.88 425.00,416.24 C424.95,417.60 424.85,419.13 424.69,420.32 C424.54,421.51 424.37,422.44 424.08,423.38 C423.79,424.31 423.40,425.28 422.96,425.93 C422.52,426.58 421.94,426.97 421.43,427.26 C420.92,427.55 420.41,427.66 419.90,427.66 C419.39,427.66 418.88,427.55 418.37,427.26 C417.86,426.97 417.28,426.58 416.84,425.93 C416.40,425.28 416.01,424.31 415.72,423.38 C415.43,422.44 415.26,421.51 415.11,420.32 C414.95,419.13 414.85,417.60 414.80,416.24 C414.75,414.88 414.77,413.52 414.80,412.16 C414.83,410.80 414.88,409.27 415.00,408.08 C415.12,406.89 415.31,405.87 415.51,405.02 C415.72,404.17 415.94,403.58 416.23,402.98 C416.52,402.38 416.96,401.96 417.25,401.45 C417.54,400.94 417.76,400.51 417.96,399.92 C418.17,399.33 418.28,398.56 418.47,397.88 C418.66,397.20 418.85,396.52 419.08,395.84 C419.32,395.16 419.63,393.80 419.90,393.80 Z" fill="url(#mg)" filter="url(#mtex)"/>
<line x1="432.90" y1="426.44" x2="433.20" y2="436.50" stroke="#b8b8b8" stroke-width="1.1"/>
<path d="M428.82,423.38 L426.47,427.97 L426.78,430.52" stroke="#aaa" stroke-width="1.1" fill="none"/>
<path d="M436.98,423.38 L439.33,427.97 L439.02,430.52" stroke="#aaa" stroke-width="1.1" fill="none"/>
<path d="M432.90,393.80 C433.17,393.80 433.48,395.16 433.72,395.84 C433.95,396.52 434.14,397.20 434.33,397.88 C434.51,398.56 434.63,399.33 434.84,399.92 C435.04,400.51 435.26,400.94 435.55,401.45 C435.84,401.96 436.28,402.38 436.57,402.98 C436.86,403.58 437.08,404.17 437.29,405.02 C437.49,405.87 437.68,406.89 437.80,408.08 C437.91,409.27 437.97,410.80 438.00,412.16 C438.03,413.52 438.05,414.88 438.00,416.24 C437.95,417.60 437.85,419.13 437.69,420.32 C437.54,421.51 437.37,422.44 437.08,423.38 C436.79,424.31 436.40,425.28 435.96,425.93 C435.52,426.58 434.94,426.97 434.43,427.26 C433.92,427.55 433.41,427.66 432.90,427.66 C432.39,427.66 431.88,427.55 431.37,427.26 C430.86,426.97 430.28,426.58 429.84,425.93 C429.40,425.28 429.01,424.31 428.72,423.38 C428.43,422.44 428.26,421.51 428.11,420.32 C427.95,419.13 427.85,417.60 427.80,416.24 C427.75,414.88 427.77,413.52 427.80,412.16 C427.83,410.80 427.88,409.27 428.00,408.08 C428.12,406.89 428.31,405.87 428.51,405.02 C428.72,404.17 428.94,403.58 429.23,402.98 C429.52,402.38 429.96,401.96 430.25,401.45 C430.54,400.94 430.76,400.51 430.96,399.92 C431.17,399.33 431.28,398.56 431.47,397.88 C431.66,397.20 431.85,396.52 432.08,395.84 C432.32,395.16 432.63,393.80 432.90,393.80 Z" fill="url(#mg)" filter="url(#mtex)"/>
<line x1="446.20" y1="426.44" x2="446.50" y2="436.50" stroke="#b8b8b8" stroke-width="1.1"/>
<path d="M442.12,423.38 L439.77,427.97 L440.08,430.52" stroke="#aaa" stroke-width="1.1" fill="none"/>
<path d="M450.28,423.38 L452.63,427.97 L452.32,430.52" stroke="#aaa" stroke-width="1.1" fill="none"/>
<path d="M446.20,393.80 C446.47,393.80 446.78,395.16 447.02,395.84 C447.25,396.52 447.44,397.20 447.63,397.88 C447.81,398.56 447.93,399.33 448.14,399.92 C448.34,400.51 448.56,400.94 448.85,401.45 C449.14,401.96 449.58,402.38 449.87,402.98 C450.16,403.58 450.38,404.17 450.59,405.02 C450.79,405.87 450.98,406.89 451.10,408.08 C451.22,409.27 451.27,410.80 451.30,412.16 C451.33,413.52 451.35,414.88 451.30,416.24 C451.25,417.60 451.15,419.13 450.99,420.32 C450.84,421.51 450.67,422.44 450.38,423.38 C450.09,424.31 449.70,425.28 449.26,425.93 C448.82,426.58 448.24,426.97 447.73,427.26 C447.22,427.55 446.71,427.66 446.20,427.66 C445.69,427.66 445.18,427.55 444.67,427.26 C444.16,426.97 443.58,426.58 443.14,425.93 C442.70,425.28 442.31,424.31 442.02,423.38 C441.73,422.44 441.56,421.51 441.41,420.32 C441.25,419.13 441.15,417.60 441.10,416.24 C441.05,414.88 441.07,413.52 441.10,412.16 C441.13,410.80 441.18,409.27 441.30,408.08 C441.42,406.89 441.61,405.87 441.81,405.02 C442.02,404.17 442.24,403.58 442.53,402.98 C442.82,402.38 443.26,401.96 443.55,401.45 C443.84,400.94 444.06,400.51 444.26,399.92 C444.47,399.33 444.58,398.56 444.77,397.88 C444.96,397.20 445.15,396.52 445.38,395.84 C445.62,395.16 445.93,393.80 446.20,393.80 Z" fill="url(#mg)" filter="url(#mtex)"/>
<line x1="459.50" y1="426.44" x2="459.80" y2="436.50" stroke="#b8b8b8" stroke-width="1.1"/>
<path d="M455.42,423.38 L453.07,427.97 L453.38,430.52" stroke="#aaa" stroke-width="1.1" fill="none"/>
<path d="M463.58,423.38 L465.93,427.97 L465.62,430.52" stroke="#aaa" stroke-width="1.1" fill="none"/>
<path d="M459.50,393.80 C459.77,393.80 460.08,395.16 460.32,395.84 C460.55,396.52 460.74,397.20 460.93,397.88 C461.12,398.56 461.23,399.33 461.44,399.92 C461.64,400.51 461.86,400.94 462.15,401.45 C462.44,401.96 462.88,402.38 463.17,402.98 C463.46,403.58 463.68,404.17 463.89,405.02 C464.09,405.87 464.28,406.89 464.40,408.08 C464.51,409.27 464.57,410.80 464.60,412.16 C464.63,413.52 464.65,414.88 464.60,416.24 C464.55,417.60 464.45,419.13 464.29,420.32 C464.14,421.51 463.97,422.44 463.68,423.38 C463.39,424.31 463.00,425.28 462.56,425.93 C462.12,426.58 461.54,426.97 461.03,427.26 C460.52,427.55 460.01,427.66 459.50,427.66 C458.99,427.66 458.48,427.55 457.97,427.26 C457.46,426.97 456.88,426.58 456.44,425.93 C456.00,425.28 455.61,424.31 455.32,423.38 C455.03,422.44 454.86,421.51 454.71,420.32 C454.55,419.13 454.45,417.60 454.40,416.24 C454.35,414.88 454.37,413.52 454.40,412.16 C454.43,410.80 454.49,409.27 454.60,408.08 C454.72,406.89 454.91,405.87 455.11,405.02 C455.32,404.17 455.54,403.58 455.83,402.98 C456.12,402.38 456.56,401.96 456.85,401.45 C457.14,400.94 457.36,400.51 457.56,399.92 C457.77,399.33 457.88,398.56 458.07,397.88 C458.26,397.20 458.45,396.52 458.68,395.84 C458.92,395.16 459.23,393.80 459.50,393.80 Z" fill="url(#mg)" filter="url(#mtex)"/>
</svg>
<rect x="412.4" y="391.4" width="69.2" height="43.7" fill="none" stroke="#2c2c2c" stroke-width="0.8"/>
<text x="0" y="0" font-size="8.1" text-anchor="middle" fill="#2a2a2a" textLength="26.9" lengthAdjust="spacingAndGlyphs" style="stroke-width:0.2px" transform="translate(192.00,364.00) rotate(-90)">Week 7</text>
<text x="0" y="0" font-size="8.1" text-anchor="middle" fill="#2a2a2a" textLength="32.2" lengthAdjust="spacingAndGlyphs" style="stroke-width:0.2px" transform="translate(192.00,412.80) rotate(-90)">Week 12</text>
<rect x="492.4" y="33.3" width="3.6" height="77.5" fill="url(#cbar)"/>
<line x1="496" y1="33.8" x2="498.6" y2="33.8" stroke="#222" stroke-width="0.9"/>
<text x="501.10" y="36.60" font-size="7.8" text-anchor="start" font-weight="normal" fill="#333" textLength="11.8" lengthAdjust="spacingAndGlyphs" style="stroke-width:0.05px">2.0</text>
<line x1="496" y1="54.2" x2="498.6" y2="54.2" stroke="#222" stroke-width="0.9"/>
<text x="501.10" y="57.00" font-size="7.8" text-anchor="start" font-weight="normal" fill="#333" textLength="11.8" lengthAdjust="spacingAndGlyphs" style="stroke-width:0.05px">1.5</text>
<line x1="496" y1="74.6" x2="498.6" y2="74.6" stroke="#222" stroke-width="0.9"/>
<text x="501.10" y="77.40" font-size="7.8" text-anchor="start" font-weight="normal" fill="#333" textLength="11.8" lengthAdjust="spacingAndGlyphs" style="stroke-width:0.05px">1.0</text>
<line x1="496" y1="95.0" x2="498.6" y2="95.0" stroke="#222" stroke-width="0.9"/>
<text x="501.10" y="97.80" font-size="7.8" text-anchor="start" font-weight="normal" fill="#333" textLength="11.8" lengthAdjust="spacingAndGlyphs" style="stroke-width:0.05px">0.5</text>
<text x="490.60" y="120.40" font-size="7.6" text-anchor="start" font-weight="normal" fill="#333" style="stroke-width:0.05px">x10<tspan font-size="5.5" dy="-3">9</tspan></text>
<rect x="492.4" y="343.6" width="3.6" height="77.8" fill="url(#cbar)"/>
<line x1="496" y1="344.1" x2="498.6" y2="344.1" stroke="#222" stroke-width="0.9"/>
<text x="501.10" y="346.90" font-size="7.8" text-anchor="start" font-weight="normal" fill="#333" textLength="11.8" lengthAdjust="spacingAndGlyphs" style="stroke-width:0.05px">2.0</text>
<line x1="496" y1="364.5" x2="498.6" y2="364.5" stroke="#222" stroke-width="0.9"/>
<text x="501.10" y="367.30" font-size="7.8" text-anchor="start" font-weight="normal" fill="#333" textLength="11.8" lengthAdjust="spacingAndGlyphs" style="stroke-width:0.05px">1.5</text>
<line x1="496" y1="384.9" x2="498.6" y2="384.9" stroke="#222" stroke-width="0.9"/>
<text x="501.10" y="387.70" font-size="7.8" text-anchor="start" font-weight="normal" fill="#333" textLength="11.8" lengthAdjust="spacingAndGlyphs" style="stroke-width:0.05px">1.0</text>
<line x1="496" y1="405.3" x2="498.6" y2="405.3" stroke="#222" stroke-width="0.9"/>
<text x="501.10" y="408.10" font-size="7.8" text-anchor="start" font-weight="normal" fill="#333" textLength="11.8" lengthAdjust="spacingAndGlyphs" style="stroke-width:0.05px">0.5</text>
<text x="490.60" y="431.00" font-size="7.6" text-anchor="start" font-weight="normal" fill="#333" style="stroke-width:0.05px">x10<tspan font-size="5.5" dy="-3">9</tspan></text>
<svg x="195" y="176" width="71.00" height="53.50" viewBox="195 176 71.00 53.50" overflow="hidden">
<rect x="195" y="176" width="71.00" height="53.50" fill="#9468ee" />
<rect x="195" y="176" width="71.00" height="53.50" filter="url(#dk1)"/>
<rect x="195" y="176" width="71.00" height="53.50" filter="url(#lt1)"/>
<ellipse cx="203" cy="206" rx="4" ry="8" fill="#c070d0" opacity="0.5" filter="url(#bl2)"/>
</svg>
<svg x="268" y="176" width="70.00" height="53.50" viewBox="268 176 70.00 53.50" overflow="hidden">
<rect x="268" y="176" width="70.00" height="53.50" fill="#7862d6" />
<rect x="268" y="176" width="70.00" height="53.50" filter="url(#dk2)"/>
<rect x="268" y="176" width="70.00" height="53.50" filter="url(#lt2)"/>
<rect x="268" y="176" width="70.00" height="53.50" filter="url(#lt1)"/>
<path d="M272,216 Q280,224 290,230" stroke="#d8a8e8" stroke-width="2" fill="none" opacity="0.7"/>
<path d="M298,182 Q308,180 318,186" stroke="#c8a0e8" stroke-width="1.5" fill="none" opacity="0.6"/>
</svg>
<svg x="340" y="176" width="70.00" height="53.50" viewBox="340 176 70.00 53.50" overflow="hidden">
<rect x="340" y="176" width="70.00" height="53.50" fill="#8c6ccc" />
<rect x="340" y="176" width="70.00" height="53.50" filter="url(#pk1)"/>
<rect x="340" y="176" width="70.00" height="53.50" filter="url(#dk2)"/>
<rect x="340" y="176" width="70.00" height="53.50" filter="url(#lt1)"/>
<rect x="340" y="176" width="70.00" height="53.50" filter="url(#lt3)"/>
<ellipse cx="352" cy="187" rx="3" ry="2" fill="#f4eaf4" opacity="0.85" filter="url(#bl1)"/>
<ellipse cx="380" cy="197" rx="2" ry="2" fill="#f4eaf4" opacity="0.85" filter="url(#bl1)"/>
<ellipse cx="406" cy="188" rx="3" ry="4" fill="#f4eaf4" opacity="0.85" filter="url(#bl1)"/>
<ellipse cx="344" cy="216" rx="2" ry="2" fill="#f4eaf4" opacity="0.85" filter="url(#bl1)"/>
<ellipse cx="398" cy="214" rx="2" ry="2" fill="#f4eaf4" opacity="0.85" filter="url(#bl1)"/>
<ellipse cx="348" cy="201" rx="6" ry="5" fill="#c870c0" opacity="0.35" filter="url(#bl2)"/>
<ellipse cx="370" cy="186" rx="6" ry="4" fill="#c870c0" opacity="0.35" filter="url(#bl2)"/>
<ellipse cx="390" cy="206" rx="7" ry="6" fill="#c870c0" opacity="0.35" filter="url(#bl2)"/>
<ellipse cx="360" cy="221" rx="6" ry="4" fill="#c870c0" opacity="0.35" filter="url(#bl2)"/>
<ellipse cx="402" cy="184" rx="5" ry="4" fill="#c870c0" opacity="0.35" filter="url(#bl2)"/>
</svg>
<svg x="412" y="176" width="70.00" height="53.50" viewBox="412 176 70.00 53.50" overflow="hidden">
<rect x="412" y="176" width="70.00" height="53.50" fill="#7052c0" />
<rect x="412" y="176" width="70.00" height="53.50" filter="url(#dk3)"/>
<rect x="412" y="176" width="70.00" height="53.50" filter="url(#lt1)"/>
<path d="M412,176 H482 V184 Q470,186 457,182 Q442,180 434,187 Q422,188 412,185 Z" fill="#d89ade"/>
<path transform="translate(412,176)" d="M4,12 Q10,9 13,14 Q12,20 8,22 Q3,20 4,12 Z" fill="#f4ecf6" opacity="0.92" filter="url(#bl1)"/>
<path transform="translate(412,176)" d="M22,18 Q28,16 32,22 Q34,28 28,30 Q22,27 22,18 Z" fill="#f4ecf6" opacity="0.92" filter="url(#bl1)"/>
<path transform="translate(412,176)" d="M38,10 Q46,8 50,12 Q48,17 42,16 Q37,15 38,10 Z" fill="#f4ecf6" opacity="0.92" filter="url(#bl1)"/>
<path transform="translate(412,176)" d="M52,24 Q56,18 60,24 Q60,32 55,34 Q50,30 52,24 Z" fill="#f4ecf6" opacity="0.92" filter="url(#bl1)"/>
<path transform="translate(412,176)" d="M10,36 Q16,33 22,38 Q20,44 13,44 Q8,41 10,36 Z" fill="#f4ecf6" opacity="0.92" filter="url(#bl1)"/>
<path transform="translate(412,176)" d="M34,38 Q40,36 42,41 Q40,46 34,45 Q31,42 34,38 Z" fill="#f4ecf6" opacity="0.92" filter="url(#bl1)"/>
<path transform="translate(412,176)" d="M62,38 Q68,36 70,42 Q68,48 63,46 Q60,42 62,38 Z" fill="#f4ecf6" opacity="0.92" filter="url(#bl1)"/>
<path transform="translate(412,176)" d="M1,46 Q6,44 7,50 Q4,54 1,52 Z" fill="#f4ecf6" opacity="0.92" filter="url(#bl1)"/>
<rect x="412" y="176" width="70.00" height="53.50" filter="url(#pk1)"/>
</svg>
<text x="0" y="0" font-size="7.6" text-anchor="middle" fill="#2a2a2a" textLength="48" lengthAdjust="spacingAndGlyphs" style="stroke-width:0.25px" transform="translate(192.60,203.20) rotate(-90)">Marrow (40X)</text>
<svg x="195" y="234" width="71.00" height="53.50" viewBox="195 234 71.00 53.50" overflow="hidden">
<rect x="195" y="234" width="71.00" height="53.50" fill="#7a58d4" />
<ellipse cx="199.00" cy="244.00" rx="6" ry="10" fill="#c878d0" opacity="0.8" filter="url(#bl2)" />
<ellipse cx="261.00" cy="274.00" rx="6" ry="10" fill="#b070d0" opacity="0.7" filter="url(#bl2)" />
<ellipse cx="230.00" cy="236.00" rx="20" ry="4" fill="#8a70e0" opacity="0.6" filter="url(#bl2)" />
<rect x="195" y="234" width="71.00" height="53.50" filter="url(#dk3)"/>
<path d="M199.30,260.00 C199.30,248.41 211.57,241.30 231.60,241.30 C251.63,241.30 263.90,248.41 263.90,260.00 C263.90,274.96 257.44,278.70 231.60,278.70 C205.76,278.70 199.30,274.96 199.30,260.00 Z" fill="#fbf8fc" opacity="1" filter="url(#bl1)"/>
<path d="M201.80,261.40 C201.80,252.35 213.09,246.80 231.50,246.80 C249.91,246.80 261.20,252.35 261.20,261.40 C261.20,273.08 255.26,276.00 231.50,276.00 C207.74,276.00 201.80,273.08 201.80,261.40 Z" fill="#bea2e6" opacity="1" filter="url(#bl1)"/>
</svg>
<svg x="268" y="234" width="70.00" height="53.50" viewBox="268 234 70.00 53.50" overflow="hidden">
<rect x="268" y="234" width="70.00" height="53.50" fill="#c070d0" />
<ellipse cx="303.00" cy="238.00" rx="28" ry="7" fill="#6a4ccc" opacity="0.9" filter="url(#bl2)" />
<ellipse cx="303.00" cy="284.00" rx="26" ry="8" fill="#6248c8" opacity="0.95" filter="url(#bl2)" />
<ellipse cx="271.00" cy="264.00" rx="4" ry="20" fill="#e080c8" opacity="0.8" filter="url(#bl2)" />
<ellipse cx="335.00" cy="264.00" rx="4" ry="20" fill="#e080c8" opacity="0.8" filter="url(#bl2)" />
<rect x="268" y="234" width="70.00" height="53.50" filter="url(#dk3)"/>
<path d="M276.30,259.75 C276.30,248.38 287.64,240.80 304.65,240.80 C321.66,240.80 333.00,248.38 333.00,259.75 C333.00,273.96 325.91,278.70 304.65,278.70 C283.39,278.70 276.30,273.96 276.30,259.75 Z" fill="#fbf8fc" opacity="1" filter="url(#bl1)"/>
<path d="M278.60,260.55 C278.60,250.66 288.44,244.60 304.50,244.60 C320.56,244.60 330.40,250.66 330.40,260.55 C330.40,270.99 325.22,273.60 304.50,273.60 C283.78,273.60 278.60,270.99 278.60,260.55 Z" fill="#bea2e6" opacity="1" filter="url(#bl1)"/>
</svg>
<svg x="340" y="234" width="70.00" height="53.50" viewBox="340 234 70.00 53.50" overflow="hidden">
<rect x="340" y="234" width="70.00" height="53.50" fill="#d47ccc" />
<ellipse cx="346.00" cy="248.00" rx="7" ry="12" fill="#7048c4" opacity="0.8" filter="url(#bl2)" />
<ellipse cx="405.00" cy="248.00" rx="6" ry="12" fill="#7048c4" opacity="0.8" filter="url(#bl2)" />
<ellipse cx="375.00" cy="283.00" rx="26" ry="7" fill="#6e48c4" opacity="0.85" filter="url(#bl2)" />
<rect x="340" y="234" width="70.00" height="53.50" filter="url(#pk2)"/>
<rect x="340" y="234" width="70.00" height="53.50" filter="url(#dk3)"/>
<path d="M349.70,257.55 C349.70,246.74 357.72,242.10 376.45,242.10 C395.18,242.10 403.20,246.74 403.20,257.55 C403.20,269.91 397.85,273.00 376.45,273.00 C355.05,273.00 349.70,269.91 349.70,257.55 Z" fill="#fbf8fc" opacity="1" filter="url(#bl1)"/>
<path d="M352.30,257.60 C352.30,248.50 359.55,244.60 376.45,244.60 C393.36,244.60 400.60,248.50 400.60,257.60 C400.60,268.00 395.77,270.60 376.45,270.60 C357.13,270.60 352.30,268.00 352.30,257.60 Z" fill="#c2a6e6" opacity="1" filter="url(#bl1)"/>
</svg>
<svg x="412" y="234" width="70.00" height="53.50" viewBox="412 234 70.00 53.50" overflow="hidden">
<rect x="412" y="234" width="70.00" height="53.50" fill="#e6c6e8" />
<rect x="412" y="234" width="70.00" height="53.50" filter="url(#dk3)"/>
<path transform="translate(412,234)" d="M0,14 L12,18 L24,30 L30,42 L44,44 L58,40 L64,28 L71,20 L71,40 L62,50 L50,55 L20,55 L8,48 L0,40 Z" fill="#c455b8" opacity="0.9" filter="url(#bl2)"/>
<ellipse cx="420.00" cy="264.00" rx="6" ry="8" fill="#7a52c8" opacity="0.6" filter="url(#bl2)" />
<ellipse cx="447.00" cy="284.00" rx="20" ry="4" fill="#7a52c8" opacity="0.55" filter="url(#bl2)" />
<ellipse cx="417.00" cy="282.00" rx="6" ry="5" fill="#f0e0f0" opacity="0.8" filter="url(#bl2)" />
<path transform="translate(412,234)" d="M36.9,3.5 L61,18.5 L57,38.5 L52,41.2 L22,41.2 L19,38.5 L15.5,18.5 Z" fill="#fbf8fc" opacity="1" filter="url(#bl1)"/>
<path transform="translate(412,234)" d="M36.9,5.5 L58,19.5 L54.5,37.8 L20,37.8 L17.5,19.5 Z" fill="#b8a0e4" opacity="1" filter="url(#bl1)"/>
</svg>
<text x="0" y="0" font-size="7.6" text-anchor="middle" fill="#2a2a2a" textLength="57" lengthAdjust="spacingAndGlyphs" style="stroke-width:0.25px" transform="translate(192.60,261.00) rotate(-90)">Spinal cord (4X)</text>
<svg x="195" y="479.7" width="71.00" height="52.80" viewBox="195 479.7 71.00 52.80" overflow="hidden">
<rect x="195" y="479.7" width="71.00" height="52.80" fill="#7a62de" />
<rect x="195" y="479.7" width="71.00" height="52.80" filter="url(#dk1)"/>
<rect x="195" y="479.7" width="71.00" height="52.80" filter="url(#lt1)"/>
<path d="M225,479.7 Q231,487.7 247,488.7 Q255,487.7 258,479.7 Z" fill="#d070c8"/>
<ellipse cx="207" cy="530.5" rx="6" ry="4" fill="#d070c8" opacity="0.7" filter="url(#bl2)"/>
</svg>
<svg x="268" y="479.7" width="70.00" height="52.80" viewBox="268 479.7 70.00 52.80" overflow="hidden">
<rect x="268" y="479.7" width="70.00" height="52.80" fill="#7260d8" />
<rect x="268" y="479.7" width="70.00" height="52.80" filter="url(#dk1)"/>
<rect x="268" y="479.7" width="70.00" height="52.80" filter="url(#pk2)"/>
<rect x="268" y="479.7" width="70.00" height="52.80" filter="url(#lt1)"/>
<ellipse cx="287" cy="487.7" rx="4" ry="3" fill="none" stroke="#e8d8f8" stroke-width="1" opacity="0.8"/>
<ellipse cx="328" cy="516.7" rx="3" ry="4" fill="none" stroke="#e8d8f8" stroke-width="1" opacity="0.8"/>
</svg>
<svg x="340" y="479.7" width="70.00" height="52.80" viewBox="340 479.7 70.00 52.80" overflow="hidden">
<rect x="340" y="479.7" width="70.00" height="52.80" fill="#7e5cd8" />
<rect x="340" y="479.7" width="70.00" height="52.80" filter="url(#dk1)"/>
<rect x="340" y="479.7" width="70.00" height="52.80" filter="url(#pk1)"/>
<rect x="340" y="479.7" width="70.00" height="52.80" filter="url(#lt1)"/>
</svg>
<svg x="412" y="479.7" width="70.00" height="52.80" viewBox="412 479.7 70.00 52.80" overflow="hidden">
<rect x="412" y="479.7" width="70.00" height="52.80" fill="#7a50c4" />
<rect x="412" y="479.7" width="70.00" height="52.80" filter="url(#dk3)"/>
<rect x="412" y="479.7" width="70.00" height="52.80" filter="url(#pk1)"/>
<path d="M412,479.7 H482 V482.7 Q452,486.7 432,483.7 Q422,484.7 412,483.7 Z" fill="#d88ad8"/>
<path d="M412,532.5 H482 V529.5 Q452,527.5 412,528.5 Z" fill="#d88ad8"/>
<ellipse cx="427" cy="488.7" rx="3.5" ry="3.5" fill="#fbf6fb" filter="url(#bl1)"/>
<ellipse cx="437" cy="495.7" rx="2.5" ry="2.5" fill="#fbf6fb" filter="url(#bl1)"/>
<ellipse cx="424" cy="500.7" rx="4" ry="3.5" fill="#fbf6fb" filter="url(#bl1)"/>
<ellipse cx="430" cy="507.7" rx="3" ry="3" fill="#fbf6fb" filter="url(#bl1)"/>
<ellipse cx="448" cy="492.7" rx="3.2" ry="2.5" fill="#fbf6fb" filter="url(#bl1)"/>
<ellipse cx="454" cy="497.7" rx="4" ry="3" fill="#fbf6fb" filter="url(#bl1)"/>
<ellipse cx="459" cy="491.7" rx="3" ry="2.5" fill="#fbf6fb" filter="url(#bl1)"/>
<ellipse cx="415" cy="525.7" rx="3" ry="3" fill="#fbf6fb" filter="url(#bl1)"/>
<ellipse cx="438" cy="493.7" rx="1.5" ry="1.5" fill="#fbf6fb" filter="url(#bl1)"/>
<rect x="412" y="479.7" width="70.00" height="52.80" filter="url(#lt3)"/>
</svg>
<text x="0" y="0" font-size="7.6" text-anchor="middle" fill="#2a2a2a" textLength="47.1" lengthAdjust="spacingAndGlyphs" style="stroke-width:0.25px" transform="translate(192.60,505.90) rotate(-90)">Marrow (40X)</text>
<svg x="195" y="537" width="71.00" height="53.50" viewBox="195 537 71.00 53.50" overflow="hidden">
<rect x="195" y="537" width="71.00" height="53.50" fill="#d070cc" />
<ellipse cx="230.00" cy="546.00" rx="28" ry="11" fill="#6448cc" opacity="0.95" filter="url(#bl2)" />
<ellipse cx="230.00" cy="584.00" rx="30" ry="10" fill="#6a4ad0" opacity="0.95" filter="url(#bl2)" />
<ellipse cx="261.00" cy="577.00" rx="5" ry="10" fill="#7a5ad0" opacity="0.6" filter="url(#bl2)" />
<ellipse cx="201.00" cy="573.00" rx="5" ry="12" fill="#8a60d0" opacity="0.5" filter="url(#bl2)" />
<rect x="195" y="537" width="71.00" height="53.50" filter="url(#dk3)"/>
<line x1="212" y1="577" x2="213" y2="591" stroke="#4a30a8" stroke-width="0.8" opacity="0.6"/>
<line x1="218" y1="577" x2="219" y2="591" stroke="#4a30a8" stroke-width="0.8" opacity="0.6"/>
<line x1="224" y1="577" x2="225" y2="591" stroke="#4a30a8" stroke-width="0.8" opacity="0.6"/>
<line x1="230" y1="577" x2="231" y2="591" stroke="#4a30a8" stroke-width="0.8" opacity="0.6"/>
<line x1="236" y1="577" x2="237" y2="591" stroke="#4a30a8" stroke-width="0.8" opacity="0.6"/>
<line x1="242" y1="577" x2="243" y2="591" stroke="#4a30a8" stroke-width="0.8" opacity="0.6"/>
<line x1="248" y1="577" x2="249" y2="591" stroke="#4a30a8" stroke-width="0.8" opacity="0.6"/>
<line x1="254" y1="577" x2="255" y2="591" stroke="#4a30a8" stroke-width="0.8" opacity="0.6"/>
<path d="M207.8,573 C207,557 218,547.4 231.7,547.4 C246,547.4 257,558 255.2,576.4 L252.5,573 C253,562 245,556 231.7,556 C219,556 211,562 210.1,572 Z" fill="#fbf8fc" filter="url(#bl1)"/>
<path d="M210,572 C211,562 219,556 231.7,556 C245,556 253,562 252.5,573 C250,577.5 245,577.5 240,575.5 C235,577.5 228,577.5 222,575.5 C217,577.5 212,576 210,572 Z" fill="#b99ce6" filter="url(#bl1)"/>
</svg>
<svg x="268" y="537" width="70.00" height="53.50" viewBox="268 537 70.00 53.50" overflow="hidden">
<rect x="268" y="537" width="70.00" height="53.50" fill="#d27ccc" />
<ellipse cx="302.00" cy="548.00" rx="20" ry="7" fill="#5c4ac8" opacity="0.9" filter="url(#bl2)" />
<ellipse cx="304.00" cy="584.00" rx="21" ry="7" fill="#6448c8" opacity="0.95" filter="url(#bl2)" />
<ellipse cx="272.00" cy="567.00" rx="5" ry="8" fill="#7a5ad0" opacity="0.5" filter="url(#bl2)" />
<rect x="268" y="537" width="70.00" height="53.50" filter="url(#pk2)"/>
<rect x="268" y="537" width="70.00" height="53.50" filter="url(#lt3)"/>
<path transform="translate(268,537)" d="M8,0 Q12,20 6,54" stroke="#f4e4f4" stroke-width="1" fill="none" opacity="0.8"/>
<path transform="translate(268,537)" d="M62,0 Q60,25 68,54" stroke="#f4e4f4" stroke-width="1" fill="none" opacity="0.8"/>
<path transform="translate(268,537)" d="M20,20 Q30,16 50,20" stroke="#f4e4f4" stroke-width="1" fill="none" opacity="0.8"/>
<path transform="translate(268,537)" d="M0,40 Q20,34 30,40" stroke="#f4e4f4" stroke-width="1" fill="none" opacity="0.8"/>
<ellipse cx="300.00" cy="565.30" rx="16.5" ry="8" fill="#fbf8fc" opacity="1" filter="url(#bl1)" />
<ellipse cx="301.60" cy="566.00" rx="6" ry="5.5" fill="#c6a2e6" opacity="1" filter="url(#bl1)" />
<ellipse cx="290.00" cy="565.00" rx="3" ry="2" fill="#5a1838" opacity="0.9" filter="url(#bl2)" />
<ellipse cx="313.00" cy="562.00" rx="3" ry="2" fill="#5a1838" opacity="0.8" filter="url(#bl2)" />
<ellipse cx="313.00" cy="568.00" rx="2.5" ry="1.5" fill="#5a1838" opacity="0.8" filter="url(#bl2)" />
</svg>
<svg x="340" y="537" width="70.00" height="53.50" viewBox="340 537 70.00 53.50" overflow="hidden">
<rect x="340" y="537" width="70.00" height="53.50" fill="#d07ccc" />
<ellipse cx="375.00" cy="545.00" rx="28" ry="9" fill="#6a48c8" opacity="0.9" filter="url(#bl2)" />
<ellipse cx="374.00" cy="585.00" rx="24" ry="6" fill="#6a48c8" opacity="0.95" filter="url(#bl2)" />
<rect x="340" y="537" width="70.00" height="53.50" filter="url(#dk3)"/>
<path d="M345.50,563.30 C345.50,550.56 353.45,545.60 373.90,545.60 C394.35,545.60 402.30,550.56 402.30,563.30 C402.30,579.58 400.03,581.00 373.90,581.00 C347.77,581.00 345.50,579.58 345.50,563.30 Z" fill="#fbf8fc" opacity="1" filter="url(#bl1)"/>
<path d="M349.50,563.50 C349.50,554.05 357.00,550.00 374.50,550.00 C392.00,550.00 399.50,554.05 399.50,563.50 C399.50,575.92 397.50,577.00 374.50,577.00 C351.50,577.00 349.50,575.92 349.50,563.50 Z" fill="#c2a6e6" opacity="1" filter="url(#bl1)"/>
<ellipse cx="350.00" cy="584.00" rx="3" ry="1.2" fill="#5a1838" opacity="0.8" filter="url(#bl2)" />
<ellipse cx="396.00" cy="582.00" rx="3" ry="1.2" fill="#5a1838" opacity="0.8" filter="url(#bl2)" />
</svg>
<svg x="412" y="537" width="70.00" height="53.50" viewBox="412 537 70.00 53.50" overflow="hidden">
<rect x="412" y="537" width="70.00" height="53.50" fill="#d476cc" />
<ellipse cx="420.00" cy="551.00" rx="7" ry="10" fill="#6a4ac8" opacity="0.7" filter="url(#bl2)" />
<ellipse cx="474.00" cy="551.00" rx="7" ry="10" fill="#6a4ac8" opacity="0.7" filter="url(#bl2)" />
<ellipse cx="448.00" cy="584.00" rx="24" ry="8" fill="#6a4ac8" opacity="0.8" filter="url(#bl2)" />
<rect x="412" y="537" width="70.00" height="53.50" filter="url(#pk2)"/>
<rect x="412" y="537" width="70.00" height="53.50" filter="url(#dk3)"/>
<path transform="translate(412,537)" d="M30,0 Q35,8 40,0" stroke="#f4e4f4" stroke-width="1.2" fill="none" opacity="0.8"/>
<path transform="translate(412,537)" d="M0,50 Q10,44 20,54" stroke="#f4e4f4" stroke-width="1.2" fill="none" opacity="0.8"/>
<path transform="translate(412,537)" d="M50,54 Q60,44 71,50" stroke="#f4e4f4" stroke-width="1.2" fill="none" opacity="0.8"/>
<path d="M422.00,560.10 C422.00,549.76 430.40,544.20 446.00,544.20 C461.60,544.20 470.00,549.76 470.00,560.10 C470.00,573.62 466.40,576.00 446.00,576.00 C425.60,576.00 422.00,573.62 422.00,560.10 Z" fill="#fbf8fc" opacity="1" filter="url(#bl1)"/>
<line x1="445" y1="536" x2="445.5" y2="546" stroke="#fbf8fc" stroke-width="1.5"/>
<path transform="translate(412,537)" d="M19,16 C23,13 29,13.5 34,15 C40,13.5 47,13 52,16 C56,21 56,31 52,35 C47,38 41,38 37,35.5 L33,35.5 C29,38 23,38 19,35 C16,31 16,21 19,16 Z" fill="#b692e0" opacity="1" filter="url(#bl1)"/>
<ellipse cx="468.00" cy="568.00" rx="3" ry="4" fill="#6a1848" opacity="0.85" filter="url(#bl2)" />
</svg>
<text x="0" y="0" font-size="7.6" text-anchor="middle" fill="#2a2a2a" textLength="56.4" lengthAdjust="spacingAndGlyphs" style="stroke-width:0.25px" transform="translate(192.60,565.20) rotate(-90)">Spinal cord (4X)</text>
<rect x="0.7" y="0.7" width="518.6" height="630.6" fill="none" stroke="#000" stroke-width="1.6"/>
</svg></body></html>
